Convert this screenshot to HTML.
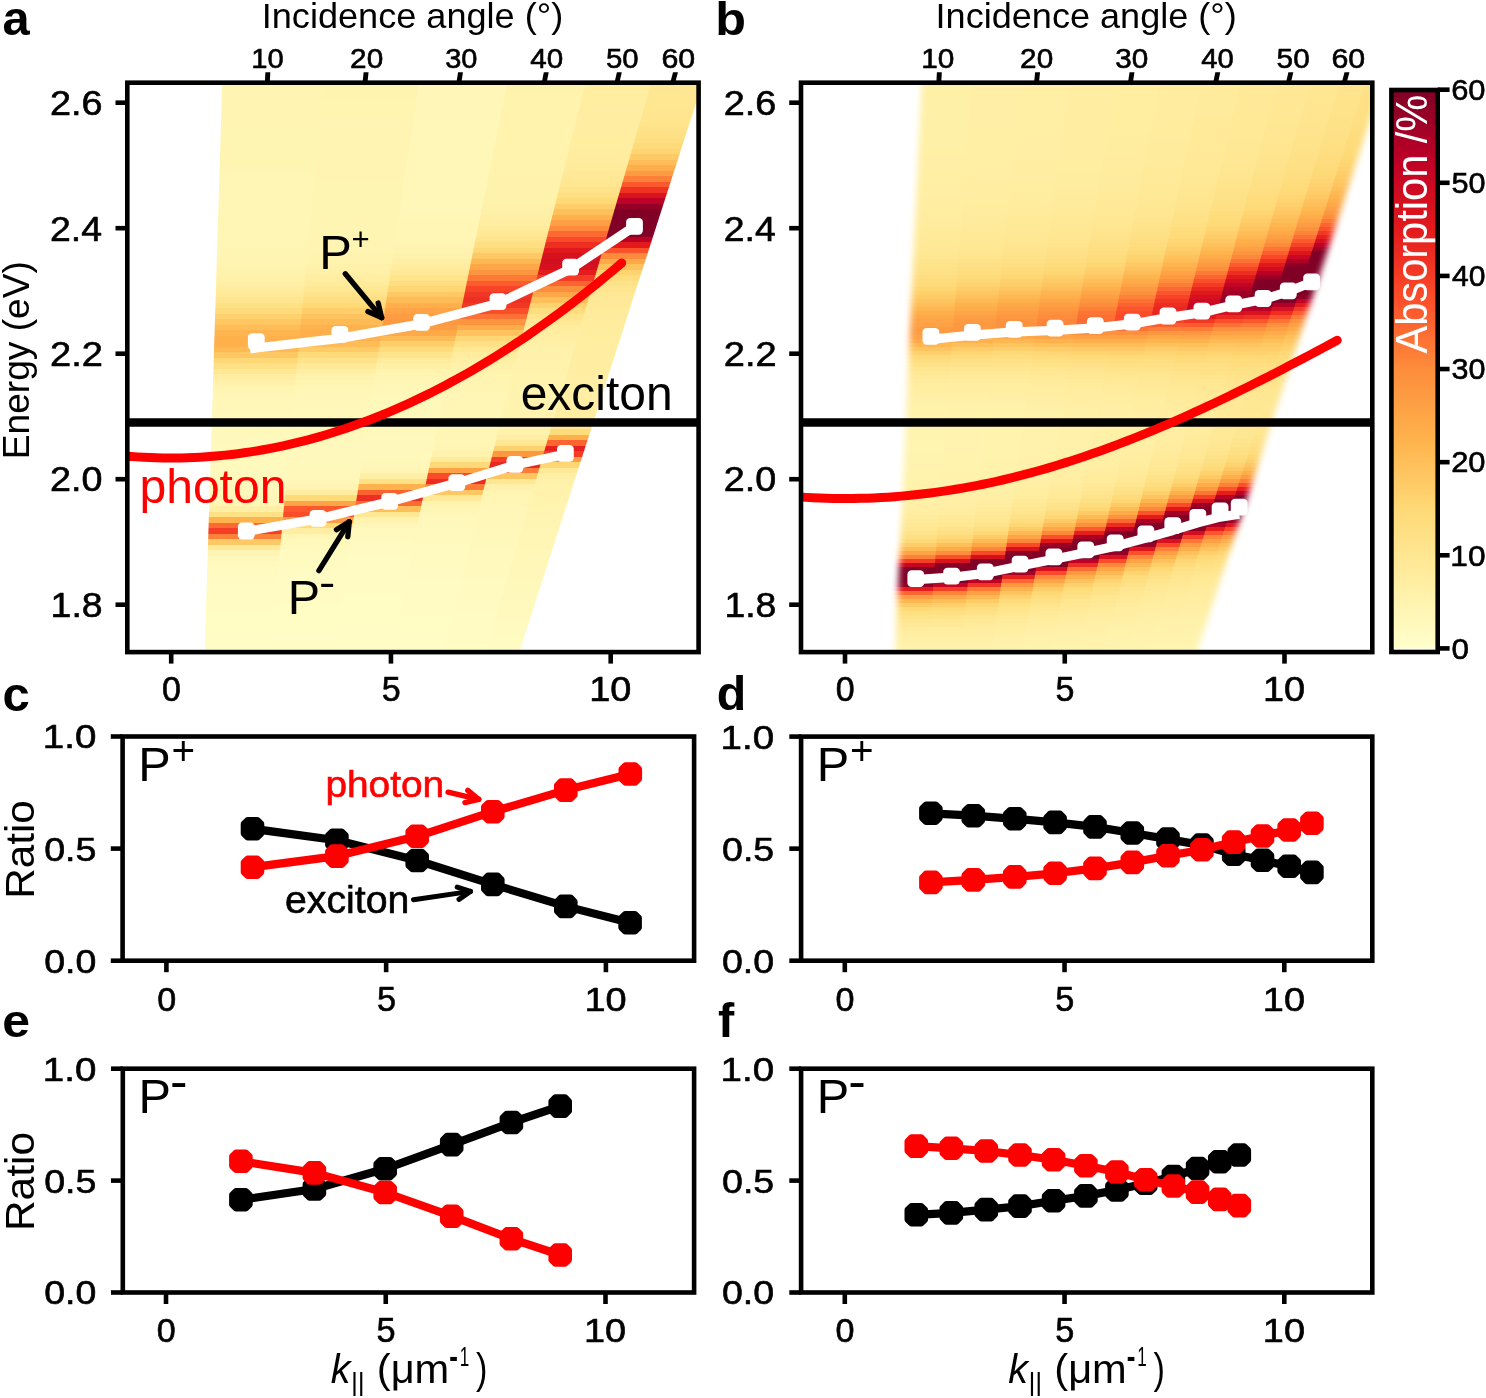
<!DOCTYPE html>
<html><head><meta charset="utf-8"><style>html,body{margin:0;padding:0;background:#fff;overflow:hidden}svg{display:block;will-change:transform}</style></head><body>
<svg width="1486" height="1398" viewBox="0 0 1486 1398" font-family="'Liberation Sans', sans-serif">
<rect width="1486" height="1398" fill="#fff"/>
<defs><clipPath id="cpa"><rect x="127.30" y="82.70" width="571.30" height="569.40"/></clipPath>
<clipPath id="cpb"><rect x="801.00" y="82.70" width="571.30" height="569.40"/></clipPath></defs>
<g clip-path="url(#cpa)">
<linearGradient id="g1" gradientUnits="userSpaceOnUse" x1="0" y1="82.70" x2="0" y2="652.10"><stop offset="0.0000" stop-color="#fff4b1"/><stop offset="0.0097" stop-color="#fff4b1"/><stop offset="0.0097" stop-color="#fff4b1"/><stop offset="0.0193" stop-color="#fff4b1"/><stop offset="0.0193" stop-color="#fff4b1"/><stop offset="0.0290" stop-color="#fff4b1"/><stop offset="0.0290" stop-color="#fff4b2"/><stop offset="0.0386" stop-color="#fff4b2"/><stop offset="0.0386" stop-color="#fff4b2"/><stop offset="0.0483" stop-color="#fff4b2"/><stop offset="0.0483" stop-color="#fff4b2"/><stop offset="0.0580" stop-color="#fff4b2"/><stop offset="0.0580" stop-color="#fff4b2"/><stop offset="0.0676" stop-color="#fff4b2"/><stop offset="0.0676" stop-color="#fff4b2"/><stop offset="0.0773" stop-color="#fff4b2"/><stop offset="0.0773" stop-color="#fff5b2"/><stop offset="0.0869" stop-color="#fff5b2"/><stop offset="0.0869" stop-color="#fff5b3"/><stop offset="0.0966" stop-color="#fff5b3"/><stop offset="0.0966" stop-color="#fff5b3"/><stop offset="0.1063" stop-color="#fff5b3"/><stop offset="0.1063" stop-color="#fff5b3"/><stop offset="0.1159" stop-color="#fff5b3"/><stop offset="0.1159" stop-color="#fff5b3"/><stop offset="0.1256" stop-color="#fff5b3"/><stop offset="0.1256" stop-color="#fff5b3"/><stop offset="0.1352" stop-color="#fff5b3"/><stop offset="0.1352" stop-color="#fff5b3"/><stop offset="0.1449" stop-color="#fff5b3"/><stop offset="0.1449" stop-color="#fff5b3"/><stop offset="0.1545" stop-color="#fff5b3"/><stop offset="0.1545" stop-color="#fff5b4"/><stop offset="0.1642" stop-color="#fff5b4"/><stop offset="0.1642" stop-color="#fff5b4"/><stop offset="0.1739" stop-color="#fff5b4"/><stop offset="0.1739" stop-color="#fff5b4"/><stop offset="0.1835" stop-color="#fff5b4"/><stop offset="0.1835" stop-color="#fff5b4"/><stop offset="0.1932" stop-color="#fff5b4"/><stop offset="0.1932" stop-color="#fff5b4"/><stop offset="0.2028" stop-color="#fff5b4"/><stop offset="0.2028" stop-color="#fff5b4"/><stop offset="0.2125" stop-color="#fff5b4"/><stop offset="0.2125" stop-color="#fff5b4"/><stop offset="0.2222" stop-color="#fff5b4"/><stop offset="0.2222" stop-color="#fff5b4"/><stop offset="0.2318" stop-color="#fff5b4"/><stop offset="0.2318" stop-color="#fff5b4"/><stop offset="0.2415" stop-color="#fff5b4"/><stop offset="0.2415" stop-color="#fff5b4"/><stop offset="0.2511" stop-color="#fff5b4"/><stop offset="0.2511" stop-color="#fff5b4"/><stop offset="0.2608" stop-color="#fff5b4"/><stop offset="0.2608" stop-color="#fff5b4"/><stop offset="0.2705" stop-color="#fff5b4"/><stop offset="0.2705" stop-color="#fff5b4"/><stop offset="0.2801" stop-color="#fff5b4"/><stop offset="0.2801" stop-color="#fff5b4"/><stop offset="0.2898" stop-color="#fff5b4"/><stop offset="0.2898" stop-color="#fff5b3"/><stop offset="0.2994" stop-color="#fff5b3"/><stop offset="0.2994" stop-color="#fff4b2"/><stop offset="0.3091" stop-color="#fff4b2"/><stop offset="0.3091" stop-color="#fff4b1"/><stop offset="0.3188" stop-color="#fff4b1"/><stop offset="0.3188" stop-color="#fff3af"/><stop offset="0.3284" stop-color="#fff3af"/><stop offset="0.3284" stop-color="#fff2ad"/><stop offset="0.3381" stop-color="#fff2ad"/><stop offset="0.3381" stop-color="#fff1a9"/><stop offset="0.3477" stop-color="#fff1a9"/><stop offset="0.3477" stop-color="#ffefa5"/><stop offset="0.3574" stop-color="#ffefa5"/><stop offset="0.3574" stop-color="#ffec9f"/><stop offset="0.3671" stop-color="#ffec9f"/><stop offset="0.3671" stop-color="#ffe997"/><stop offset="0.3767" stop-color="#ffe997"/><stop offset="0.3767" stop-color="#ffe58f"/><stop offset="0.3864" stop-color="#ffe58f"/><stop offset="0.3864" stop-color="#fee085"/><stop offset="0.3960" stop-color="#fee085"/><stop offset="0.3960" stop-color="#fedb7a"/><stop offset="0.4057" stop-color="#fedb7a"/><stop offset="0.4057" stop-color="#fed16e"/><stop offset="0.4153" stop-color="#fed16e"/><stop offset="0.4153" stop-color="#fec762"/><stop offset="0.4250" stop-color="#fec762"/><stop offset="0.4250" stop-color="#febd57"/><stop offset="0.4347" stop-color="#febd57"/><stop offset="0.4347" stop-color="#feb54f"/><stop offset="0.4443" stop-color="#feb54f"/><stop offset="0.4443" stop-color="#feb04b"/><stop offset="0.4540" stop-color="#feb04b"/><stop offset="0.4540" stop-color="#feb04b"/><stop offset="0.4636" stop-color="#feb04b"/><stop offset="0.4636" stop-color="#feb953"/><stop offset="0.4733" stop-color="#feb953"/><stop offset="0.4733" stop-color="#fec763"/><stop offset="0.4830" stop-color="#fec763"/><stop offset="0.4830" stop-color="#fed875"/><stop offset="0.4926" stop-color="#fed875"/><stop offset="0.4926" stop-color="#fee186"/><stop offset="0.5023" stop-color="#fee186"/><stop offset="0.5023" stop-color="#ffe895"/><stop offset="0.5119" stop-color="#ffe895"/><stop offset="0.5119" stop-color="#ffeea1"/><stop offset="0.5216" stop-color="#ffeea1"/><stop offset="0.5216" stop-color="#fff1aa"/><stop offset="0.5313" stop-color="#fff1aa"/><stop offset="0.5313" stop-color="#fff4b1"/><stop offset="0.5409" stop-color="#fff4b1"/><stop offset="0.5409" stop-color="#fff5b4"/><stop offset="0.5506" stop-color="#fff5b4"/><stop offset="0.5506" stop-color="#fff6b7"/><stop offset="0.5602" stop-color="#fff6b7"/><stop offset="0.5602" stop-color="#fff7b8"/><stop offset="0.5699" stop-color="#fff7b8"/><stop offset="0.5699" stop-color="#fff7b9"/><stop offset="0.5796" stop-color="#fff7b9"/><stop offset="0.5796" stop-color="#fff8ba"/><stop offset="0.5892" stop-color="#fff8ba"/><stop offset="0.5892" stop-color="#fff8bb"/><stop offset="0.5989" stop-color="#fff8bb"/><stop offset="0.5989" stop-color="#fff8bb"/><stop offset="0.6085" stop-color="#fff8bb"/><stop offset="0.6085" stop-color="#fff8bb"/><stop offset="0.6182" stop-color="#fff8bb"/><stop offset="0.6182" stop-color="#fff8bc"/><stop offset="0.6279" stop-color="#fff8bc"/><stop offset="0.6279" stop-color="#fff8bc"/><stop offset="0.6375" stop-color="#fff8bc"/><stop offset="0.6375" stop-color="#fff9bc"/><stop offset="0.6472" stop-color="#fff9bc"/><stop offset="0.6472" stop-color="#fff9bc"/><stop offset="0.6568" stop-color="#fff9bc"/><stop offset="0.6568" stop-color="#fff9bc"/><stop offset="0.6665" stop-color="#fff9bc"/><stop offset="0.6665" stop-color="#fff9bd"/><stop offset="0.6762" stop-color="#fff9bd"/><stop offset="0.6762" stop-color="#fff9bd"/><stop offset="0.6858" stop-color="#fff9bd"/><stop offset="0.6858" stop-color="#fff9bc"/><stop offset="0.6955" stop-color="#fff9bc"/><stop offset="0.6955" stop-color="#fff9bc"/><stop offset="0.7051" stop-color="#fff9bc"/><stop offset="0.7051" stop-color="#fff8bc"/><stop offset="0.7148" stop-color="#fff8bc"/><stop offset="0.7148" stop-color="#fff8bb"/><stop offset="0.7244" stop-color="#fff8bb"/><stop offset="0.7244" stop-color="#fff7b9"/><stop offset="0.7341" stop-color="#fff7b9"/><stop offset="0.7341" stop-color="#fff5b4"/><stop offset="0.7438" stop-color="#fff5b4"/><stop offset="0.7438" stop-color="#ffefa5"/><stop offset="0.7534" stop-color="#ffefa5"/><stop offset="0.7534" stop-color="#fee085"/><stop offset="0.7631" stop-color="#fee085"/><stop offset="0.7631" stop-color="#feb34d"/><stop offset="0.7727" stop-color="#feb34d"/><stop offset="0.7727" stop-color="#fc6932"/><stop offset="0.7824" stop-color="#fc6932"/><stop offset="0.7824" stop-color="#f43e26"/><stop offset="0.7921" stop-color="#f43e26"/><stop offset="0.7921" stop-color="#fd8239"/><stop offset="0.8017" stop-color="#fd8239"/><stop offset="0.8017" stop-color="#fec864"/><stop offset="0.8114" stop-color="#fec864"/><stop offset="0.8114" stop-color="#ffe998"/><stop offset="0.8210" stop-color="#ffe998"/><stop offset="0.8210" stop-color="#fff4b1"/><stop offset="0.8307" stop-color="#fff4b1"/><stop offset="0.8307" stop-color="#fff8bb"/><stop offset="0.8404" stop-color="#fff8bb"/><stop offset="0.8404" stop-color="#fff9be"/><stop offset="0.8500" stop-color="#fff9be"/><stop offset="0.8500" stop-color="#fffabf"/><stop offset="0.8597" stop-color="#fffabf"/><stop offset="0.8597" stop-color="#fffac0"/><stop offset="0.8693" stop-color="#fffac0"/><stop offset="0.8693" stop-color="#fffac1"/><stop offset="0.8790" stop-color="#fffac1"/><stop offset="0.8790" stop-color="#fffbc2"/><stop offset="0.8887" stop-color="#fffbc2"/><stop offset="0.8887" stop-color="#fffbc2"/><stop offset="0.8983" stop-color="#fffbc2"/><stop offset="0.8983" stop-color="#fffbc3"/><stop offset="0.9080" stop-color="#fffbc3"/><stop offset="0.9080" stop-color="#fffbc3"/><stop offset="0.9176" stop-color="#fffbc3"/><stop offset="0.9176" stop-color="#fffbc3"/><stop offset="0.9273" stop-color="#fffbc3"/><stop offset="0.9273" stop-color="#fffcc4"/><stop offset="0.9370" stop-color="#fffcc4"/><stop offset="0.9370" stop-color="#fffcc4"/><stop offset="0.9466" stop-color="#fffcc4"/><stop offset="0.9466" stop-color="#fffcc4"/><stop offset="0.9563" stop-color="#fffcc4"/><stop offset="0.9563" stop-color="#fffcc4"/><stop offset="0.9659" stop-color="#fffcc4"/><stop offset="0.9659" stop-color="#fffcc5"/><stop offset="0.9756" stop-color="#fffcc5"/><stop offset="0.9756" stop-color="#fffcc5"/><stop offset="0.9852" stop-color="#fffcc5"/><stop offset="0.9852" stop-color="#fffcc5"/><stop offset="0.9949" stop-color="#fffcc5"/><stop offset="0.9949" stop-color="#fffcc5"/><stop offset="1.0000" stop-color="#fffcc5"/></linearGradient>
<polygon points="222.30,82.70 323.74,82.70 271.42,652.10 204.68,652.10" fill="url(#g1)"/>
<linearGradient id="g2" gradientUnits="userSpaceOnUse" x1="0" y1="82.70" x2="0" y2="652.10"><stop offset="0.0000" stop-color="#fff3af"/><stop offset="0.0097" stop-color="#fff3af"/><stop offset="0.0097" stop-color="#fff3b0"/><stop offset="0.0193" stop-color="#fff3b0"/><stop offset="0.0193" stop-color="#fff3b0"/><stop offset="0.0290" stop-color="#fff3b0"/><stop offset="0.0290" stop-color="#fff4b0"/><stop offset="0.0386" stop-color="#fff4b0"/><stop offset="0.0386" stop-color="#fff4b0"/><stop offset="0.0483" stop-color="#fff4b0"/><stop offset="0.0483" stop-color="#fff4b0"/><stop offset="0.0580" stop-color="#fff4b0"/><stop offset="0.0580" stop-color="#fff4b1"/><stop offset="0.0676" stop-color="#fff4b1"/><stop offset="0.0676" stop-color="#fff4b1"/><stop offset="0.0773" stop-color="#fff4b1"/><stop offset="0.0773" stop-color="#fff4b1"/><stop offset="0.0869" stop-color="#fff4b1"/><stop offset="0.0869" stop-color="#fff4b1"/><stop offset="0.0966" stop-color="#fff4b1"/><stop offset="0.0966" stop-color="#fff4b1"/><stop offset="0.1063" stop-color="#fff4b1"/><stop offset="0.1063" stop-color="#fff4b1"/><stop offset="0.1159" stop-color="#fff4b1"/><stop offset="0.1159" stop-color="#fff4b2"/><stop offset="0.1256" stop-color="#fff4b2"/><stop offset="0.1256" stop-color="#fff4b2"/><stop offset="0.1352" stop-color="#fff4b2"/><stop offset="0.1352" stop-color="#fff4b2"/><stop offset="0.1449" stop-color="#fff4b2"/><stop offset="0.1449" stop-color="#fff4b2"/><stop offset="0.1545" stop-color="#fff4b2"/><stop offset="0.1545" stop-color="#fff4b2"/><stop offset="0.1642" stop-color="#fff4b2"/><stop offset="0.1642" stop-color="#fff4b2"/><stop offset="0.1739" stop-color="#fff4b2"/><stop offset="0.1739" stop-color="#fff5b2"/><stop offset="0.1835" stop-color="#fff5b2"/><stop offset="0.1835" stop-color="#fff5b3"/><stop offset="0.1932" stop-color="#fff5b3"/><stop offset="0.1932" stop-color="#fff5b3"/><stop offset="0.2028" stop-color="#fff5b3"/><stop offset="0.2028" stop-color="#fff5b3"/><stop offset="0.2125" stop-color="#fff5b3"/><stop offset="0.2125" stop-color="#fff5b3"/><stop offset="0.2222" stop-color="#fff5b3"/><stop offset="0.2222" stop-color="#fff5b3"/><stop offset="0.2318" stop-color="#fff5b3"/><stop offset="0.2318" stop-color="#fff5b3"/><stop offset="0.2415" stop-color="#fff5b3"/><stop offset="0.2415" stop-color="#fff5b3"/><stop offset="0.2511" stop-color="#fff5b3"/><stop offset="0.2511" stop-color="#fff5b3"/><stop offset="0.2608" stop-color="#fff5b3"/><stop offset="0.2608" stop-color="#fff5b3"/><stop offset="0.2705" stop-color="#fff5b3"/><stop offset="0.2705" stop-color="#fff4b2"/><stop offset="0.2801" stop-color="#fff4b2"/><stop offset="0.2801" stop-color="#fff4b2"/><stop offset="0.2898" stop-color="#fff4b2"/><stop offset="0.2898" stop-color="#fff4b1"/><stop offset="0.2994" stop-color="#fff4b1"/><stop offset="0.2994" stop-color="#fff3b0"/><stop offset="0.3091" stop-color="#fff3b0"/><stop offset="0.3091" stop-color="#fff3ae"/><stop offset="0.3188" stop-color="#fff3ae"/><stop offset="0.3188" stop-color="#fff1ab"/><stop offset="0.3284" stop-color="#fff1ab"/><stop offset="0.3284" stop-color="#fff0a7"/><stop offset="0.3381" stop-color="#fff0a7"/><stop offset="0.3381" stop-color="#ffeea2"/><stop offset="0.3477" stop-color="#ffeea2"/><stop offset="0.3477" stop-color="#ffeb9c"/><stop offset="0.3574" stop-color="#ffeb9c"/><stop offset="0.3574" stop-color="#ffe894"/><stop offset="0.3671" stop-color="#ffe894"/><stop offset="0.3671" stop-color="#ffe38b"/><stop offset="0.3767" stop-color="#ffe38b"/><stop offset="0.3767" stop-color="#fede81"/><stop offset="0.3864" stop-color="#fede81"/><stop offset="0.3864" stop-color="#fed976"/><stop offset="0.3960" stop-color="#fed976"/><stop offset="0.3960" stop-color="#fece6a"/><stop offset="0.4057" stop-color="#fece6a"/><stop offset="0.4057" stop-color="#fec35e"/><stop offset="0.4153" stop-color="#fec35e"/><stop offset="0.4153" stop-color="#feba54"/><stop offset="0.4250" stop-color="#feba54"/><stop offset="0.4250" stop-color="#feb24d"/><stop offset="0.4347" stop-color="#feb24d"/><stop offset="0.4347" stop-color="#feaf4b"/><stop offset="0.4443" stop-color="#feaf4b"/><stop offset="0.4443" stop-color="#feb14c"/><stop offset="0.4540" stop-color="#feb14c"/><stop offset="0.4540" stop-color="#febb56"/><stop offset="0.4636" stop-color="#febb56"/><stop offset="0.4636" stop-color="#fecb67"/><stop offset="0.4733" stop-color="#fecb67"/><stop offset="0.4733" stop-color="#feda79"/><stop offset="0.4830" stop-color="#feda79"/><stop offset="0.4830" stop-color="#fee38a"/><stop offset="0.4926" stop-color="#fee38a"/><stop offset="0.4926" stop-color="#ffe998"/><stop offset="0.5023" stop-color="#ffe998"/><stop offset="0.5023" stop-color="#ffeea3"/><stop offset="0.5119" stop-color="#ffeea3"/><stop offset="0.5119" stop-color="#fff2ac"/><stop offset="0.5216" stop-color="#fff2ac"/><stop offset="0.5216" stop-color="#fff4b1"/><stop offset="0.5313" stop-color="#fff4b1"/><stop offset="0.5313" stop-color="#fff5b5"/><stop offset="0.5409" stop-color="#fff5b5"/><stop offset="0.5409" stop-color="#fff6b7"/><stop offset="0.5506" stop-color="#fff6b7"/><stop offset="0.5506" stop-color="#fff7b8"/><stop offset="0.5602" stop-color="#fff7b8"/><stop offset="0.5602" stop-color="#fff7b9"/><stop offset="0.5699" stop-color="#fff7b9"/><stop offset="0.5699" stop-color="#fff8ba"/><stop offset="0.5796" stop-color="#fff8ba"/><stop offset="0.5796" stop-color="#fff8ba"/><stop offset="0.5892" stop-color="#fff8ba"/><stop offset="0.5892" stop-color="#fff8bb"/><stop offset="0.5989" stop-color="#fff8bb"/><stop offset="0.5989" stop-color="#fff8bb"/><stop offset="0.6085" stop-color="#fff8bb"/><stop offset="0.6085" stop-color="#fff8bb"/><stop offset="0.6182" stop-color="#fff8bb"/><stop offset="0.6182" stop-color="#fff8bb"/><stop offset="0.6279" stop-color="#fff8bb"/><stop offset="0.6279" stop-color="#fff8bc"/><stop offset="0.6375" stop-color="#fff8bc"/><stop offset="0.6375" stop-color="#fff8bc"/><stop offset="0.6472" stop-color="#fff8bc"/><stop offset="0.6472" stop-color="#fff8bc"/><stop offset="0.6568" stop-color="#fff8bc"/><stop offset="0.6568" stop-color="#fff8bc"/><stop offset="0.6665" stop-color="#fff8bc"/><stop offset="0.6665" stop-color="#fff8bb"/><stop offset="0.6762" stop-color="#fff8bb"/><stop offset="0.6762" stop-color="#fff8bb"/><stop offset="0.6858" stop-color="#fff8bb"/><stop offset="0.6858" stop-color="#fff8ba"/><stop offset="0.6955" stop-color="#fff8ba"/><stop offset="0.6955" stop-color="#fff7b8"/><stop offset="0.7051" stop-color="#fff7b8"/><stop offset="0.7051" stop-color="#fff4b1"/><stop offset="0.7148" stop-color="#fff4b1"/><stop offset="0.7148" stop-color="#ffec9e"/><stop offset="0.7244" stop-color="#ffec9e"/><stop offset="0.7244" stop-color="#feda78"/><stop offset="0.7341" stop-color="#feda78"/><stop offset="0.7341" stop-color="#fea346"/><stop offset="0.7438" stop-color="#fea346"/><stop offset="0.7438" stop-color="#fc582d"/><stop offset="0.7534" stop-color="#fc582d"/><stop offset="0.7534" stop-color="#fb4c29"/><stop offset="0.7631" stop-color="#fb4c29"/><stop offset="0.7631" stop-color="#fd9d43"/><stop offset="0.7727" stop-color="#fd9d43"/><stop offset="0.7727" stop-color="#feda78"/><stop offset="0.7824" stop-color="#feda78"/><stop offset="0.7824" stop-color="#ffeea2"/><stop offset="0.7921" stop-color="#ffeea2"/><stop offset="0.7921" stop-color="#fff6b5"/><stop offset="0.8017" stop-color="#fff6b5"/><stop offset="0.8017" stop-color="#fff8bb"/><stop offset="0.8114" stop-color="#fff8bb"/><stop offset="0.8114" stop-color="#fff9be"/><stop offset="0.8210" stop-color="#fff9be"/><stop offset="0.8210" stop-color="#fffabf"/><stop offset="0.8307" stop-color="#fffabf"/><stop offset="0.8307" stop-color="#fffac0"/><stop offset="0.8404" stop-color="#fffac0"/><stop offset="0.8404" stop-color="#fffac0"/><stop offset="0.8500" stop-color="#fffac0"/><stop offset="0.8500" stop-color="#fffbc1"/><stop offset="0.8597" stop-color="#fffbc1"/><stop offset="0.8597" stop-color="#fffbc2"/><stop offset="0.8693" stop-color="#fffbc2"/><stop offset="0.8693" stop-color="#fffbc2"/><stop offset="0.8790" stop-color="#fffbc2"/><stop offset="0.8790" stop-color="#fffbc2"/><stop offset="0.8887" stop-color="#fffbc2"/><stop offset="0.8887" stop-color="#fffbc3"/><stop offset="0.8983" stop-color="#fffbc3"/><stop offset="0.8983" stop-color="#fffbc3"/><stop offset="0.9080" stop-color="#fffbc3"/><stop offset="0.9080" stop-color="#fffbc3"/><stop offset="0.9176" stop-color="#fffbc3"/><stop offset="0.9176" stop-color="#fffcc4"/><stop offset="0.9273" stop-color="#fffcc4"/><stop offset="0.9273" stop-color="#fffcc4"/><stop offset="0.9370" stop-color="#fffcc4"/><stop offset="0.9370" stop-color="#fffcc4"/><stop offset="0.9466" stop-color="#fffcc4"/><stop offset="0.9466" stop-color="#fffcc4"/><stop offset="0.9563" stop-color="#fffcc4"/><stop offset="0.9563" stop-color="#fffcc5"/><stop offset="0.9659" stop-color="#fffcc5"/><stop offset="0.9659" stop-color="#fffcc5"/><stop offset="0.9756" stop-color="#fffcc5"/><stop offset="0.9756" stop-color="#fffcc5"/><stop offset="0.9852" stop-color="#fffcc5"/><stop offset="0.9852" stop-color="#fffcc5"/><stop offset="0.9949" stop-color="#fffcc5"/><stop offset="0.9949" stop-color="#fffcc6"/><stop offset="1.0000" stop-color="#fffcc6"/></linearGradient>
<polygon points="322.94,82.70 419.77,82.70 334.34,652.10 270.62,652.10" fill="url(#g2)"/>
<linearGradient id="g3" gradientUnits="userSpaceOnUse" x1="0" y1="82.70" x2="0" y2="652.10"><stop offset="0.0000" stop-color="#fff6b7"/><stop offset="0.0097" stop-color="#fff6b7"/><stop offset="0.0097" stop-color="#fff6b7"/><stop offset="0.0193" stop-color="#fff6b7"/><stop offset="0.0193" stop-color="#fff6b7"/><stop offset="0.0290" stop-color="#fff6b7"/><stop offset="0.0290" stop-color="#fff6b7"/><stop offset="0.0386" stop-color="#fff6b7"/><stop offset="0.0386" stop-color="#fff6b7"/><stop offset="0.0483" stop-color="#fff6b7"/><stop offset="0.0483" stop-color="#fff6b7"/><stop offset="0.0580" stop-color="#fff6b7"/><stop offset="0.0580" stop-color="#fff7b7"/><stop offset="0.0676" stop-color="#fff7b7"/><stop offset="0.0676" stop-color="#fff7b7"/><stop offset="0.0773" stop-color="#fff7b7"/><stop offset="0.0773" stop-color="#fff7b7"/><stop offset="0.0869" stop-color="#fff7b7"/><stop offset="0.0869" stop-color="#fff7b7"/><stop offset="0.0966" stop-color="#fff7b7"/><stop offset="0.0966" stop-color="#fff7b8"/><stop offset="0.1063" stop-color="#fff7b8"/><stop offset="0.1063" stop-color="#fff7b8"/><stop offset="0.1159" stop-color="#fff7b8"/><stop offset="0.1159" stop-color="#fff7b8"/><stop offset="0.1256" stop-color="#fff7b8"/><stop offset="0.1256" stop-color="#fff7b8"/><stop offset="0.1352" stop-color="#fff7b8"/><stop offset="0.1352" stop-color="#fff7b8"/><stop offset="0.1449" stop-color="#fff7b8"/><stop offset="0.1449" stop-color="#fff7b8"/><stop offset="0.1545" stop-color="#fff7b8"/><stop offset="0.1545" stop-color="#fff7b8"/><stop offset="0.1642" stop-color="#fff7b8"/><stop offset="0.1642" stop-color="#fff7b8"/><stop offset="0.1739" stop-color="#fff7b8"/><stop offset="0.1739" stop-color="#fff7b8"/><stop offset="0.1835" stop-color="#fff7b8"/><stop offset="0.1835" stop-color="#fff7b8"/><stop offset="0.1932" stop-color="#fff7b8"/><stop offset="0.1932" stop-color="#fff7b8"/><stop offset="0.2028" stop-color="#fff7b8"/><stop offset="0.2028" stop-color="#fff7b7"/><stop offset="0.2125" stop-color="#fff7b7"/><stop offset="0.2125" stop-color="#fff7b7"/><stop offset="0.2222" stop-color="#fff7b7"/><stop offset="0.2222" stop-color="#fff6b7"/><stop offset="0.2318" stop-color="#fff6b7"/><stop offset="0.2318" stop-color="#fff6b7"/><stop offset="0.2415" stop-color="#fff6b7"/><stop offset="0.2415" stop-color="#fff6b6"/><stop offset="0.2511" stop-color="#fff6b6"/><stop offset="0.2511" stop-color="#fff6b6"/><stop offset="0.2608" stop-color="#fff6b6"/><stop offset="0.2608" stop-color="#fff6b5"/><stop offset="0.2705" stop-color="#fff6b5"/><stop offset="0.2705" stop-color="#fff5b4"/><stop offset="0.2801" stop-color="#fff5b4"/><stop offset="0.2801" stop-color="#fff4b2"/><stop offset="0.2898" stop-color="#fff4b2"/><stop offset="0.2898" stop-color="#fff3af"/><stop offset="0.2994" stop-color="#fff3af"/><stop offset="0.2994" stop-color="#fff1ab"/><stop offset="0.3091" stop-color="#fff1ab"/><stop offset="0.3091" stop-color="#ffefa6"/><stop offset="0.3188" stop-color="#ffefa6"/><stop offset="0.3188" stop-color="#ffec9f"/><stop offset="0.3284" stop-color="#ffec9f"/><stop offset="0.3284" stop-color="#ffe997"/><stop offset="0.3381" stop-color="#ffe997"/><stop offset="0.3381" stop-color="#ffe48c"/><stop offset="0.3477" stop-color="#ffe48c"/><stop offset="0.3477" stop-color="#fede81"/><stop offset="0.3574" stop-color="#fede81"/><stop offset="0.3574" stop-color="#fed673"/><stop offset="0.3671" stop-color="#fed673"/><stop offset="0.3671" stop-color="#fec965"/><stop offset="0.3767" stop-color="#fec965"/><stop offset="0.3767" stop-color="#febb56"/><stop offset="0.3864" stop-color="#febb56"/><stop offset="0.3864" stop-color="#feae4a"/><stop offset="0.3960" stop-color="#feae4a"/><stop offset="0.3960" stop-color="#fea346"/><stop offset="0.4057" stop-color="#fea346"/><stop offset="0.4057" stop-color="#fd9c42"/><stop offset="0.4153" stop-color="#fd9c42"/><stop offset="0.4153" stop-color="#fd9941"/><stop offset="0.4250" stop-color="#fd9941"/><stop offset="0.4250" stop-color="#fd9d43"/><stop offset="0.4347" stop-color="#fd9d43"/><stop offset="0.4347" stop-color="#fea948"/><stop offset="0.4443" stop-color="#fea948"/><stop offset="0.4443" stop-color="#febb55"/><stop offset="0.4540" stop-color="#febb55"/><stop offset="0.4540" stop-color="#fece6a"/><stop offset="0.4636" stop-color="#fece6a"/><stop offset="0.4636" stop-color="#fedc7d"/><stop offset="0.4733" stop-color="#fedc7d"/><stop offset="0.4733" stop-color="#ffe48e"/><stop offset="0.4830" stop-color="#ffe48e"/><stop offset="0.4830" stop-color="#ffeb9c"/><stop offset="0.4926" stop-color="#ffeb9c"/><stop offset="0.4926" stop-color="#fff0a6"/><stop offset="0.5023" stop-color="#fff0a6"/><stop offset="0.5023" stop-color="#fff3ae"/><stop offset="0.5119" stop-color="#fff3ae"/><stop offset="0.5119" stop-color="#fff5b3"/><stop offset="0.5216" stop-color="#fff5b3"/><stop offset="0.5216" stop-color="#fff6b6"/><stop offset="0.5313" stop-color="#fff6b6"/><stop offset="0.5313" stop-color="#fff7b8"/><stop offset="0.5409" stop-color="#fff7b8"/><stop offset="0.5409" stop-color="#fff7b9"/><stop offset="0.5506" stop-color="#fff7b9"/><stop offset="0.5506" stop-color="#fff8ba"/><stop offset="0.5602" stop-color="#fff8ba"/><stop offset="0.5602" stop-color="#fff8bb"/><stop offset="0.5699" stop-color="#fff8bb"/><stop offset="0.5699" stop-color="#fff8bb"/><stop offset="0.5796" stop-color="#fff8bb"/><stop offset="0.5796" stop-color="#fff8bc"/><stop offset="0.5892" stop-color="#fff8bc"/><stop offset="0.5892" stop-color="#fff8bc"/><stop offset="0.5989" stop-color="#fff8bc"/><stop offset="0.5989" stop-color="#fff8bc"/><stop offset="0.6085" stop-color="#fff8bc"/><stop offset="0.6085" stop-color="#fff8bc"/><stop offset="0.6182" stop-color="#fff8bc"/><stop offset="0.6182" stop-color="#fff9bc"/><stop offset="0.6279" stop-color="#fff9bc"/><stop offset="0.6279" stop-color="#fff8bc"/><stop offset="0.6375" stop-color="#fff8bc"/><stop offset="0.6375" stop-color="#fff8bc"/><stop offset="0.6472" stop-color="#fff8bc"/><stop offset="0.6472" stop-color="#fff8bb"/><stop offset="0.6568" stop-color="#fff8bb"/><stop offset="0.6568" stop-color="#fff8bb"/><stop offset="0.6665" stop-color="#fff8bb"/><stop offset="0.6665" stop-color="#fff7b9"/><stop offset="0.6762" stop-color="#fff7b9"/><stop offset="0.6762" stop-color="#fff5b4"/><stop offset="0.6858" stop-color="#fff5b4"/><stop offset="0.6858" stop-color="#ffefa5"/><stop offset="0.6955" stop-color="#ffefa5"/><stop offset="0.6955" stop-color="#fee085"/><stop offset="0.7051" stop-color="#fee085"/><stop offset="0.7051" stop-color="#feb24c"/><stop offset="0.7148" stop-color="#feb24c"/><stop offset="0.7148" stop-color="#fc6230"/><stop offset="0.7244" stop-color="#fc6230"/><stop offset="0.7244" stop-color="#ed2f22"/><stop offset="0.7341" stop-color="#ed2f22"/><stop offset="0.7341" stop-color="#fc6b32"/><stop offset="0.7438" stop-color="#fc6b32"/><stop offset="0.7438" stop-color="#febe59"/><stop offset="0.7534" stop-color="#febe59"/><stop offset="0.7534" stop-color="#ffe793"/><stop offset="0.7631" stop-color="#ffe793"/><stop offset="0.7631" stop-color="#fff3af"/><stop offset="0.7727" stop-color="#fff3af"/><stop offset="0.7727" stop-color="#fff7b9"/><stop offset="0.7824" stop-color="#fff7b9"/><stop offset="0.7824" stop-color="#fff9bd"/><stop offset="0.7921" stop-color="#fff9bd"/><stop offset="0.7921" stop-color="#fff9be"/><stop offset="0.8017" stop-color="#fff9be"/><stop offset="0.8017" stop-color="#fffabf"/><stop offset="0.8114" stop-color="#fffabf"/><stop offset="0.8114" stop-color="#fffac0"/><stop offset="0.8210" stop-color="#fffac0"/><stop offset="0.8210" stop-color="#fffac1"/><stop offset="0.8307" stop-color="#fffac1"/><stop offset="0.8307" stop-color="#fffbc1"/><stop offset="0.8404" stop-color="#fffbc1"/><stop offset="0.8404" stop-color="#fffbc2"/><stop offset="0.8500" stop-color="#fffbc2"/><stop offset="0.8500" stop-color="#fffbc2"/><stop offset="0.8597" stop-color="#fffbc2"/><stop offset="0.8597" stop-color="#fffbc2"/><stop offset="0.8693" stop-color="#fffbc2"/><stop offset="0.8693" stop-color="#fffbc3"/><stop offset="0.8790" stop-color="#fffbc3"/><stop offset="0.8790" stop-color="#fffbc3"/><stop offset="0.8887" stop-color="#fffbc3"/><stop offset="0.8887" stop-color="#fffbc3"/><stop offset="0.8983" stop-color="#fffbc3"/><stop offset="0.8983" stop-color="#fffcc4"/><stop offset="0.9080" stop-color="#fffcc4"/><stop offset="0.9080" stop-color="#fffcc4"/><stop offset="0.9176" stop-color="#fffcc4"/><stop offset="0.9176" stop-color="#fffcc4"/><stop offset="0.9273" stop-color="#fffcc4"/><stop offset="0.9273" stop-color="#fffcc4"/><stop offset="0.9370" stop-color="#fffcc4"/><stop offset="0.9370" stop-color="#fffcc4"/><stop offset="0.9466" stop-color="#fffcc4"/><stop offset="0.9466" stop-color="#fffcc5"/><stop offset="0.9563" stop-color="#fffcc5"/><stop offset="0.9563" stop-color="#fffcc5"/><stop offset="0.9659" stop-color="#fffcc5"/><stop offset="0.9659" stop-color="#fffcc5"/><stop offset="0.9756" stop-color="#fffcc5"/><stop offset="0.9756" stop-color="#fffcc5"/><stop offset="0.9852" stop-color="#fffcc5"/><stop offset="0.9852" stop-color="#fffcc5"/><stop offset="0.9949" stop-color="#fffcc5"/><stop offset="0.9949" stop-color="#fffcc6"/><stop offset="1.0000" stop-color="#fffcc6"/></linearGradient>
<polygon points="418.97,82.70 508.27,82.70 392.33,652.10 333.54,652.10" fill="url(#g3)"/>
<linearGradient id="g4" gradientUnits="userSpaceOnUse" x1="0" y1="82.70" x2="0" y2="652.10"><stop offset="0.0000" stop-color="#fff2ad"/><stop offset="0.0097" stop-color="#fff2ad"/><stop offset="0.0097" stop-color="#fff2ad"/><stop offset="0.0193" stop-color="#fff2ad"/><stop offset="0.0193" stop-color="#fff3ad"/><stop offset="0.0290" stop-color="#fff3ad"/><stop offset="0.0290" stop-color="#fff3ae"/><stop offset="0.0386" stop-color="#fff3ae"/><stop offset="0.0386" stop-color="#fff3ae"/><stop offset="0.0483" stop-color="#fff3ae"/><stop offset="0.0483" stop-color="#fff3ae"/><stop offset="0.0580" stop-color="#fff3ae"/><stop offset="0.0580" stop-color="#fff3ae"/><stop offset="0.0676" stop-color="#fff3ae"/><stop offset="0.0676" stop-color="#fff3ae"/><stop offset="0.0773" stop-color="#fff3ae"/><stop offset="0.0773" stop-color="#fff3ae"/><stop offset="0.0869" stop-color="#fff3ae"/><stop offset="0.0869" stop-color="#fff3ae"/><stop offset="0.0966" stop-color="#fff3ae"/><stop offset="0.0966" stop-color="#fff3ae"/><stop offset="0.1063" stop-color="#fff3ae"/><stop offset="0.1063" stop-color="#fff3ae"/><stop offset="0.1159" stop-color="#fff3ae"/><stop offset="0.1159" stop-color="#fff3ae"/><stop offset="0.1256" stop-color="#fff3ae"/><stop offset="0.1256" stop-color="#fff3ae"/><stop offset="0.1352" stop-color="#fff3ae"/><stop offset="0.1352" stop-color="#fff3ae"/><stop offset="0.1449" stop-color="#fff3ae"/><stop offset="0.1449" stop-color="#fff3ae"/><stop offset="0.1545" stop-color="#fff3ae"/><stop offset="0.1545" stop-color="#fff3ae"/><stop offset="0.1642" stop-color="#fff3ae"/><stop offset="0.1642" stop-color="#fff2ad"/><stop offset="0.1739" stop-color="#fff2ad"/><stop offset="0.1739" stop-color="#fff2ad"/><stop offset="0.1835" stop-color="#fff2ad"/><stop offset="0.1835" stop-color="#fff2ad"/><stop offset="0.1932" stop-color="#fff2ad"/><stop offset="0.1932" stop-color="#fff2ac"/><stop offset="0.2028" stop-color="#fff2ac"/><stop offset="0.2028" stop-color="#fff2ab"/><stop offset="0.2125" stop-color="#fff2ab"/><stop offset="0.2125" stop-color="#fff1aa"/><stop offset="0.2222" stop-color="#fff1aa"/><stop offset="0.2222" stop-color="#fff0a8"/><stop offset="0.2318" stop-color="#fff0a8"/><stop offset="0.2318" stop-color="#ffefa5"/><stop offset="0.2415" stop-color="#ffefa5"/><stop offset="0.2415" stop-color="#ffeea1"/><stop offset="0.2511" stop-color="#ffeea1"/><stop offset="0.2511" stop-color="#ffeb9c"/><stop offset="0.2608" stop-color="#ffeb9c"/><stop offset="0.2608" stop-color="#ffe896"/><stop offset="0.2705" stop-color="#ffe896"/><stop offset="0.2705" stop-color="#ffe48d"/><stop offset="0.2801" stop-color="#ffe48d"/><stop offset="0.2801" stop-color="#fedf82"/><stop offset="0.2898" stop-color="#fedf82"/><stop offset="0.2898" stop-color="#fed875"/><stop offset="0.2994" stop-color="#fed875"/><stop offset="0.2994" stop-color="#fec965"/><stop offset="0.3091" stop-color="#fec965"/><stop offset="0.3091" stop-color="#feb853"/><stop offset="0.3188" stop-color="#feb853"/><stop offset="0.3188" stop-color="#fea747"/><stop offset="0.3284" stop-color="#fea747"/><stop offset="0.3284" stop-color="#fd943f"/><stop offset="0.3381" stop-color="#fd943f"/><stop offset="0.3381" stop-color="#fd7936"/><stop offset="0.3477" stop-color="#fd7936"/><stop offset="0.3477" stop-color="#fc5b2e"/><stop offset="0.3574" stop-color="#fc5b2e"/><stop offset="0.3574" stop-color="#f74427"/><stop offset="0.3671" stop-color="#f74427"/><stop offset="0.3671" stop-color="#f03624"/><stop offset="0.3767" stop-color="#f03624"/><stop offset="0.3767" stop-color="#ee3022"/><stop offset="0.3864" stop-color="#ee3022"/><stop offset="0.3864" stop-color="#f13824"/><stop offset="0.3960" stop-color="#f13824"/><stop offset="0.3960" stop-color="#fb4d2a"/><stop offset="0.4057" stop-color="#fb4d2a"/><stop offset="0.4057" stop-color="#fd7134"/><stop offset="0.4153" stop-color="#fd7134"/><stop offset="0.4153" stop-color="#fd943f"/><stop offset="0.4250" stop-color="#fd943f"/><stop offset="0.4250" stop-color="#feac4a"/><stop offset="0.4347" stop-color="#feac4a"/><stop offset="0.4347" stop-color="#fec35f"/><stop offset="0.4443" stop-color="#fec35f"/><stop offset="0.4443" stop-color="#fed774"/><stop offset="0.4540" stop-color="#fed774"/><stop offset="0.4540" stop-color="#fee186"/><stop offset="0.4636" stop-color="#fee186"/><stop offset="0.4636" stop-color="#ffe794"/><stop offset="0.4733" stop-color="#ffe794"/><stop offset="0.4733" stop-color="#ffec9e"/><stop offset="0.4830" stop-color="#ffec9e"/><stop offset="0.4830" stop-color="#ffefa5"/><stop offset="0.4926" stop-color="#ffefa5"/><stop offset="0.4926" stop-color="#fff1aa"/><stop offset="0.5023" stop-color="#fff1aa"/><stop offset="0.5023" stop-color="#fff3ae"/><stop offset="0.5119" stop-color="#fff3ae"/><stop offset="0.5119" stop-color="#fff4b0"/><stop offset="0.5216" stop-color="#fff4b0"/><stop offset="0.5216" stop-color="#fff4b2"/><stop offset="0.5313" stop-color="#fff4b2"/><stop offset="0.5313" stop-color="#fff5b3"/><stop offset="0.5409" stop-color="#fff5b3"/><stop offset="0.5409" stop-color="#fff5b4"/><stop offset="0.5506" stop-color="#fff5b4"/><stop offset="0.5506" stop-color="#fff5b4"/><stop offset="0.5602" stop-color="#fff5b4"/><stop offset="0.5602" stop-color="#fff6b5"/><stop offset="0.5699" stop-color="#fff6b5"/><stop offset="0.5699" stop-color="#fff6b5"/><stop offset="0.5796" stop-color="#fff6b5"/><stop offset="0.5796" stop-color="#fff6b6"/><stop offset="0.5892" stop-color="#fff6b6"/><stop offset="0.5892" stop-color="#fff6b6"/><stop offset="0.5989" stop-color="#fff6b6"/><stop offset="0.5989" stop-color="#fff6b6"/><stop offset="0.6085" stop-color="#fff6b6"/><stop offset="0.6085" stop-color="#fff6b6"/><stop offset="0.6182" stop-color="#fff6b6"/><stop offset="0.6182" stop-color="#fff6b5"/><stop offset="0.6279" stop-color="#fff6b5"/><stop offset="0.6279" stop-color="#fff5b5"/><stop offset="0.6375" stop-color="#fff5b5"/><stop offset="0.6375" stop-color="#fff5b3"/><stop offset="0.6472" stop-color="#fff5b3"/><stop offset="0.6472" stop-color="#fff2ad"/><stop offset="0.6568" stop-color="#fff2ad"/><stop offset="0.6568" stop-color="#ffeb9c"/><stop offset="0.6665" stop-color="#ffeb9c"/><stop offset="0.6665" stop-color="#fed977"/><stop offset="0.6762" stop-color="#fed977"/><stop offset="0.6762" stop-color="#fea245"/><stop offset="0.6858" stop-color="#fea245"/><stop offset="0.6858" stop-color="#fa4a29"/><stop offset="0.6955" stop-color="#fa4a29"/><stop offset="0.6955" stop-color="#ec2c21"/><stop offset="0.7051" stop-color="#ec2c21"/><stop offset="0.7051" stop-color="#fd7b37"/><stop offset="0.7148" stop-color="#fd7b37"/><stop offset="0.7148" stop-color="#fec763"/><stop offset="0.7244" stop-color="#fec763"/><stop offset="0.7244" stop-color="#ffe896"/><stop offset="0.7341" stop-color="#ffe896"/><stop offset="0.7341" stop-color="#fff3ae"/><stop offset="0.7438" stop-color="#fff3ae"/><stop offset="0.7438" stop-color="#fff6b6"/><stop offset="0.7534" stop-color="#fff6b6"/><stop offset="0.7534" stop-color="#fff7b9"/><stop offset="0.7631" stop-color="#fff7b9"/><stop offset="0.7631" stop-color="#fff8bb"/><stop offset="0.7727" stop-color="#fff8bb"/><stop offset="0.7727" stop-color="#fff8bc"/><stop offset="0.7824" stop-color="#fff8bc"/><stop offset="0.7824" stop-color="#fff9bd"/><stop offset="0.7921" stop-color="#fff9bd"/><stop offset="0.7921" stop-color="#fff9be"/><stop offset="0.8017" stop-color="#fff9be"/><stop offset="0.8017" stop-color="#fff9be"/><stop offset="0.8114" stop-color="#fff9be"/><stop offset="0.8114" stop-color="#fffabf"/><stop offset="0.8210" stop-color="#fffabf"/><stop offset="0.8210" stop-color="#fffabf"/><stop offset="0.8307" stop-color="#fffabf"/><stop offset="0.8307" stop-color="#fffac0"/><stop offset="0.8404" stop-color="#fffac0"/><stop offset="0.8404" stop-color="#fffac0"/><stop offset="0.8500" stop-color="#fffac0"/><stop offset="0.8500" stop-color="#fffac1"/><stop offset="0.8597" stop-color="#fffac1"/><stop offset="0.8597" stop-color="#fffac1"/><stop offset="0.8693" stop-color="#fffac1"/><stop offset="0.8693" stop-color="#fffbc1"/><stop offset="0.8790" stop-color="#fffbc1"/><stop offset="0.8790" stop-color="#fffbc2"/><stop offset="0.8887" stop-color="#fffbc2"/><stop offset="0.8887" stop-color="#fffbc2"/><stop offset="0.8983" stop-color="#fffbc2"/><stop offset="0.8983" stop-color="#fffbc2"/><stop offset="0.9080" stop-color="#fffbc2"/><stop offset="0.9080" stop-color="#fffbc3"/><stop offset="0.9176" stop-color="#fffbc3"/><stop offset="0.9176" stop-color="#fffbc3"/><stop offset="0.9273" stop-color="#fffbc3"/><stop offset="0.9273" stop-color="#fffbc3"/><stop offset="0.9370" stop-color="#fffbc3"/><stop offset="0.9370" stop-color="#fffcc4"/><stop offset="0.9466" stop-color="#fffcc4"/><stop offset="0.9466" stop-color="#fffcc4"/><stop offset="0.9563" stop-color="#fffcc4"/><stop offset="0.9563" stop-color="#fffcc4"/><stop offset="0.9659" stop-color="#fffcc4"/><stop offset="0.9659" stop-color="#fffcc5"/><stop offset="0.9756" stop-color="#fffcc5"/><stop offset="0.9756" stop-color="#fffcc5"/><stop offset="0.9852" stop-color="#fffcc5"/><stop offset="0.9852" stop-color="#fffcc5"/><stop offset="0.9949" stop-color="#fffcc5"/><stop offset="0.9949" stop-color="#fffcc5"/><stop offset="1.0000" stop-color="#fffcc5"/></linearGradient>
<polygon points="507.47,82.70 586.55,82.70 443.63,652.10 391.53,652.10" fill="url(#g4)"/>
<linearGradient id="g5" gradientUnits="userSpaceOnUse" x1="0" y1="82.70" x2="0" y2="652.10"><stop offset="0.0000" stop-color="#ffeda0"/><stop offset="0.0097" stop-color="#ffeda0"/><stop offset="0.0097" stop-color="#ffeda0"/><stop offset="0.0193" stop-color="#ffeda0"/><stop offset="0.0193" stop-color="#ffeda0"/><stop offset="0.0290" stop-color="#ffeda0"/><stop offset="0.0290" stop-color="#ffeda1"/><stop offset="0.0386" stop-color="#ffeda1"/><stop offset="0.0386" stop-color="#ffeda1"/><stop offset="0.0483" stop-color="#ffeda1"/><stop offset="0.0483" stop-color="#ffeda1"/><stop offset="0.0580" stop-color="#ffeda1"/><stop offset="0.0580" stop-color="#ffeda1"/><stop offset="0.0676" stop-color="#ffeda1"/><stop offset="0.0676" stop-color="#ffeda1"/><stop offset="0.0773" stop-color="#ffeda1"/><stop offset="0.0773" stop-color="#ffeda1"/><stop offset="0.0869" stop-color="#ffeda1"/><stop offset="0.0869" stop-color="#ffeda0"/><stop offset="0.0966" stop-color="#ffeda0"/><stop offset="0.0966" stop-color="#ffeda0"/><stop offset="0.1063" stop-color="#ffeda0"/><stop offset="0.1063" stop-color="#ffeda0"/><stop offset="0.1159" stop-color="#ffeda0"/><stop offset="0.1159" stop-color="#ffed9f"/><stop offset="0.1256" stop-color="#ffed9f"/><stop offset="0.1256" stop-color="#ffec9e"/><stop offset="0.1352" stop-color="#ffec9e"/><stop offset="0.1352" stop-color="#ffec9d"/><stop offset="0.1449" stop-color="#ffec9d"/><stop offset="0.1449" stop-color="#ffeb9b"/><stop offset="0.1545" stop-color="#ffeb9b"/><stop offset="0.1545" stop-color="#ffe999"/><stop offset="0.1642" stop-color="#ffe999"/><stop offset="0.1642" stop-color="#ffe895"/><stop offset="0.1739" stop-color="#ffe895"/><stop offset="0.1739" stop-color="#ffe690"/><stop offset="0.1835" stop-color="#ffe690"/><stop offset="0.1835" stop-color="#fee38a"/><stop offset="0.1932" stop-color="#fee38a"/><stop offset="0.1932" stop-color="#fedf82"/><stop offset="0.2028" stop-color="#fedf82"/><stop offset="0.2028" stop-color="#feda77"/><stop offset="0.2125" stop-color="#feda77"/><stop offset="0.2125" stop-color="#fece6b"/><stop offset="0.2222" stop-color="#fece6b"/><stop offset="0.2222" stop-color="#fec05b"/><stop offset="0.2318" stop-color="#fec05b"/><stop offset="0.2318" stop-color="#feb04b"/><stop offset="0.2415" stop-color="#feb04b"/><stop offset="0.2415" stop-color="#fd9f44"/><stop offset="0.2511" stop-color="#fd9f44"/><stop offset="0.2511" stop-color="#fd8b3b"/><stop offset="0.2608" stop-color="#fd8b3b"/><stop offset="0.2608" stop-color="#fc6932"/><stop offset="0.2705" stop-color="#fc6932"/><stop offset="0.2705" stop-color="#f94929"/><stop offset="0.2801" stop-color="#f94929"/><stop offset="0.2801" stop-color="#ed2f22"/><stop offset="0.2898" stop-color="#ed2f22"/><stop offset="0.2898" stop-color="#e2191c"/><stop offset="0.2994" stop-color="#e2191c"/><stop offset="0.2994" stop-color="#d7121f"/><stop offset="0.3091" stop-color="#d7121f"/><stop offset="0.3091" stop-color="#d20e21"/><stop offset="0.3188" stop-color="#d20e21"/><stop offset="0.3188" stop-color="#d51120"/><stop offset="0.3284" stop-color="#d51120"/><stop offset="0.3284" stop-color="#e41c1c"/><stop offset="0.3381" stop-color="#e41c1c"/><stop offset="0.3381" stop-color="#f33b25"/><stop offset="0.3477" stop-color="#f33b25"/><stop offset="0.3477" stop-color="#fc6330"/><stop offset="0.3574" stop-color="#fc6330"/><stop offset="0.3574" stop-color="#fd8e3d"/><stop offset="0.3671" stop-color="#fd8e3d"/><stop offset="0.3671" stop-color="#fea747"/><stop offset="0.3767" stop-color="#fea747"/><stop offset="0.3767" stop-color="#febe59"/><stop offset="0.3864" stop-color="#febe59"/><stop offset="0.3864" stop-color="#fed26e"/><stop offset="0.3960" stop-color="#fed26e"/><stop offset="0.3960" stop-color="#fedd7f"/><stop offset="0.4057" stop-color="#fedd7f"/><stop offset="0.4057" stop-color="#ffe48c"/><stop offset="0.4153" stop-color="#ffe48c"/><stop offset="0.4153" stop-color="#ffe896"/><stop offset="0.4250" stop-color="#ffe896"/><stop offset="0.4250" stop-color="#ffec9d"/><stop offset="0.4347" stop-color="#ffec9d"/><stop offset="0.4347" stop-color="#ffeea2"/><stop offset="0.4443" stop-color="#ffeea2"/><stop offset="0.4443" stop-color="#ffefa5"/><stop offset="0.4540" stop-color="#ffefa5"/><stop offset="0.4540" stop-color="#fff0a8"/><stop offset="0.4636" stop-color="#fff0a8"/><stop offset="0.4636" stop-color="#fff1a9"/><stop offset="0.4733" stop-color="#fff1a9"/><stop offset="0.4733" stop-color="#fff1ab"/><stop offset="0.4830" stop-color="#fff1ab"/><stop offset="0.4830" stop-color="#fff2ab"/><stop offset="0.4926" stop-color="#fff2ab"/><stop offset="0.4926" stop-color="#fff2ac"/><stop offset="0.5023" stop-color="#fff2ac"/><stop offset="0.5023" stop-color="#fff2ad"/><stop offset="0.5119" stop-color="#fff2ad"/><stop offset="0.5119" stop-color="#fff3ad"/><stop offset="0.5216" stop-color="#fff3ad"/><stop offset="0.5216" stop-color="#fff3ae"/><stop offset="0.5313" stop-color="#fff3ae"/><stop offset="0.5313" stop-color="#fff3ae"/><stop offset="0.5409" stop-color="#fff3ae"/><stop offset="0.5409" stop-color="#fff3af"/><stop offset="0.5506" stop-color="#fff3af"/><stop offset="0.5506" stop-color="#fff3af"/><stop offset="0.5602" stop-color="#fff3af"/><stop offset="0.5602" stop-color="#fff3af"/><stop offset="0.5699" stop-color="#fff3af"/><stop offset="0.5699" stop-color="#fff3af"/><stop offset="0.5796" stop-color="#fff3af"/><stop offset="0.5796" stop-color="#fff3af"/><stop offset="0.5892" stop-color="#fff3af"/><stop offset="0.5892" stop-color="#fff3af"/><stop offset="0.5989" stop-color="#fff3af"/><stop offset="0.5989" stop-color="#fff3ae"/><stop offset="0.6085" stop-color="#fff3ae"/><stop offset="0.6085" stop-color="#fff2ac"/><stop offset="0.6182" stop-color="#fff2ac"/><stop offset="0.6182" stop-color="#ffefa6"/><stop offset="0.6279" stop-color="#ffefa6"/><stop offset="0.6279" stop-color="#ffe794"/><stop offset="0.6375" stop-color="#ffe794"/><stop offset="0.6375" stop-color="#fed16e"/><stop offset="0.6472" stop-color="#fed16e"/><stop offset="0.6472" stop-color="#fd9841"/><stop offset="0.6568" stop-color="#fd9841"/><stop offset="0.6568" stop-color="#f53e26"/><stop offset="0.6665" stop-color="#f53e26"/><stop offset="0.6665" stop-color="#e92720"/><stop offset="0.6762" stop-color="#e92720"/><stop offset="0.6762" stop-color="#fd7b37"/><stop offset="0.6858" stop-color="#fd7b37"/><stop offset="0.6858" stop-color="#fec662"/><stop offset="0.6955" stop-color="#fec662"/><stop offset="0.6955" stop-color="#ffe793"/><stop offset="0.7051" stop-color="#ffe793"/><stop offset="0.7051" stop-color="#fff1a9"/><stop offset="0.7148" stop-color="#fff1a9"/><stop offset="0.7148" stop-color="#fff4b1"/><stop offset="0.7244" stop-color="#fff4b1"/><stop offset="0.7244" stop-color="#fff5b4"/><stop offset="0.7341" stop-color="#fff5b4"/><stop offset="0.7341" stop-color="#fff6b6"/><stop offset="0.7438" stop-color="#fff6b6"/><stop offset="0.7438" stop-color="#fff6b7"/><stop offset="0.7534" stop-color="#fff6b7"/><stop offset="0.7534" stop-color="#fff7b8"/><stop offset="0.7631" stop-color="#fff7b8"/><stop offset="0.7631" stop-color="#fff7b9"/><stop offset="0.7727" stop-color="#fff7b9"/><stop offset="0.7727" stop-color="#fff7ba"/><stop offset="0.7824" stop-color="#fff7ba"/><stop offset="0.7824" stop-color="#fff8ba"/><stop offset="0.7921" stop-color="#fff8ba"/><stop offset="0.7921" stop-color="#fff8bb"/><stop offset="0.8017" stop-color="#fff8bb"/><stop offset="0.8017" stop-color="#fff8bb"/><stop offset="0.8114" stop-color="#fff8bb"/><stop offset="0.8114" stop-color="#fff8bc"/><stop offset="0.8210" stop-color="#fff8bc"/><stop offset="0.8210" stop-color="#fff9bc"/><stop offset="0.8307" stop-color="#fff9bc"/><stop offset="0.8307" stop-color="#fff9bd"/><stop offset="0.8404" stop-color="#fff9bd"/><stop offset="0.8404" stop-color="#fff9bd"/><stop offset="0.8500" stop-color="#fff9bd"/><stop offset="0.8500" stop-color="#fff9be"/><stop offset="0.8597" stop-color="#fff9be"/><stop offset="0.8597" stop-color="#fff9be"/><stop offset="0.8693" stop-color="#fff9be"/><stop offset="0.8693" stop-color="#fffabf"/><stop offset="0.8790" stop-color="#fffabf"/><stop offset="0.8790" stop-color="#fffabf"/><stop offset="0.8887" stop-color="#fffabf"/><stop offset="0.8887" stop-color="#fffac0"/><stop offset="0.8983" stop-color="#fffac0"/><stop offset="0.8983" stop-color="#fffac0"/><stop offset="0.9080" stop-color="#fffac0"/><stop offset="0.9080" stop-color="#fffac1"/><stop offset="0.9176" stop-color="#fffac1"/><stop offset="0.9176" stop-color="#fffac1"/><stop offset="0.9273" stop-color="#fffac1"/><stop offset="0.9273" stop-color="#fffbc1"/><stop offset="0.9370" stop-color="#fffbc1"/><stop offset="0.9370" stop-color="#fffbc2"/><stop offset="0.9466" stop-color="#fffbc2"/><stop offset="0.9466" stop-color="#fffbc2"/><stop offset="0.9563" stop-color="#fffbc2"/><stop offset="0.9563" stop-color="#fffbc3"/><stop offset="0.9659" stop-color="#fffbc3"/><stop offset="0.9659" stop-color="#fffbc3"/><stop offset="0.9756" stop-color="#fffbc3"/><stop offset="0.9756" stop-color="#fffbc3"/><stop offset="0.9852" stop-color="#fffbc3"/><stop offset="0.9852" stop-color="#fffcc4"/><stop offset="0.9949" stop-color="#fffcc4"/><stop offset="0.9949" stop-color="#fffcc4"/><stop offset="1.0000" stop-color="#fffcc4"/></linearGradient>
<polygon points="585.75,82.70 652.24,82.70 486.67,652.10 442.83,652.10" fill="url(#g5)"/>
<linearGradient id="g6" gradientUnits="userSpaceOnUse" x1="0" y1="82.70" x2="0" y2="652.10"><stop offset="0.0000" stop-color="#ffe692"/><stop offset="0.0097" stop-color="#ffe692"/><stop offset="0.0097" stop-color="#ffe692"/><stop offset="0.0193" stop-color="#ffe692"/><stop offset="0.0193" stop-color="#ffe691"/><stop offset="0.0290" stop-color="#ffe691"/><stop offset="0.0290" stop-color="#ffe691"/><stop offset="0.0386" stop-color="#ffe691"/><stop offset="0.0386" stop-color="#ffe690"/><stop offset="0.0483" stop-color="#ffe690"/><stop offset="0.0483" stop-color="#ffe58f"/><stop offset="0.0580" stop-color="#ffe58f"/><stop offset="0.0580" stop-color="#ffe58e"/><stop offset="0.0676" stop-color="#ffe58e"/><stop offset="0.0676" stop-color="#ffe48c"/><stop offset="0.0773" stop-color="#ffe48c"/><stop offset="0.0773" stop-color="#fee28a"/><stop offset="0.0869" stop-color="#fee28a"/><stop offset="0.0869" stop-color="#fee186"/><stop offset="0.0966" stop-color="#fee186"/><stop offset="0.0966" stop-color="#fede81"/><stop offset="0.1063" stop-color="#fede81"/><stop offset="0.1063" stop-color="#fedb7a"/><stop offset="0.1159" stop-color="#fedb7a"/><stop offset="0.1159" stop-color="#fed572"/><stop offset="0.1256" stop-color="#fed572"/><stop offset="0.1256" stop-color="#feca66"/><stop offset="0.1352" stop-color="#feca66"/><stop offset="0.1352" stop-color="#febd58"/><stop offset="0.1449" stop-color="#febd58"/><stop offset="0.1449" stop-color="#fead4a"/><stop offset="0.1545" stop-color="#fead4a"/><stop offset="0.1545" stop-color="#fd9b42"/><stop offset="0.1642" stop-color="#fd9b42"/><stop offset="0.1642" stop-color="#fd8038"/><stop offset="0.1739" stop-color="#fd8038"/><stop offset="0.1739" stop-color="#fc582d"/><stop offset="0.1835" stop-color="#fc582d"/><stop offset="0.1835" stop-color="#ef3222"/><stop offset="0.1932" stop-color="#ef3222"/><stop offset="0.1932" stop-color="#d9131f"/><stop offset="0.2028" stop-color="#d9131f"/><stop offset="0.2028" stop-color="#be0126"/><stop offset="0.2125" stop-color="#be0126"/><stop offset="0.2125" stop-color="#950026"/><stop offset="0.2222" stop-color="#950026"/><stop offset="0.2222" stop-color="#800026"/><stop offset="0.2318" stop-color="#800026"/><stop offset="0.2318" stop-color="#800026"/><stop offset="0.2415" stop-color="#800026"/><stop offset="0.2415" stop-color="#800026"/><stop offset="0.2511" stop-color="#800026"/><stop offset="0.2511" stop-color="#800026"/><stop offset="0.2608" stop-color="#800026"/><stop offset="0.2608" stop-color="#830026"/><stop offset="0.2705" stop-color="#830026"/><stop offset="0.2705" stop-color="#bb0026"/><stop offset="0.2801" stop-color="#bb0026"/><stop offset="0.2801" stop-color="#e31a1c"/><stop offset="0.2898" stop-color="#e31a1c"/><stop offset="0.2898" stop-color="#fc502b"/><stop offset="0.2994" stop-color="#fc502b"/><stop offset="0.2994" stop-color="#fd8b3b"/><stop offset="0.3091" stop-color="#fd8b3b"/><stop offset="0.3091" stop-color="#fea948"/><stop offset="0.3188" stop-color="#fea948"/><stop offset="0.3188" stop-color="#fec15c"/><stop offset="0.3284" stop-color="#fec15c"/><stop offset="0.3284" stop-color="#fed471"/><stop offset="0.3381" stop-color="#fed471"/><stop offset="0.3381" stop-color="#fedd7f"/><stop offset="0.3477" stop-color="#fedd7f"/><stop offset="0.3477" stop-color="#fee289"/><stop offset="0.3574" stop-color="#fee289"/><stop offset="0.3574" stop-color="#ffe590"/><stop offset="0.3671" stop-color="#ffe590"/><stop offset="0.3671" stop-color="#ffe895"/><stop offset="0.3767" stop-color="#ffe895"/><stop offset="0.3767" stop-color="#ffe998"/><stop offset="0.3864" stop-color="#ffe998"/><stop offset="0.3864" stop-color="#ffea9a"/><stop offset="0.3960" stop-color="#ffea9a"/><stop offset="0.3960" stop-color="#ffeb9b"/><stop offset="0.4057" stop-color="#ffeb9b"/><stop offset="0.4057" stop-color="#ffeb9d"/><stop offset="0.4153" stop-color="#ffeb9d"/><stop offset="0.4153" stop-color="#ffec9d"/><stop offset="0.4250" stop-color="#ffec9d"/><stop offset="0.4250" stop-color="#ffec9e"/><stop offset="0.4347" stop-color="#ffec9e"/><stop offset="0.4347" stop-color="#ffed9f"/><stop offset="0.4443" stop-color="#ffed9f"/><stop offset="0.4443" stop-color="#ffeda0"/><stop offset="0.4540" stop-color="#ffeda0"/><stop offset="0.4540" stop-color="#ffeda0"/><stop offset="0.4636" stop-color="#ffeda0"/><stop offset="0.4636" stop-color="#ffeda1"/><stop offset="0.4733" stop-color="#ffeda1"/><stop offset="0.4733" stop-color="#ffeda1"/><stop offset="0.4830" stop-color="#ffeda1"/><stop offset="0.4830" stop-color="#ffeea2"/><stop offset="0.4926" stop-color="#ffeea2"/><stop offset="0.4926" stop-color="#ffeea2"/><stop offset="0.5023" stop-color="#ffeea2"/><stop offset="0.5023" stop-color="#ffeea2"/><stop offset="0.5119" stop-color="#ffeea2"/><stop offset="0.5119" stop-color="#ffeea3"/><stop offset="0.5216" stop-color="#ffeea3"/><stop offset="0.5216" stop-color="#ffeea3"/><stop offset="0.5313" stop-color="#ffeea3"/><stop offset="0.5313" stop-color="#ffeea3"/><stop offset="0.5409" stop-color="#ffeea3"/><stop offset="0.5409" stop-color="#ffeea3"/><stop offset="0.5506" stop-color="#ffeea3"/><stop offset="0.5506" stop-color="#ffeea3"/><stop offset="0.5602" stop-color="#ffeea3"/><stop offset="0.5602" stop-color="#ffeea3"/><stop offset="0.5699" stop-color="#ffeea3"/><stop offset="0.5699" stop-color="#ffeea2"/><stop offset="0.5796" stop-color="#ffeea2"/><stop offset="0.5796" stop-color="#ffeda1"/><stop offset="0.5892" stop-color="#ffeda1"/><stop offset="0.5892" stop-color="#ffec9e"/><stop offset="0.5989" stop-color="#ffec9e"/><stop offset="0.5989" stop-color="#ffe794"/><stop offset="0.6085" stop-color="#ffe794"/><stop offset="0.6085" stop-color="#fedb7b"/><stop offset="0.6182" stop-color="#fedb7b"/><stop offset="0.6182" stop-color="#feb04b"/><stop offset="0.6279" stop-color="#feb04b"/><stop offset="0.6279" stop-color="#fc6430"/><stop offset="0.6375" stop-color="#fc6430"/><stop offset="0.6375" stop-color="#e6201e"/><stop offset="0.6472" stop-color="#e6201e"/><stop offset="0.6472" stop-color="#f33b25"/><stop offset="0.6568" stop-color="#f33b25"/><stop offset="0.6568" stop-color="#fd9d43"/><stop offset="0.6665" stop-color="#fd9d43"/><stop offset="0.6665" stop-color="#fed774"/><stop offset="0.6762" stop-color="#fed774"/><stop offset="0.6762" stop-color="#ffe896"/><stop offset="0.6858" stop-color="#ffe896"/><stop offset="0.6858" stop-color="#ffefa4"/><stop offset="0.6955" stop-color="#ffefa4"/><stop offset="0.6955" stop-color="#fff1a9"/><stop offset="0.7051" stop-color="#fff1a9"/><stop offset="0.7051" stop-color="#fff2ab"/><stop offset="0.7148" stop-color="#fff2ab"/><stop offset="0.7148" stop-color="#fff2ad"/><stop offset="0.7244" stop-color="#fff2ad"/><stop offset="0.7244" stop-color="#fff3ae"/><stop offset="0.7341" stop-color="#fff3ae"/><stop offset="0.7341" stop-color="#fff3af"/><stop offset="0.7438" stop-color="#fff3af"/><stop offset="0.7438" stop-color="#fff4b0"/><stop offset="0.7534" stop-color="#fff4b0"/><stop offset="0.7534" stop-color="#fff4b1"/><stop offset="0.7631" stop-color="#fff4b1"/><stop offset="0.7631" stop-color="#fff4b2"/><stop offset="0.7727" stop-color="#fff4b2"/><stop offset="0.7727" stop-color="#fff5b3"/><stop offset="0.7824" stop-color="#fff5b3"/><stop offset="0.7824" stop-color="#fff5b4"/><stop offset="0.7921" stop-color="#fff5b4"/><stop offset="0.7921" stop-color="#fff5b4"/><stop offset="0.8017" stop-color="#fff5b4"/><stop offset="0.8017" stop-color="#fff6b5"/><stop offset="0.8114" stop-color="#fff6b5"/><stop offset="0.8114" stop-color="#fff6b6"/><stop offset="0.8210" stop-color="#fff6b6"/><stop offset="0.8210" stop-color="#fff6b7"/><stop offset="0.8307" stop-color="#fff6b7"/><stop offset="0.8307" stop-color="#fff7b7"/><stop offset="0.8404" stop-color="#fff7b7"/><stop offset="0.8404" stop-color="#fff7b8"/><stop offset="0.8500" stop-color="#fff7b8"/><stop offset="0.8500" stop-color="#fff7b9"/><stop offset="0.8597" stop-color="#fff7b9"/><stop offset="0.8597" stop-color="#fff7b9"/><stop offset="0.8693" stop-color="#fff7b9"/><stop offset="0.8693" stop-color="#fff8ba"/><stop offset="0.8790" stop-color="#fff8ba"/><stop offset="0.8790" stop-color="#fff8bb"/><stop offset="0.8887" stop-color="#fff8bb"/><stop offset="0.8887" stop-color="#fff8bb"/><stop offset="0.8983" stop-color="#fff8bb"/><stop offset="0.8983" stop-color="#fff8bc"/><stop offset="0.9080" stop-color="#fff8bc"/><stop offset="0.9080" stop-color="#fff9bd"/><stop offset="0.9176" stop-color="#fff9bd"/><stop offset="0.9176" stop-color="#fff9bd"/><stop offset="0.9273" stop-color="#fff9bd"/><stop offset="0.9273" stop-color="#fff9be"/><stop offset="0.9370" stop-color="#fff9be"/><stop offset="0.9370" stop-color="#fff9bf"/><stop offset="0.9466" stop-color="#fff9bf"/><stop offset="0.9466" stop-color="#fffabf"/><stop offset="0.9563" stop-color="#fffabf"/><stop offset="0.9563" stop-color="#fffac0"/><stop offset="0.9659" stop-color="#fffac0"/><stop offset="0.9659" stop-color="#fffac0"/><stop offset="0.9756" stop-color="#fffac0"/><stop offset="0.9756" stop-color="#fffbc1"/><stop offset="0.9852" stop-color="#fffbc1"/><stop offset="0.9852" stop-color="#fffbc2"/><stop offset="0.9949" stop-color="#fffbc2"/><stop offset="0.9949" stop-color="#fffbc2"/><stop offset="1.0000" stop-color="#fffbc2"/></linearGradient>
<polygon points="651.44,82.70 702.54,82.70 519.35,652.10 485.87,652.10" fill="url(#g6)"/>
</g>
<filter id="hb" x="-5%" y="-5%" width="110%" height="110%"><feGaussianBlur stdDeviation="3.0"/></filter>
<mask id="mb" maskUnits="userSpaceOnUse" x="780" y="60" width="620" height="620"><polygon points="922.45,62.70 1388.80,62.70 1190.54,672.10 894.21,672.10" fill="#fff" filter="url(#hb)"/></mask>
<g clip-path="url(#cpb)"><g mask="url(#mb)">
<linearGradient id="g7" gradientUnits="userSpaceOnUse" x1="0" y1="82.70" x2="0" y2="652.10"><stop offset="0.0000" stop-color="#fff0a8"/><stop offset="0.0070" stop-color="#fff0a8"/><stop offset="0.0070" stop-color="#fff0a8"/><stop offset="0.0140" stop-color="#fff0a8"/><stop offset="0.0140" stop-color="#fff0a8"/><stop offset="0.0211" stop-color="#fff0a8"/><stop offset="0.0211" stop-color="#fff0a8"/><stop offset="0.0281" stop-color="#fff0a8"/><stop offset="0.0281" stop-color="#fff0a8"/><stop offset="0.0351" stop-color="#fff0a8"/><stop offset="0.0351" stop-color="#fff0a8"/><stop offset="0.0421" stop-color="#fff0a8"/><stop offset="0.0421" stop-color="#fff0a8"/><stop offset="0.0492" stop-color="#fff0a8"/><stop offset="0.0492" stop-color="#fff0a8"/><stop offset="0.0562" stop-color="#fff0a8"/><stop offset="0.0562" stop-color="#fff0a7"/><stop offset="0.0632" stop-color="#fff0a7"/><stop offset="0.0632" stop-color="#fff0a7"/><stop offset="0.0702" stop-color="#fff0a7"/><stop offset="0.0702" stop-color="#fff0a7"/><stop offset="0.0773" stop-color="#fff0a7"/><stop offset="0.0773" stop-color="#fff0a7"/><stop offset="0.0843" stop-color="#fff0a7"/><stop offset="0.0843" stop-color="#fff0a7"/><stop offset="0.0913" stop-color="#fff0a7"/><stop offset="0.0913" stop-color="#fff0a7"/><stop offset="0.0983" stop-color="#fff0a7"/><stop offset="0.0983" stop-color="#fff0a7"/><stop offset="0.1054" stop-color="#fff0a7"/><stop offset="0.1054" stop-color="#fff0a7"/><stop offset="0.1124" stop-color="#fff0a7"/><stop offset="0.1124" stop-color="#fff0a6"/><stop offset="0.1194" stop-color="#fff0a6"/><stop offset="0.1194" stop-color="#fff0a6"/><stop offset="0.1264" stop-color="#fff0a6"/><stop offset="0.1264" stop-color="#ffefa6"/><stop offset="0.1335" stop-color="#ffefa6"/><stop offset="0.1335" stop-color="#ffefa6"/><stop offset="0.1405" stop-color="#ffefa6"/><stop offset="0.1405" stop-color="#ffefa5"/><stop offset="0.1475" stop-color="#ffefa5"/><stop offset="0.1475" stop-color="#ffefa5"/><stop offset="0.1545" stop-color="#ffefa5"/><stop offset="0.1545" stop-color="#ffefa5"/><stop offset="0.1616" stop-color="#ffefa5"/><stop offset="0.1616" stop-color="#ffefa5"/><stop offset="0.1686" stop-color="#ffefa5"/><stop offset="0.1686" stop-color="#ffefa4"/><stop offset="0.1756" stop-color="#ffefa4"/><stop offset="0.1756" stop-color="#ffefa4"/><stop offset="0.1826" stop-color="#ffefa4"/><stop offset="0.1826" stop-color="#ffeea3"/><stop offset="0.1897" stop-color="#ffeea3"/><stop offset="0.1897" stop-color="#ffeea3"/><stop offset="0.1967" stop-color="#ffeea3"/><stop offset="0.1967" stop-color="#ffeea2"/><stop offset="0.2037" stop-color="#ffeea2"/><stop offset="0.2037" stop-color="#ffeea2"/><stop offset="0.2107" stop-color="#ffeea2"/><stop offset="0.2107" stop-color="#ffeda1"/><stop offset="0.2178" stop-color="#ffeda1"/><stop offset="0.2178" stop-color="#ffeda0"/><stop offset="0.2248" stop-color="#ffeda0"/><stop offset="0.2248" stop-color="#ffeda0"/><stop offset="0.2318" stop-color="#ffeda0"/><stop offset="0.2318" stop-color="#ffec9f"/><stop offset="0.2388" stop-color="#ffec9f"/><stop offset="0.2388" stop-color="#ffec9e"/><stop offset="0.2459" stop-color="#ffec9e"/><stop offset="0.2459" stop-color="#ffec9d"/><stop offset="0.2529" stop-color="#ffec9d"/><stop offset="0.2529" stop-color="#ffeb9c"/><stop offset="0.2599" stop-color="#ffeb9c"/><stop offset="0.2599" stop-color="#ffea9b"/><stop offset="0.2669" stop-color="#ffea9b"/><stop offset="0.2669" stop-color="#ffea99"/><stop offset="0.2740" stop-color="#ffea99"/><stop offset="0.2740" stop-color="#ffe998"/><stop offset="0.2810" stop-color="#ffe998"/><stop offset="0.2810" stop-color="#ffe896"/><stop offset="0.2880" stop-color="#ffe896"/><stop offset="0.2880" stop-color="#ffe895"/><stop offset="0.2950" stop-color="#ffe895"/><stop offset="0.2950" stop-color="#ffe793"/><stop offset="0.3021" stop-color="#ffe793"/><stop offset="0.3021" stop-color="#ffe690"/><stop offset="0.3091" stop-color="#ffe690"/><stop offset="0.3091" stop-color="#ffe48e"/><stop offset="0.3161" stop-color="#ffe48e"/><stop offset="0.3161" stop-color="#ffe38b"/><stop offset="0.3231" stop-color="#ffe38b"/><stop offset="0.3231" stop-color="#fee288"/><stop offset="0.3302" stop-color="#fee288"/><stop offset="0.3302" stop-color="#fee085"/><stop offset="0.3372" stop-color="#fee085"/><stop offset="0.3372" stop-color="#fede81"/><stop offset="0.3442" stop-color="#fede81"/><stop offset="0.3442" stop-color="#fedc7c"/><stop offset="0.3512" stop-color="#fedc7c"/><stop offset="0.3512" stop-color="#feda78"/><stop offset="0.3583" stop-color="#feda78"/><stop offset="0.3583" stop-color="#fed672"/><stop offset="0.3653" stop-color="#fed672"/><stop offset="0.3653" stop-color="#fed06c"/><stop offset="0.3723" stop-color="#fed06c"/><stop offset="0.3723" stop-color="#feca66"/><stop offset="0.3793" stop-color="#feca66"/><stop offset="0.3793" stop-color="#fec45f"/><stop offset="0.3864" stop-color="#fec45f"/><stop offset="0.3864" stop-color="#febd58"/><stop offset="0.3934" stop-color="#febd58"/><stop offset="0.3934" stop-color="#feb650"/><stop offset="0.4004" stop-color="#feb650"/><stop offset="0.4004" stop-color="#feaf4b"/><stop offset="0.4074" stop-color="#feaf4b"/><stop offset="0.4074" stop-color="#fea948"/><stop offset="0.4145" stop-color="#fea948"/><stop offset="0.4145" stop-color="#fea446"/><stop offset="0.4215" stop-color="#fea446"/><stop offset="0.4215" stop-color="#fea044"/><stop offset="0.4285" stop-color="#fea044"/><stop offset="0.4285" stop-color="#fd9d43"/><stop offset="0.4355" stop-color="#fd9d43"/><stop offset="0.4355" stop-color="#fd9d43"/><stop offset="0.4426" stop-color="#fd9d43"/><stop offset="0.4426" stop-color="#fea145"/><stop offset="0.4496" stop-color="#fea145"/><stop offset="0.4496" stop-color="#feaa49"/><stop offset="0.4566" stop-color="#feaa49"/><stop offset="0.4566" stop-color="#feb751"/><stop offset="0.4636" stop-color="#feb751"/><stop offset="0.4636" stop-color="#fec460"/><stop offset="0.4707" stop-color="#fec460"/><stop offset="0.4707" stop-color="#fed06d"/><stop offset="0.4777" stop-color="#fed06d"/><stop offset="0.4777" stop-color="#feda78"/><stop offset="0.4847" stop-color="#feda78"/><stop offset="0.4847" stop-color="#fede81"/><stop offset="0.4917" stop-color="#fede81"/><stop offset="0.4917" stop-color="#fee289"/><stop offset="0.4988" stop-color="#fee289"/><stop offset="0.4988" stop-color="#ffe590"/><stop offset="0.5058" stop-color="#ffe590"/><stop offset="0.5058" stop-color="#ffe895"/><stop offset="0.5128" stop-color="#ffe895"/><stop offset="0.5128" stop-color="#ffea99"/><stop offset="0.5198" stop-color="#ffea99"/><stop offset="0.5198" stop-color="#ffeb9d"/><stop offset="0.5269" stop-color="#ffeb9d"/><stop offset="0.5269" stop-color="#ffeda0"/><stop offset="0.5339" stop-color="#ffeda0"/><stop offset="0.5339" stop-color="#ffeea2"/><stop offset="0.5409" stop-color="#ffeea2"/><stop offset="0.5409" stop-color="#ffefa5"/><stop offset="0.5479" stop-color="#ffefa5"/><stop offset="0.5479" stop-color="#fff0a7"/><stop offset="0.5550" stop-color="#fff0a7"/><stop offset="0.5550" stop-color="#fff0a8"/><stop offset="0.5620" stop-color="#fff0a8"/><stop offset="0.5620" stop-color="#fff1aa"/><stop offset="0.5690" stop-color="#fff1aa"/><stop offset="0.5690" stop-color="#fff2ab"/><stop offset="0.5760" stop-color="#fff2ab"/><stop offset="0.5760" stop-color="#fff2ac"/><stop offset="0.5831" stop-color="#fff2ac"/><stop offset="0.5831" stop-color="#fff3ae"/><stop offset="0.5901" stop-color="#fff3ae"/><stop offset="0.5901" stop-color="#fff3af"/><stop offset="0.5971" stop-color="#fff3af"/><stop offset="0.5971" stop-color="#fff3af"/><stop offset="0.6041" stop-color="#fff3af"/><stop offset="0.6041" stop-color="#fff3af"/><stop offset="0.6112" stop-color="#fff3af"/><stop offset="0.6112" stop-color="#fff3b0"/><stop offset="0.6182" stop-color="#fff3b0"/><stop offset="0.6182" stop-color="#fff3b0"/><stop offset="0.6252" stop-color="#fff3b0"/><stop offset="0.6252" stop-color="#fff4b0"/><stop offset="0.6322" stop-color="#fff4b0"/><stop offset="0.6322" stop-color="#fff4b0"/><stop offset="0.6393" stop-color="#fff4b0"/><stop offset="0.6393" stop-color="#fff4b0"/><stop offset="0.6463" stop-color="#fff4b0"/><stop offset="0.6463" stop-color="#fff3b0"/><stop offset="0.6533" stop-color="#fff3b0"/><stop offset="0.6533" stop-color="#fff3b0"/><stop offset="0.6603" stop-color="#fff3b0"/><stop offset="0.6603" stop-color="#fff3af"/><stop offset="0.6674" stop-color="#fff3af"/><stop offset="0.6674" stop-color="#fff3af"/><stop offset="0.6744" stop-color="#fff3af"/><stop offset="0.6744" stop-color="#fff3af"/><stop offset="0.6814" stop-color="#fff3af"/><stop offset="0.6814" stop-color="#fff3ae"/><stop offset="0.6884" stop-color="#fff3ae"/><stop offset="0.6884" stop-color="#fff3ae"/><stop offset="0.6955" stop-color="#fff3ae"/><stop offset="0.6955" stop-color="#fff2ad"/><stop offset="0.7025" stop-color="#fff2ad"/><stop offset="0.7025" stop-color="#fff2ac"/><stop offset="0.7095" stop-color="#fff2ac"/><stop offset="0.7095" stop-color="#fff2ab"/><stop offset="0.7165" stop-color="#fff2ab"/><stop offset="0.7165" stop-color="#fff1aa"/><stop offset="0.7236" stop-color="#fff1aa"/><stop offset="0.7236" stop-color="#fff1a9"/><stop offset="0.7306" stop-color="#fff1a9"/><stop offset="0.7306" stop-color="#fff0a7"/><stop offset="0.7376" stop-color="#fff0a7"/><stop offset="0.7376" stop-color="#ffefa6"/><stop offset="0.7446" stop-color="#ffefa6"/><stop offset="0.7446" stop-color="#ffeea4"/><stop offset="0.7517" stop-color="#ffeea4"/><stop offset="0.7517" stop-color="#ffeda1"/><stop offset="0.7587" stop-color="#ffeda1"/><stop offset="0.7587" stop-color="#ffec9e"/><stop offset="0.7657" stop-color="#ffec9e"/><stop offset="0.7657" stop-color="#ffea9a"/><stop offset="0.7727" stop-color="#ffea9a"/><stop offset="0.7727" stop-color="#ffe896"/><stop offset="0.7798" stop-color="#ffe896"/><stop offset="0.7798" stop-color="#ffe691"/><stop offset="0.7868" stop-color="#ffe691"/><stop offset="0.7868" stop-color="#fee38a"/><stop offset="0.7938" stop-color="#fee38a"/><stop offset="0.7938" stop-color="#fedf82"/><stop offset="0.8008" stop-color="#fedf82"/><stop offset="0.8008" stop-color="#fed977"/><stop offset="0.8079" stop-color="#fed977"/><stop offset="0.8079" stop-color="#fecd69"/><stop offset="0.8149" stop-color="#fecd69"/><stop offset="0.8149" stop-color="#febb56"/><stop offset="0.8219" stop-color="#febb56"/><stop offset="0.8219" stop-color="#fea446"/><stop offset="0.8289" stop-color="#fea446"/><stop offset="0.8289" stop-color="#fd8139"/><stop offset="0.8360" stop-color="#fd8139"/><stop offset="0.8360" stop-color="#f43e26"/><stop offset="0.8430" stop-color="#f43e26"/><stop offset="0.8430" stop-color="#c60624"/><stop offset="0.8500" stop-color="#c60624"/><stop offset="0.8500" stop-color="#800026"/><stop offset="0.8570" stop-color="#800026"/><stop offset="0.8570" stop-color="#800026"/><stop offset="0.8641" stop-color="#800026"/><stop offset="0.8641" stop-color="#800026"/><stop offset="0.8711" stop-color="#800026"/><stop offset="0.8711" stop-color="#800026"/><stop offset="0.8781" stop-color="#800026"/><stop offset="0.8781" stop-color="#900026"/><stop offset="0.8851" stop-color="#900026"/><stop offset="0.8851" stop-color="#e31b1c"/><stop offset="0.8922" stop-color="#e31b1c"/><stop offset="0.8922" stop-color="#fc6731"/><stop offset="0.8992" stop-color="#fc6731"/><stop offset="0.8992" stop-color="#fd9c42"/><stop offset="0.9062" stop-color="#fd9c42"/><stop offset="0.9062" stop-color="#feb650"/><stop offset="0.9132" stop-color="#feb650"/><stop offset="0.9132" stop-color="#feca66"/><stop offset="0.9203" stop-color="#feca66"/><stop offset="0.9203" stop-color="#fed976"/><stop offset="0.9273" stop-color="#fed976"/><stop offset="0.9273" stop-color="#fedf82"/><stop offset="0.9343" stop-color="#fedf82"/><stop offset="0.9343" stop-color="#fee38b"/><stop offset="0.9413" stop-color="#fee38b"/><stop offset="0.9413" stop-color="#ffe692"/><stop offset="0.9484" stop-color="#ffe692"/><stop offset="0.9484" stop-color="#ffe998"/><stop offset="0.9554" stop-color="#ffe998"/><stop offset="0.9554" stop-color="#ffeb9d"/><stop offset="0.9624" stop-color="#ffeb9d"/><stop offset="0.9624" stop-color="#ffeda1"/><stop offset="0.9694" stop-color="#ffeda1"/><stop offset="0.9694" stop-color="#ffefa4"/><stop offset="0.9765" stop-color="#ffefa4"/><stop offset="0.9765" stop-color="#fff0a7"/><stop offset="0.9835" stop-color="#fff0a7"/><stop offset="0.9835" stop-color="#fff1a9"/><stop offset="0.9905" stop-color="#fff1a9"/><stop offset="0.9905" stop-color="#fff2ac"/><stop offset="0.9975" stop-color="#fff2ac"/><stop offset="0.9975" stop-color="#fff2ad"/><stop offset="1.0000" stop-color="#fff2ad"/></linearGradient>
<polygon points="892.61,82.70 972.69,82.70 928.94,652.10 876.19,652.10" fill="url(#g7)"/>
<linearGradient id="g8" gradientUnits="userSpaceOnUse" x1="0" y1="82.70" x2="0" y2="652.10"><stop offset="0.0000" stop-color="#ffefa6"/><stop offset="0.0070" stop-color="#ffefa6"/><stop offset="0.0070" stop-color="#ffefa6"/><stop offset="0.0140" stop-color="#ffefa6"/><stop offset="0.0140" stop-color="#ffefa6"/><stop offset="0.0211" stop-color="#ffefa6"/><stop offset="0.0211" stop-color="#ffefa6"/><stop offset="0.0281" stop-color="#ffefa6"/><stop offset="0.0281" stop-color="#ffefa6"/><stop offset="0.0351" stop-color="#ffefa6"/><stop offset="0.0351" stop-color="#ffefa6"/><stop offset="0.0421" stop-color="#ffefa6"/><stop offset="0.0421" stop-color="#ffefa6"/><stop offset="0.0492" stop-color="#ffefa6"/><stop offset="0.0492" stop-color="#ffefa6"/><stop offset="0.0562" stop-color="#ffefa6"/><stop offset="0.0562" stop-color="#ffefa6"/><stop offset="0.0632" stop-color="#ffefa6"/><stop offset="0.0632" stop-color="#ffefa6"/><stop offset="0.0702" stop-color="#ffefa6"/><stop offset="0.0702" stop-color="#ffefa6"/><stop offset="0.0773" stop-color="#ffefa6"/><stop offset="0.0773" stop-color="#ffefa5"/><stop offset="0.0843" stop-color="#ffefa5"/><stop offset="0.0843" stop-color="#ffefa5"/><stop offset="0.0913" stop-color="#ffefa5"/><stop offset="0.0913" stop-color="#ffefa5"/><stop offset="0.0983" stop-color="#ffefa5"/><stop offset="0.0983" stop-color="#ffefa5"/><stop offset="0.1054" stop-color="#ffefa5"/><stop offset="0.1054" stop-color="#ffefa5"/><stop offset="0.1124" stop-color="#ffefa5"/><stop offset="0.1124" stop-color="#ffefa5"/><stop offset="0.1194" stop-color="#ffefa5"/><stop offset="0.1194" stop-color="#ffefa4"/><stop offset="0.1264" stop-color="#ffefa4"/><stop offset="0.1264" stop-color="#ffefa4"/><stop offset="0.1335" stop-color="#ffefa4"/><stop offset="0.1335" stop-color="#ffefa4"/><stop offset="0.1405" stop-color="#ffefa4"/><stop offset="0.1405" stop-color="#ffefa4"/><stop offset="0.1475" stop-color="#ffefa4"/><stop offset="0.1475" stop-color="#ffeea3"/><stop offset="0.1545" stop-color="#ffeea3"/><stop offset="0.1545" stop-color="#ffeea3"/><stop offset="0.1616" stop-color="#ffeea3"/><stop offset="0.1616" stop-color="#ffeea3"/><stop offset="0.1686" stop-color="#ffeea3"/><stop offset="0.1686" stop-color="#ffeea2"/><stop offset="0.1756" stop-color="#ffeea2"/><stop offset="0.1756" stop-color="#ffeea2"/><stop offset="0.1826" stop-color="#ffeea2"/><stop offset="0.1826" stop-color="#ffeea1"/><stop offset="0.1897" stop-color="#ffeea1"/><stop offset="0.1897" stop-color="#ffeda1"/><stop offset="0.1967" stop-color="#ffeda1"/><stop offset="0.1967" stop-color="#ffeda0"/><stop offset="0.2037" stop-color="#ffeda0"/><stop offset="0.2037" stop-color="#ffeda0"/><stop offset="0.2107" stop-color="#ffeda0"/><stop offset="0.2107" stop-color="#ffed9f"/><stop offset="0.2178" stop-color="#ffed9f"/><stop offset="0.2178" stop-color="#ffec9e"/><stop offset="0.2248" stop-color="#ffec9e"/><stop offset="0.2248" stop-color="#ffec9e"/><stop offset="0.2318" stop-color="#ffec9e"/><stop offset="0.2318" stop-color="#ffeb9d"/><stop offset="0.2388" stop-color="#ffeb9d"/><stop offset="0.2388" stop-color="#ffeb9c"/><stop offset="0.2459" stop-color="#ffeb9c"/><stop offset="0.2459" stop-color="#ffea9b"/><stop offset="0.2529" stop-color="#ffea9b"/><stop offset="0.2529" stop-color="#ffea99"/><stop offset="0.2599" stop-color="#ffea99"/><stop offset="0.2599" stop-color="#ffe998"/><stop offset="0.2669" stop-color="#ffe998"/><stop offset="0.2669" stop-color="#ffe896"/><stop offset="0.2740" stop-color="#ffe896"/><stop offset="0.2740" stop-color="#ffe895"/><stop offset="0.2810" stop-color="#ffe895"/><stop offset="0.2810" stop-color="#ffe793"/><stop offset="0.2880" stop-color="#ffe793"/><stop offset="0.2880" stop-color="#ffe691"/><stop offset="0.2950" stop-color="#ffe691"/><stop offset="0.2950" stop-color="#ffe58f"/><stop offset="0.3021" stop-color="#ffe58f"/><stop offset="0.3021" stop-color="#ffe48c"/><stop offset="0.3091" stop-color="#ffe48c"/><stop offset="0.3091" stop-color="#fee289"/><stop offset="0.3161" stop-color="#fee289"/><stop offset="0.3161" stop-color="#fee186"/><stop offset="0.3231" stop-color="#fee186"/><stop offset="0.3231" stop-color="#fedf82"/><stop offset="0.3302" stop-color="#fedf82"/><stop offset="0.3302" stop-color="#fedd7e"/><stop offset="0.3372" stop-color="#fedd7e"/><stop offset="0.3372" stop-color="#fedb7a"/><stop offset="0.3442" stop-color="#fedb7a"/><stop offset="0.3442" stop-color="#fed875"/><stop offset="0.3512" stop-color="#fed875"/><stop offset="0.3512" stop-color="#fed36f"/><stop offset="0.3583" stop-color="#fed36f"/><stop offset="0.3583" stop-color="#fecd69"/><stop offset="0.3653" stop-color="#fecd69"/><stop offset="0.3653" stop-color="#fec763"/><stop offset="0.3723" stop-color="#fec763"/><stop offset="0.3723" stop-color="#fec05b"/><stop offset="0.3793" stop-color="#fec05b"/><stop offset="0.3793" stop-color="#feb954"/><stop offset="0.3864" stop-color="#feb954"/><stop offset="0.3864" stop-color="#feb24c"/><stop offset="0.3934" stop-color="#feb24c"/><stop offset="0.3934" stop-color="#feab49"/><stop offset="0.4004" stop-color="#feab49"/><stop offset="0.4004" stop-color="#fea546"/><stop offset="0.4074" stop-color="#fea546"/><stop offset="0.4074" stop-color="#fd9f44"/><stop offset="0.4145" stop-color="#fd9f44"/><stop offset="0.4145" stop-color="#fd9b42"/><stop offset="0.4215" stop-color="#fd9b42"/><stop offset="0.4215" stop-color="#fd9841"/><stop offset="0.4285" stop-color="#fd9841"/><stop offset="0.4285" stop-color="#fd9740"/><stop offset="0.4355" stop-color="#fd9740"/><stop offset="0.4355" stop-color="#fd9b42"/><stop offset="0.4426" stop-color="#fd9b42"/><stop offset="0.4426" stop-color="#fea546"/><stop offset="0.4496" stop-color="#fea546"/><stop offset="0.4496" stop-color="#feb14c"/><stop offset="0.4566" stop-color="#feb14c"/><stop offset="0.4566" stop-color="#febf5a"/><stop offset="0.4636" stop-color="#febf5a"/><stop offset="0.4636" stop-color="#fecc68"/><stop offset="0.4707" stop-color="#fecc68"/><stop offset="0.4707" stop-color="#fed673"/><stop offset="0.4777" stop-color="#fed673"/><stop offset="0.4777" stop-color="#fedc7d"/><stop offset="0.4847" stop-color="#fedc7d"/><stop offset="0.4847" stop-color="#fee085"/><stop offset="0.4917" stop-color="#fee085"/><stop offset="0.4917" stop-color="#ffe38c"/><stop offset="0.4988" stop-color="#ffe38c"/><stop offset="0.4988" stop-color="#ffe692"/><stop offset="0.5058" stop-color="#ffe692"/><stop offset="0.5058" stop-color="#ffe896"/><stop offset="0.5128" stop-color="#ffe896"/><stop offset="0.5128" stop-color="#ffea9a"/><stop offset="0.5198" stop-color="#ffea9a"/><stop offset="0.5198" stop-color="#ffec9d"/><stop offset="0.5269" stop-color="#ffec9d"/><stop offset="0.5269" stop-color="#ffeda0"/><stop offset="0.5339" stop-color="#ffeda0"/><stop offset="0.5339" stop-color="#ffeea2"/><stop offset="0.5409" stop-color="#ffeea2"/><stop offset="0.5409" stop-color="#ffefa5"/><stop offset="0.5479" stop-color="#ffefa5"/><stop offset="0.5479" stop-color="#fff0a6"/><stop offset="0.5550" stop-color="#fff0a6"/><stop offset="0.5550" stop-color="#fff0a8"/><stop offset="0.5620" stop-color="#fff0a8"/><stop offset="0.5620" stop-color="#fff1aa"/><stop offset="0.5690" stop-color="#fff1aa"/><stop offset="0.5690" stop-color="#fff1ab"/><stop offset="0.5760" stop-color="#fff1ab"/><stop offset="0.5760" stop-color="#fff2ac"/><stop offset="0.5831" stop-color="#fff2ac"/><stop offset="0.5831" stop-color="#fff2ad"/><stop offset="0.5901" stop-color="#fff2ad"/><stop offset="0.5901" stop-color="#fff3ae"/><stop offset="0.5971" stop-color="#fff3ae"/><stop offset="0.5971" stop-color="#fff3af"/><stop offset="0.6041" stop-color="#fff3af"/><stop offset="0.6041" stop-color="#fff3af"/><stop offset="0.6112" stop-color="#fff3af"/><stop offset="0.6112" stop-color="#fff3af"/><stop offset="0.6182" stop-color="#fff3af"/><stop offset="0.6182" stop-color="#fff3af"/><stop offset="0.6252" stop-color="#fff3af"/><stop offset="0.6252" stop-color="#fff3af"/><stop offset="0.6322" stop-color="#fff3af"/><stop offset="0.6322" stop-color="#fff3af"/><stop offset="0.6393" stop-color="#fff3af"/><stop offset="0.6393" stop-color="#fff3af"/><stop offset="0.6463" stop-color="#fff3af"/><stop offset="0.6463" stop-color="#fff3af"/><stop offset="0.6533" stop-color="#fff3af"/><stop offset="0.6533" stop-color="#fff3af"/><stop offset="0.6603" stop-color="#fff3af"/><stop offset="0.6603" stop-color="#fff3ae"/><stop offset="0.6674" stop-color="#fff3ae"/><stop offset="0.6674" stop-color="#fff3ae"/><stop offset="0.6744" stop-color="#fff3ae"/><stop offset="0.6744" stop-color="#fff3ae"/><stop offset="0.6814" stop-color="#fff3ae"/><stop offset="0.6814" stop-color="#fff2ad"/><stop offset="0.6884" stop-color="#fff2ad"/><stop offset="0.6884" stop-color="#fff2ac"/><stop offset="0.6955" stop-color="#fff2ac"/><stop offset="0.6955" stop-color="#fff2ac"/><stop offset="0.7025" stop-color="#fff2ac"/><stop offset="0.7025" stop-color="#fff1ab"/><stop offset="0.7095" stop-color="#fff1ab"/><stop offset="0.7095" stop-color="#fff1aa"/><stop offset="0.7165" stop-color="#fff1aa"/><stop offset="0.7165" stop-color="#fff0a8"/><stop offset="0.7236" stop-color="#fff0a8"/><stop offset="0.7236" stop-color="#fff0a7"/><stop offset="0.7306" stop-color="#fff0a7"/><stop offset="0.7306" stop-color="#ffefa5"/><stop offset="0.7376" stop-color="#ffefa5"/><stop offset="0.7376" stop-color="#ffeea3"/><stop offset="0.7446" stop-color="#ffeea3"/><stop offset="0.7446" stop-color="#ffeda1"/><stop offset="0.7517" stop-color="#ffeda1"/><stop offset="0.7517" stop-color="#ffec9e"/><stop offset="0.7587" stop-color="#ffec9e"/><stop offset="0.7587" stop-color="#ffea9a"/><stop offset="0.7657" stop-color="#ffea9a"/><stop offset="0.7657" stop-color="#ffe896"/><stop offset="0.7727" stop-color="#ffe896"/><stop offset="0.7727" stop-color="#ffe691"/><stop offset="0.7798" stop-color="#ffe691"/><stop offset="0.7798" stop-color="#fee38b"/><stop offset="0.7868" stop-color="#fee38b"/><stop offset="0.7868" stop-color="#fedf83"/><stop offset="0.7938" stop-color="#fedf83"/><stop offset="0.7938" stop-color="#feda78"/><stop offset="0.8008" stop-color="#feda78"/><stop offset="0.8008" stop-color="#fecf6b"/><stop offset="0.8079" stop-color="#fecf6b"/><stop offset="0.8079" stop-color="#febf5a"/><stop offset="0.8149" stop-color="#febf5a"/><stop offset="0.8149" stop-color="#feaa48"/><stop offset="0.8219" stop-color="#feaa48"/><stop offset="0.8219" stop-color="#fd8e3d"/><stop offset="0.8289" stop-color="#fd8e3d"/><stop offset="0.8289" stop-color="#fc502b"/><stop offset="0.8360" stop-color="#fc502b"/><stop offset="0.8360" stop-color="#d8131f"/><stop offset="0.8430" stop-color="#d8131f"/><stop offset="0.8430" stop-color="#870026"/><stop offset="0.8500" stop-color="#870026"/><stop offset="0.8500" stop-color="#800026"/><stop offset="0.8570" stop-color="#800026"/><stop offset="0.8570" stop-color="#800026"/><stop offset="0.8641" stop-color="#800026"/><stop offset="0.8641" stop-color="#800026"/><stop offset="0.8711" stop-color="#800026"/><stop offset="0.8711" stop-color="#800026"/><stop offset="0.8781" stop-color="#800026"/><stop offset="0.8781" stop-color="#c30424"/><stop offset="0.8851" stop-color="#c30424"/><stop offset="0.8851" stop-color="#f43e26"/><stop offset="0.8922" stop-color="#f43e26"/><stop offset="0.8922" stop-color="#fd8439"/><stop offset="0.8992" stop-color="#fd8439"/><stop offset="0.8992" stop-color="#fea747"/><stop offset="0.9062" stop-color="#fea747"/><stop offset="0.9062" stop-color="#febe59"/><stop offset="0.9132" stop-color="#febe59"/><stop offset="0.9132" stop-color="#fecf6b"/><stop offset="0.9203" stop-color="#fecf6b"/><stop offset="0.9203" stop-color="#fedb79"/><stop offset="0.9273" stop-color="#fedb79"/><stop offset="0.9273" stop-color="#fee084"/><stop offset="0.9343" stop-color="#fee084"/><stop offset="0.9343" stop-color="#ffe48c"/><stop offset="0.9413" stop-color="#ffe48c"/><stop offset="0.9413" stop-color="#ffe793"/><stop offset="0.9484" stop-color="#ffe793"/><stop offset="0.9484" stop-color="#ffe999"/><stop offset="0.9554" stop-color="#ffe999"/><stop offset="0.9554" stop-color="#ffec9d"/><stop offset="0.9624" stop-color="#ffec9d"/><stop offset="0.9624" stop-color="#ffeda1"/><stop offset="0.9694" stop-color="#ffeda1"/><stop offset="0.9694" stop-color="#ffefa4"/><stop offset="0.9765" stop-color="#ffefa4"/><stop offset="0.9765" stop-color="#fff0a7"/><stop offset="0.9835" stop-color="#fff0a7"/><stop offset="0.9835" stop-color="#fff1a9"/><stop offset="0.9905" stop-color="#fff1a9"/><stop offset="0.9905" stop-color="#fff2ab"/><stop offset="0.9975" stop-color="#fff2ab"/><stop offset="0.9975" stop-color="#fff2ad"/><stop offset="1.0000" stop-color="#fff2ad"/></linearGradient>
<polygon points="971.89,82.70 1022.09,82.70 961.31,652.10 928.14,652.10" fill="url(#g8)"/>
<linearGradient id="g9" gradientUnits="userSpaceOnUse" x1="0" y1="82.70" x2="0" y2="652.10"><stop offset="0.0000" stop-color="#ffefa4"/><stop offset="0.0070" stop-color="#ffefa4"/><stop offset="0.0070" stop-color="#ffefa4"/><stop offset="0.0140" stop-color="#ffefa4"/><stop offset="0.0140" stop-color="#ffefa4"/><stop offset="0.0211" stop-color="#ffefa4"/><stop offset="0.0211" stop-color="#ffefa4"/><stop offset="0.0281" stop-color="#ffefa4"/><stop offset="0.0281" stop-color="#ffefa4"/><stop offset="0.0351" stop-color="#ffefa4"/><stop offset="0.0351" stop-color="#ffefa4"/><stop offset="0.0421" stop-color="#ffefa4"/><stop offset="0.0421" stop-color="#ffefa4"/><stop offset="0.0492" stop-color="#ffefa4"/><stop offset="0.0492" stop-color="#ffefa4"/><stop offset="0.0562" stop-color="#ffefa4"/><stop offset="0.0562" stop-color="#ffefa4"/><stop offset="0.0632" stop-color="#ffefa4"/><stop offset="0.0632" stop-color="#ffefa4"/><stop offset="0.0702" stop-color="#ffefa4"/><stop offset="0.0702" stop-color="#ffefa4"/><stop offset="0.0773" stop-color="#ffefa4"/><stop offset="0.0773" stop-color="#ffefa4"/><stop offset="0.0843" stop-color="#ffefa4"/><stop offset="0.0843" stop-color="#ffefa4"/><stop offset="0.0913" stop-color="#ffefa4"/><stop offset="0.0913" stop-color="#ffeea4"/><stop offset="0.0983" stop-color="#ffeea4"/><stop offset="0.0983" stop-color="#ffeea3"/><stop offset="0.1054" stop-color="#ffeea3"/><stop offset="0.1054" stop-color="#ffeea3"/><stop offset="0.1124" stop-color="#ffeea3"/><stop offset="0.1124" stop-color="#ffeea3"/><stop offset="0.1194" stop-color="#ffeea3"/><stop offset="0.1194" stop-color="#ffeea3"/><stop offset="0.1264" stop-color="#ffeea3"/><stop offset="0.1264" stop-color="#ffeea3"/><stop offset="0.1335" stop-color="#ffeea3"/><stop offset="0.1335" stop-color="#ffeea2"/><stop offset="0.1405" stop-color="#ffeea2"/><stop offset="0.1405" stop-color="#ffeea2"/><stop offset="0.1475" stop-color="#ffeea2"/><stop offset="0.1475" stop-color="#ffeea2"/><stop offset="0.1545" stop-color="#ffeea2"/><stop offset="0.1545" stop-color="#ffeea1"/><stop offset="0.1616" stop-color="#ffeea1"/><stop offset="0.1616" stop-color="#ffeda1"/><stop offset="0.1686" stop-color="#ffeda1"/><stop offset="0.1686" stop-color="#ffeda1"/><stop offset="0.1756" stop-color="#ffeda1"/><stop offset="0.1756" stop-color="#ffeda0"/><stop offset="0.1826" stop-color="#ffeda0"/><stop offset="0.1826" stop-color="#ffeda0"/><stop offset="0.1897" stop-color="#ffeda0"/><stop offset="0.1897" stop-color="#ffed9f"/><stop offset="0.1967" stop-color="#ffed9f"/><stop offset="0.1967" stop-color="#ffec9f"/><stop offset="0.2037" stop-color="#ffec9f"/><stop offset="0.2037" stop-color="#ffec9e"/><stop offset="0.2107" stop-color="#ffec9e"/><stop offset="0.2107" stop-color="#ffec9d"/><stop offset="0.2178" stop-color="#ffec9d"/><stop offset="0.2178" stop-color="#ffeb9c"/><stop offset="0.2248" stop-color="#ffeb9c"/><stop offset="0.2248" stop-color="#ffeb9b"/><stop offset="0.2318" stop-color="#ffeb9b"/><stop offset="0.2318" stop-color="#ffea9a"/><stop offset="0.2388" stop-color="#ffea9a"/><stop offset="0.2388" stop-color="#ffea99"/><stop offset="0.2459" stop-color="#ffea99"/><stop offset="0.2459" stop-color="#ffe998"/><stop offset="0.2529" stop-color="#ffe998"/><stop offset="0.2529" stop-color="#ffe997"/><stop offset="0.2599" stop-color="#ffe997"/><stop offset="0.2599" stop-color="#ffe895"/><stop offset="0.2669" stop-color="#ffe895"/><stop offset="0.2669" stop-color="#ffe794"/><stop offset="0.2740" stop-color="#ffe794"/><stop offset="0.2740" stop-color="#ffe692"/><stop offset="0.2810" stop-color="#ffe692"/><stop offset="0.2810" stop-color="#ffe590"/><stop offset="0.2880" stop-color="#ffe590"/><stop offset="0.2880" stop-color="#ffe48d"/><stop offset="0.2950" stop-color="#ffe48d"/><stop offset="0.2950" stop-color="#fee38b"/><stop offset="0.3021" stop-color="#fee38b"/><stop offset="0.3021" stop-color="#fee288"/><stop offset="0.3091" stop-color="#fee288"/><stop offset="0.3091" stop-color="#fee085"/><stop offset="0.3161" stop-color="#fee085"/><stop offset="0.3161" stop-color="#fede81"/><stop offset="0.3231" stop-color="#fede81"/><stop offset="0.3231" stop-color="#fedc7d"/><stop offset="0.3302" stop-color="#fedc7d"/><stop offset="0.3302" stop-color="#feda79"/><stop offset="0.3372" stop-color="#feda79"/><stop offset="0.3372" stop-color="#fed773"/><stop offset="0.3442" stop-color="#fed773"/><stop offset="0.3442" stop-color="#fed16e"/><stop offset="0.3512" stop-color="#fed16e"/><stop offset="0.3512" stop-color="#fecc68"/><stop offset="0.3583" stop-color="#fecc68"/><stop offset="0.3583" stop-color="#fec561"/><stop offset="0.3653" stop-color="#fec561"/><stop offset="0.3653" stop-color="#febe59"/><stop offset="0.3723" stop-color="#febe59"/><stop offset="0.3723" stop-color="#feb751"/><stop offset="0.3793" stop-color="#feb751"/><stop offset="0.3793" stop-color="#feb04b"/><stop offset="0.3864" stop-color="#feb04b"/><stop offset="0.3864" stop-color="#fea948"/><stop offset="0.3934" stop-color="#fea948"/><stop offset="0.3934" stop-color="#fea245"/><stop offset="0.4004" stop-color="#fea245"/><stop offset="0.4004" stop-color="#fd9c42"/><stop offset="0.4074" stop-color="#fd9c42"/><stop offset="0.4074" stop-color="#fd9740"/><stop offset="0.4145" stop-color="#fd9740"/><stop offset="0.4145" stop-color="#fd933f"/><stop offset="0.4215" stop-color="#fd933f"/><stop offset="0.4215" stop-color="#fd923e"/><stop offset="0.4285" stop-color="#fd923e"/><stop offset="0.4285" stop-color="#fd953f"/><stop offset="0.4355" stop-color="#fd953f"/><stop offset="0.4355" stop-color="#fd9d43"/><stop offset="0.4426" stop-color="#fd9d43"/><stop offset="0.4426" stop-color="#fea948"/><stop offset="0.4496" stop-color="#fea948"/><stop offset="0.4496" stop-color="#feb751"/><stop offset="0.4566" stop-color="#feb751"/><stop offset="0.4566" stop-color="#fec460"/><stop offset="0.4636" stop-color="#fec460"/><stop offset="0.4636" stop-color="#fed06c"/><stop offset="0.4707" stop-color="#fed06c"/><stop offset="0.4707" stop-color="#fed977"/><stop offset="0.4777" stop-color="#fed977"/><stop offset="0.4777" stop-color="#fede80"/><stop offset="0.4847" stop-color="#fede80"/><stop offset="0.4847" stop-color="#fee187"/><stop offset="0.4917" stop-color="#fee187"/><stop offset="0.4917" stop-color="#ffe48d"/><stop offset="0.4988" stop-color="#ffe48d"/><stop offset="0.4988" stop-color="#ffe692"/><stop offset="0.5058" stop-color="#ffe692"/><stop offset="0.5058" stop-color="#ffe997"/><stop offset="0.5128" stop-color="#ffe997"/><stop offset="0.5128" stop-color="#ffea9a"/><stop offset="0.5198" stop-color="#ffea9a"/><stop offset="0.5198" stop-color="#ffec9d"/><stop offset="0.5269" stop-color="#ffec9d"/><stop offset="0.5269" stop-color="#ffeda0"/><stop offset="0.5339" stop-color="#ffeda0"/><stop offset="0.5339" stop-color="#ffeea2"/><stop offset="0.5409" stop-color="#ffeea2"/><stop offset="0.5409" stop-color="#ffefa4"/><stop offset="0.5479" stop-color="#ffefa4"/><stop offset="0.5479" stop-color="#ffefa6"/><stop offset="0.5550" stop-color="#ffefa6"/><stop offset="0.5550" stop-color="#fff0a8"/><stop offset="0.5620" stop-color="#fff0a8"/><stop offset="0.5620" stop-color="#fff1a9"/><stop offset="0.5690" stop-color="#fff1a9"/><stop offset="0.5690" stop-color="#fff1aa"/><stop offset="0.5760" stop-color="#fff1aa"/><stop offset="0.5760" stop-color="#fff2ab"/><stop offset="0.5831" stop-color="#fff2ab"/><stop offset="0.5831" stop-color="#fff2ac"/><stop offset="0.5901" stop-color="#fff2ac"/><stop offset="0.5901" stop-color="#fff2ad"/><stop offset="0.5971" stop-color="#fff2ad"/><stop offset="0.5971" stop-color="#fff3ae"/><stop offset="0.6041" stop-color="#fff3ae"/><stop offset="0.6041" stop-color="#fff3ae"/><stop offset="0.6112" stop-color="#fff3ae"/><stop offset="0.6112" stop-color="#fff3ae"/><stop offset="0.6182" stop-color="#fff3ae"/><stop offset="0.6182" stop-color="#fff3ae"/><stop offset="0.6252" stop-color="#fff3ae"/><stop offset="0.6252" stop-color="#fff3ae"/><stop offset="0.6322" stop-color="#fff3ae"/><stop offset="0.6322" stop-color="#fff3ae"/><stop offset="0.6393" stop-color="#fff3ae"/><stop offset="0.6393" stop-color="#fff3ae"/><stop offset="0.6463" stop-color="#fff3ae"/><stop offset="0.6463" stop-color="#fff3ae"/><stop offset="0.6533" stop-color="#fff3ae"/><stop offset="0.6533" stop-color="#fff3ad"/><stop offset="0.6603" stop-color="#fff3ad"/><stop offset="0.6603" stop-color="#fff2ad"/><stop offset="0.6674" stop-color="#fff2ad"/><stop offset="0.6674" stop-color="#fff2ad"/><stop offset="0.6744" stop-color="#fff2ad"/><stop offset="0.6744" stop-color="#fff2ac"/><stop offset="0.6814" stop-color="#fff2ac"/><stop offset="0.6814" stop-color="#fff2ab"/><stop offset="0.6884" stop-color="#fff2ab"/><stop offset="0.6884" stop-color="#fff1ab"/><stop offset="0.6955" stop-color="#fff1ab"/><stop offset="0.6955" stop-color="#fff1aa"/><stop offset="0.7025" stop-color="#fff1aa"/><stop offset="0.7025" stop-color="#fff0a8"/><stop offset="0.7095" stop-color="#fff0a8"/><stop offset="0.7095" stop-color="#fff0a7"/><stop offset="0.7165" stop-color="#fff0a7"/><stop offset="0.7165" stop-color="#ffefa6"/><stop offset="0.7236" stop-color="#ffefa6"/><stop offset="0.7236" stop-color="#ffefa4"/><stop offset="0.7306" stop-color="#ffefa4"/><stop offset="0.7306" stop-color="#ffeea2"/><stop offset="0.7376" stop-color="#ffeea2"/><stop offset="0.7376" stop-color="#ffed9f"/><stop offset="0.7446" stop-color="#ffed9f"/><stop offset="0.7446" stop-color="#ffeb9c"/><stop offset="0.7517" stop-color="#ffeb9c"/><stop offset="0.7517" stop-color="#ffe998"/><stop offset="0.7587" stop-color="#ffe998"/><stop offset="0.7587" stop-color="#ffe794"/><stop offset="0.7657" stop-color="#ffe794"/><stop offset="0.7657" stop-color="#ffe58f"/><stop offset="0.7727" stop-color="#ffe58f"/><stop offset="0.7727" stop-color="#fee288"/><stop offset="0.7798" stop-color="#fee288"/><stop offset="0.7798" stop-color="#fede80"/><stop offset="0.7868" stop-color="#fede80"/><stop offset="0.7868" stop-color="#fed875"/><stop offset="0.7938" stop-color="#fed875"/><stop offset="0.7938" stop-color="#fecb67"/><stop offset="0.8008" stop-color="#fecb67"/><stop offset="0.8008" stop-color="#febb55"/><stop offset="0.8079" stop-color="#febb55"/><stop offset="0.8079" stop-color="#fea546"/><stop offset="0.8149" stop-color="#fea546"/><stop offset="0.8149" stop-color="#fd863a"/><stop offset="0.8219" stop-color="#fd863a"/><stop offset="0.8219" stop-color="#f94828"/><stop offset="0.8289" stop-color="#f94828"/><stop offset="0.8289" stop-color="#d30f20"/><stop offset="0.8360" stop-color="#d30f20"/><stop offset="0.8360" stop-color="#810026"/><stop offset="0.8430" stop-color="#810026"/><stop offset="0.8430" stop-color="#800026"/><stop offset="0.8500" stop-color="#800026"/><stop offset="0.8500" stop-color="#800026"/><stop offset="0.8570" stop-color="#800026"/><stop offset="0.8570" stop-color="#800026"/><stop offset="0.8641" stop-color="#800026"/><stop offset="0.8641" stop-color="#800026"/><stop offset="0.8711" stop-color="#800026"/><stop offset="0.8711" stop-color="#bc0026"/><stop offset="0.8781" stop-color="#bc0026"/><stop offset="0.8781" stop-color="#f03523"/><stop offset="0.8851" stop-color="#f03523"/><stop offset="0.8851" stop-color="#fd7936"/><stop offset="0.8922" stop-color="#fd7936"/><stop offset="0.8922" stop-color="#fea145"/><stop offset="0.8992" stop-color="#fea145"/><stop offset="0.8992" stop-color="#feb953"/><stop offset="0.9062" stop-color="#feb953"/><stop offset="0.9062" stop-color="#fecb67"/><stop offset="0.9132" stop-color="#fecb67"/><stop offset="0.9132" stop-color="#fed875"/><stop offset="0.9203" stop-color="#fed875"/><stop offset="0.9203" stop-color="#fede80"/><stop offset="0.9273" stop-color="#fede80"/><stop offset="0.9273" stop-color="#fee289"/><stop offset="0.9343" stop-color="#fee289"/><stop offset="0.9343" stop-color="#ffe690"/><stop offset="0.9413" stop-color="#ffe690"/><stop offset="0.9413" stop-color="#ffe896"/><stop offset="0.9484" stop-color="#ffe896"/><stop offset="0.9484" stop-color="#ffeb9b"/><stop offset="0.9554" stop-color="#ffeb9b"/><stop offset="0.9554" stop-color="#ffec9f"/><stop offset="0.9624" stop-color="#ffec9f"/><stop offset="0.9624" stop-color="#ffeea2"/><stop offset="0.9694" stop-color="#ffeea2"/><stop offset="0.9694" stop-color="#ffefa5"/><stop offset="0.9765" stop-color="#ffefa5"/><stop offset="0.9765" stop-color="#fff0a8"/><stop offset="0.9835" stop-color="#fff0a8"/><stop offset="0.9835" stop-color="#fff1aa"/><stop offset="0.9905" stop-color="#fff1aa"/><stop offset="0.9905" stop-color="#fff2ac"/><stop offset="0.9975" stop-color="#fff2ac"/><stop offset="0.9975" stop-color="#fff2ad"/><stop offset="1.0000" stop-color="#fff2ad"/></linearGradient>
<polygon points="1021.29,82.70 1070.16,82.70 992.80,652.10 960.51,652.10" fill="url(#g9)"/>
<linearGradient id="g10" gradientUnits="userSpaceOnUse" x1="0" y1="82.70" x2="0" y2="652.10"><stop offset="0.0000" stop-color="#ffeea2"/><stop offset="0.0070" stop-color="#ffeea2"/><stop offset="0.0070" stop-color="#ffeea2"/><stop offset="0.0140" stop-color="#ffeea2"/><stop offset="0.0140" stop-color="#ffeea2"/><stop offset="0.0211" stop-color="#ffeea2"/><stop offset="0.0211" stop-color="#ffeea2"/><stop offset="0.0281" stop-color="#ffeea2"/><stop offset="0.0281" stop-color="#ffeea2"/><stop offset="0.0351" stop-color="#ffeea2"/><stop offset="0.0351" stop-color="#ffeea2"/><stop offset="0.0421" stop-color="#ffeea2"/><stop offset="0.0421" stop-color="#ffeea2"/><stop offset="0.0492" stop-color="#ffeea2"/><stop offset="0.0492" stop-color="#ffeea2"/><stop offset="0.0562" stop-color="#ffeea2"/><stop offset="0.0562" stop-color="#ffeea2"/><stop offset="0.0632" stop-color="#ffeea2"/><stop offset="0.0632" stop-color="#ffeea2"/><stop offset="0.0702" stop-color="#ffeea2"/><stop offset="0.0702" stop-color="#ffeea2"/><stop offset="0.0773" stop-color="#ffeea2"/><stop offset="0.0773" stop-color="#ffeea2"/><stop offset="0.0843" stop-color="#ffeea2"/><stop offset="0.0843" stop-color="#ffeea2"/><stop offset="0.0913" stop-color="#ffeea2"/><stop offset="0.0913" stop-color="#ffeea2"/><stop offset="0.0983" stop-color="#ffeea2"/><stop offset="0.0983" stop-color="#ffeea2"/><stop offset="0.1054" stop-color="#ffeea2"/><stop offset="0.1054" stop-color="#ffeea1"/><stop offset="0.1124" stop-color="#ffeea1"/><stop offset="0.1124" stop-color="#ffeda1"/><stop offset="0.1194" stop-color="#ffeda1"/><stop offset="0.1194" stop-color="#ffeda1"/><stop offset="0.1264" stop-color="#ffeda1"/><stop offset="0.1264" stop-color="#ffeda1"/><stop offset="0.1335" stop-color="#ffeda1"/><stop offset="0.1335" stop-color="#ffeda0"/><stop offset="0.1405" stop-color="#ffeda0"/><stop offset="0.1405" stop-color="#ffeda0"/><stop offset="0.1475" stop-color="#ffeda0"/><stop offset="0.1475" stop-color="#ffeda0"/><stop offset="0.1545" stop-color="#ffeda0"/><stop offset="0.1545" stop-color="#ffed9f"/><stop offset="0.1616" stop-color="#ffed9f"/><stop offset="0.1616" stop-color="#ffed9f"/><stop offset="0.1686" stop-color="#ffed9f"/><stop offset="0.1686" stop-color="#ffec9f"/><stop offset="0.1756" stop-color="#ffec9f"/><stop offset="0.1756" stop-color="#ffec9e"/><stop offset="0.1826" stop-color="#ffec9e"/><stop offset="0.1826" stop-color="#ffec9e"/><stop offset="0.1897" stop-color="#ffec9e"/><stop offset="0.1897" stop-color="#ffec9d"/><stop offset="0.1967" stop-color="#ffec9d"/><stop offset="0.1967" stop-color="#ffeb9c"/><stop offset="0.2037" stop-color="#ffeb9c"/><stop offset="0.2037" stop-color="#ffeb9c"/><stop offset="0.2107" stop-color="#ffeb9c"/><stop offset="0.2107" stop-color="#ffeb9b"/><stop offset="0.2178" stop-color="#ffeb9b"/><stop offset="0.2178" stop-color="#ffea9a"/><stop offset="0.2248" stop-color="#ffea9a"/><stop offset="0.2248" stop-color="#ffea99"/><stop offset="0.2318" stop-color="#ffea99"/><stop offset="0.2318" stop-color="#ffe998"/><stop offset="0.2388" stop-color="#ffe998"/><stop offset="0.2388" stop-color="#ffe997"/><stop offset="0.2459" stop-color="#ffe997"/><stop offset="0.2459" stop-color="#ffe895"/><stop offset="0.2529" stop-color="#ffe895"/><stop offset="0.2529" stop-color="#ffe794"/><stop offset="0.2599" stop-color="#ffe794"/><stop offset="0.2599" stop-color="#ffe692"/><stop offset="0.2669" stop-color="#ffe692"/><stop offset="0.2669" stop-color="#ffe690"/><stop offset="0.2740" stop-color="#ffe690"/><stop offset="0.2740" stop-color="#ffe58e"/><stop offset="0.2810" stop-color="#ffe58e"/><stop offset="0.2810" stop-color="#ffe48c"/><stop offset="0.2880" stop-color="#ffe48c"/><stop offset="0.2880" stop-color="#fee28a"/><stop offset="0.2950" stop-color="#fee28a"/><stop offset="0.2950" stop-color="#fee187"/><stop offset="0.3021" stop-color="#fee187"/><stop offset="0.3021" stop-color="#fedf83"/><stop offset="0.3091" stop-color="#fedf83"/><stop offset="0.3091" stop-color="#fede80"/><stop offset="0.3161" stop-color="#fede80"/><stop offset="0.3161" stop-color="#fedc7c"/><stop offset="0.3231" stop-color="#fedc7c"/><stop offset="0.3231" stop-color="#feda77"/><stop offset="0.3302" stop-color="#feda77"/><stop offset="0.3302" stop-color="#fed672"/><stop offset="0.3372" stop-color="#fed672"/><stop offset="0.3372" stop-color="#fed06d"/><stop offset="0.3442" stop-color="#fed06d"/><stop offset="0.3442" stop-color="#feca66"/><stop offset="0.3512" stop-color="#feca66"/><stop offset="0.3512" stop-color="#fec45f"/><stop offset="0.3583" stop-color="#fec45f"/><stop offset="0.3583" stop-color="#febd58"/><stop offset="0.3653" stop-color="#febd58"/><stop offset="0.3653" stop-color="#feb550"/><stop offset="0.3723" stop-color="#feb550"/><stop offset="0.3723" stop-color="#feae4a"/><stop offset="0.3793" stop-color="#feae4a"/><stop offset="0.3793" stop-color="#fea647"/><stop offset="0.3864" stop-color="#fea647"/><stop offset="0.3864" stop-color="#fd9e43"/><stop offset="0.3934" stop-color="#fd9e43"/><stop offset="0.3934" stop-color="#fd9740"/><stop offset="0.4004" stop-color="#fd9740"/><stop offset="0.4004" stop-color="#fd903e"/><stop offset="0.4074" stop-color="#fd903e"/><stop offset="0.4074" stop-color="#fd8b3b"/><stop offset="0.4145" stop-color="#fd8b3b"/><stop offset="0.4145" stop-color="#fd863a"/><stop offset="0.4215" stop-color="#fd863a"/><stop offset="0.4215" stop-color="#fd843a"/><stop offset="0.4285" stop-color="#fd843a"/><stop offset="0.4285" stop-color="#fd8c3c"/><stop offset="0.4355" stop-color="#fd8c3c"/><stop offset="0.4355" stop-color="#fd9740"/><stop offset="0.4426" stop-color="#fd9740"/><stop offset="0.4426" stop-color="#fea446"/><stop offset="0.4496" stop-color="#fea446"/><stop offset="0.4496" stop-color="#feb24c"/><stop offset="0.4566" stop-color="#feb24c"/><stop offset="0.4566" stop-color="#fec05b"/><stop offset="0.4636" stop-color="#fec05b"/><stop offset="0.4636" stop-color="#fecc68"/><stop offset="0.4707" stop-color="#fecc68"/><stop offset="0.4707" stop-color="#fed673"/><stop offset="0.4777" stop-color="#fed673"/><stop offset="0.4777" stop-color="#fedc7c"/><stop offset="0.4847" stop-color="#fedc7c"/><stop offset="0.4847" stop-color="#fee084"/><stop offset="0.4917" stop-color="#fee084"/><stop offset="0.4917" stop-color="#fee38a"/><stop offset="0.4988" stop-color="#fee38a"/><stop offset="0.4988" stop-color="#ffe590"/><stop offset="0.5058" stop-color="#ffe590"/><stop offset="0.5058" stop-color="#ffe794"/><stop offset="0.5128" stop-color="#ffe794"/><stop offset="0.5128" stop-color="#ffe998"/><stop offset="0.5198" stop-color="#ffe998"/><stop offset="0.5198" stop-color="#ffeb9b"/><stop offset="0.5269" stop-color="#ffeb9b"/><stop offset="0.5269" stop-color="#ffec9e"/><stop offset="0.5339" stop-color="#ffec9e"/><stop offset="0.5339" stop-color="#ffeda0"/><stop offset="0.5409" stop-color="#ffeda0"/><stop offset="0.5409" stop-color="#ffeea2"/><stop offset="0.5479" stop-color="#ffeea2"/><stop offset="0.5479" stop-color="#ffefa4"/><stop offset="0.5550" stop-color="#ffefa4"/><stop offset="0.5550" stop-color="#ffefa6"/><stop offset="0.5620" stop-color="#ffefa6"/><stop offset="0.5620" stop-color="#fff0a7"/><stop offset="0.5690" stop-color="#fff0a7"/><stop offset="0.5690" stop-color="#fff0a8"/><stop offset="0.5760" stop-color="#fff0a8"/><stop offset="0.5760" stop-color="#fff1aa"/><stop offset="0.5831" stop-color="#fff1aa"/><stop offset="0.5831" stop-color="#fff1ab"/><stop offset="0.5901" stop-color="#fff1ab"/><stop offset="0.5901" stop-color="#fff2ac"/><stop offset="0.5971" stop-color="#fff2ac"/><stop offset="0.5971" stop-color="#fff2ac"/><stop offset="0.6041" stop-color="#fff2ac"/><stop offset="0.6041" stop-color="#fff2ac"/><stop offset="0.6112" stop-color="#fff2ac"/><stop offset="0.6112" stop-color="#fff2ac"/><stop offset="0.6182" stop-color="#fff2ac"/><stop offset="0.6182" stop-color="#fff2ac"/><stop offset="0.6252" stop-color="#fff2ac"/><stop offset="0.6252" stop-color="#fff2ac"/><stop offset="0.6322" stop-color="#fff2ac"/><stop offset="0.6322" stop-color="#fff2ac"/><stop offset="0.6393" stop-color="#fff2ac"/><stop offset="0.6393" stop-color="#fff2ac"/><stop offset="0.6463" stop-color="#fff2ac"/><stop offset="0.6463" stop-color="#fff2ac"/><stop offset="0.6533" stop-color="#fff2ac"/><stop offset="0.6533" stop-color="#fff2ab"/><stop offset="0.6603" stop-color="#fff2ab"/><stop offset="0.6603" stop-color="#fff1ab"/><stop offset="0.6674" stop-color="#fff1ab"/><stop offset="0.6674" stop-color="#fff1aa"/><stop offset="0.6744" stop-color="#fff1aa"/><stop offset="0.6744" stop-color="#fff1a9"/><stop offset="0.6814" stop-color="#fff1a9"/><stop offset="0.6814" stop-color="#fff0a8"/><stop offset="0.6884" stop-color="#fff0a8"/><stop offset="0.6884" stop-color="#fff0a7"/><stop offset="0.6955" stop-color="#fff0a7"/><stop offset="0.6955" stop-color="#ffefa6"/><stop offset="0.7025" stop-color="#ffefa6"/><stop offset="0.7025" stop-color="#ffefa4"/><stop offset="0.7095" stop-color="#ffefa4"/><stop offset="0.7095" stop-color="#ffeea2"/><stop offset="0.7165" stop-color="#ffeea2"/><stop offset="0.7165" stop-color="#ffeda0"/><stop offset="0.7236" stop-color="#ffeda0"/><stop offset="0.7236" stop-color="#ffec9d"/><stop offset="0.7306" stop-color="#ffec9d"/><stop offset="0.7306" stop-color="#ffea9a"/><stop offset="0.7376" stop-color="#ffea9a"/><stop offset="0.7376" stop-color="#ffe997"/><stop offset="0.7446" stop-color="#ffe997"/><stop offset="0.7446" stop-color="#ffe792"/><stop offset="0.7517" stop-color="#ffe792"/><stop offset="0.7517" stop-color="#ffe48d"/><stop offset="0.7587" stop-color="#ffe48d"/><stop offset="0.7587" stop-color="#fee186"/><stop offset="0.7657" stop-color="#fee186"/><stop offset="0.7657" stop-color="#fedd7e"/><stop offset="0.7727" stop-color="#fedd7e"/><stop offset="0.7727" stop-color="#fed673"/><stop offset="0.7798" stop-color="#fed673"/><stop offset="0.7798" stop-color="#feca65"/><stop offset="0.7868" stop-color="#feca65"/><stop offset="0.7868" stop-color="#feb954"/><stop offset="0.7938" stop-color="#feb954"/><stop offset="0.7938" stop-color="#fea446"/><stop offset="0.8008" stop-color="#fea446"/><stop offset="0.8008" stop-color="#fd853a"/><stop offset="0.8079" stop-color="#fd853a"/><stop offset="0.8079" stop-color="#f94929"/><stop offset="0.8149" stop-color="#f94929"/><stop offset="0.8149" stop-color="#d51020"/><stop offset="0.8219" stop-color="#d51020"/><stop offset="0.8219" stop-color="#880026"/><stop offset="0.8289" stop-color="#880026"/><stop offset="0.8289" stop-color="#800026"/><stop offset="0.8360" stop-color="#800026"/><stop offset="0.8360" stop-color="#800026"/><stop offset="0.8430" stop-color="#800026"/><stop offset="0.8430" stop-color="#800026"/><stop offset="0.8500" stop-color="#800026"/><stop offset="0.8500" stop-color="#800026"/><stop offset="0.8570" stop-color="#800026"/><stop offset="0.8570" stop-color="#a50026"/><stop offset="0.8641" stop-color="#a50026"/><stop offset="0.8641" stop-color="#e7221e"/><stop offset="0.8711" stop-color="#e7221e"/><stop offset="0.8711" stop-color="#fc6631"/><stop offset="0.8781" stop-color="#fc6631"/><stop offset="0.8781" stop-color="#fd9841"/><stop offset="0.8851" stop-color="#fd9841"/><stop offset="0.8851" stop-color="#feb14c"/><stop offset="0.8922" stop-color="#feb14c"/><stop offset="0.8922" stop-color="#fec460"/><stop offset="0.8992" stop-color="#fec460"/><stop offset="0.8992" stop-color="#fed36f"/><stop offset="0.9062" stop-color="#fed36f"/><stop offset="0.9062" stop-color="#fedc7b"/><stop offset="0.9132" stop-color="#fedc7b"/><stop offset="0.9132" stop-color="#fee085"/><stop offset="0.9203" stop-color="#fee085"/><stop offset="0.9203" stop-color="#ffe48c"/><stop offset="0.9273" stop-color="#ffe48c"/><stop offset="0.9273" stop-color="#ffe792"/><stop offset="0.9343" stop-color="#ffe792"/><stop offset="0.9343" stop-color="#ffe997"/><stop offset="0.9413" stop-color="#ffe997"/><stop offset="0.9413" stop-color="#ffeb9c"/><stop offset="0.9484" stop-color="#ffeb9c"/><stop offset="0.9484" stop-color="#ffed9f"/><stop offset="0.9554" stop-color="#ffed9f"/><stop offset="0.9554" stop-color="#ffeea2"/><stop offset="0.9624" stop-color="#ffeea2"/><stop offset="0.9624" stop-color="#ffefa5"/><stop offset="0.9694" stop-color="#ffefa5"/><stop offset="0.9694" stop-color="#fff0a8"/><stop offset="0.9765" stop-color="#fff0a8"/><stop offset="0.9765" stop-color="#fff1aa"/><stop offset="0.9835" stop-color="#fff1aa"/><stop offset="0.9835" stop-color="#fff2ac"/><stop offset="0.9905" stop-color="#fff2ac"/><stop offset="0.9905" stop-color="#fff2ad"/><stop offset="0.9975" stop-color="#fff2ad"/><stop offset="0.9975" stop-color="#fff3ae"/><stop offset="1.0000" stop-color="#fff3ae"/></linearGradient>
<polygon points="1069.36,82.70 1116.51,82.70 1023.17,652.10 992.00,652.10" fill="url(#g10)"/>
<linearGradient id="g11" gradientUnits="userSpaceOnUse" x1="0" y1="82.70" x2="0" y2="652.10"><stop offset="0.0000" stop-color="#ffeda0"/><stop offset="0.0070" stop-color="#ffeda0"/><stop offset="0.0070" stop-color="#ffeda0"/><stop offset="0.0140" stop-color="#ffeda0"/><stop offset="0.0140" stop-color="#ffeda0"/><stop offset="0.0211" stop-color="#ffeda0"/><stop offset="0.0211" stop-color="#ffeda0"/><stop offset="0.0281" stop-color="#ffeda0"/><stop offset="0.0281" stop-color="#ffeda0"/><stop offset="0.0351" stop-color="#ffeda0"/><stop offset="0.0351" stop-color="#ffeda0"/><stop offset="0.0421" stop-color="#ffeda0"/><stop offset="0.0421" stop-color="#ffeda0"/><stop offset="0.0492" stop-color="#ffeda0"/><stop offset="0.0492" stop-color="#ffeda0"/><stop offset="0.0562" stop-color="#ffeda0"/><stop offset="0.0562" stop-color="#ffeda0"/><stop offset="0.0632" stop-color="#ffeda0"/><stop offset="0.0632" stop-color="#ffeda0"/><stop offset="0.0702" stop-color="#ffeda0"/><stop offset="0.0702" stop-color="#ffeda0"/><stop offset="0.0773" stop-color="#ffeda0"/><stop offset="0.0773" stop-color="#ffeda0"/><stop offset="0.0843" stop-color="#ffeda0"/><stop offset="0.0843" stop-color="#ffeda0"/><stop offset="0.0913" stop-color="#ffeda0"/><stop offset="0.0913" stop-color="#ffed9f"/><stop offset="0.0983" stop-color="#ffed9f"/><stop offset="0.0983" stop-color="#ffed9f"/><stop offset="0.1054" stop-color="#ffed9f"/><stop offset="0.1054" stop-color="#ffed9f"/><stop offset="0.1124" stop-color="#ffed9f"/><stop offset="0.1124" stop-color="#ffec9f"/><stop offset="0.1194" stop-color="#ffec9f"/><stop offset="0.1194" stop-color="#ffec9f"/><stop offset="0.1264" stop-color="#ffec9f"/><stop offset="0.1264" stop-color="#ffec9e"/><stop offset="0.1335" stop-color="#ffec9e"/><stop offset="0.1335" stop-color="#ffec9e"/><stop offset="0.1405" stop-color="#ffec9e"/><stop offset="0.1405" stop-color="#ffec9e"/><stop offset="0.1475" stop-color="#ffec9e"/><stop offset="0.1475" stop-color="#ffec9d"/><stop offset="0.1545" stop-color="#ffec9d"/><stop offset="0.1545" stop-color="#ffec9d"/><stop offset="0.1616" stop-color="#ffec9d"/><stop offset="0.1616" stop-color="#ffeb9d"/><stop offset="0.1686" stop-color="#ffeb9d"/><stop offset="0.1686" stop-color="#ffeb9c"/><stop offset="0.1756" stop-color="#ffeb9c"/><stop offset="0.1756" stop-color="#ffeb9c"/><stop offset="0.1826" stop-color="#ffeb9c"/><stop offset="0.1826" stop-color="#ffeb9b"/><stop offset="0.1897" stop-color="#ffeb9b"/><stop offset="0.1897" stop-color="#ffea9a"/><stop offset="0.1967" stop-color="#ffea9a"/><stop offset="0.1967" stop-color="#ffea9a"/><stop offset="0.2037" stop-color="#ffea9a"/><stop offset="0.2037" stop-color="#ffea99"/><stop offset="0.2107" stop-color="#ffea99"/><stop offset="0.2107" stop-color="#ffe998"/><stop offset="0.2178" stop-color="#ffe998"/><stop offset="0.2178" stop-color="#ffe997"/><stop offset="0.2248" stop-color="#ffe997"/><stop offset="0.2248" stop-color="#ffe896"/><stop offset="0.2318" stop-color="#ffe896"/><stop offset="0.2318" stop-color="#ffe794"/><stop offset="0.2388" stop-color="#ffe794"/><stop offset="0.2388" stop-color="#ffe793"/><stop offset="0.2459" stop-color="#ffe793"/><stop offset="0.2459" stop-color="#ffe691"/><stop offset="0.2529" stop-color="#ffe691"/><stop offset="0.2529" stop-color="#ffe590"/><stop offset="0.2599" stop-color="#ffe590"/><stop offset="0.2599" stop-color="#ffe48e"/><stop offset="0.2669" stop-color="#ffe48e"/><stop offset="0.2669" stop-color="#ffe38b"/><stop offset="0.2740" stop-color="#ffe38b"/><stop offset="0.2740" stop-color="#fee289"/><stop offset="0.2810" stop-color="#fee289"/><stop offset="0.2810" stop-color="#fee186"/><stop offset="0.2880" stop-color="#fee186"/><stop offset="0.2880" stop-color="#fedf83"/><stop offset="0.2950" stop-color="#fedf83"/><stop offset="0.2950" stop-color="#fede80"/><stop offset="0.3021" stop-color="#fede80"/><stop offset="0.3021" stop-color="#fedc7c"/><stop offset="0.3091" stop-color="#fedc7c"/><stop offset="0.3091" stop-color="#feda78"/><stop offset="0.3161" stop-color="#feda78"/><stop offset="0.3161" stop-color="#fed673"/><stop offset="0.3231" stop-color="#fed673"/><stop offset="0.3231" stop-color="#fed16e"/><stop offset="0.3302" stop-color="#fed16e"/><stop offset="0.3302" stop-color="#fecc68"/><stop offset="0.3372" stop-color="#fecc68"/><stop offset="0.3372" stop-color="#fec561"/><stop offset="0.3442" stop-color="#fec561"/><stop offset="0.3442" stop-color="#febe59"/><stop offset="0.3512" stop-color="#febe59"/><stop offset="0.3512" stop-color="#feb751"/><stop offset="0.3583" stop-color="#feb751"/><stop offset="0.3583" stop-color="#feaf4b"/><stop offset="0.3653" stop-color="#feaf4b"/><stop offset="0.3653" stop-color="#fea647"/><stop offset="0.3723" stop-color="#fea647"/><stop offset="0.3723" stop-color="#fd9e43"/><stop offset="0.3793" stop-color="#fd9e43"/><stop offset="0.3793" stop-color="#fd953f"/><stop offset="0.3864" stop-color="#fd953f"/><stop offset="0.3864" stop-color="#fd8c3c"/><stop offset="0.3934" stop-color="#fd8c3c"/><stop offset="0.3934" stop-color="#fd7f38"/><stop offset="0.4004" stop-color="#fd7f38"/><stop offset="0.4004" stop-color="#fd7535"/><stop offset="0.4074" stop-color="#fd7535"/><stop offset="0.4074" stop-color="#fd6e33"/><stop offset="0.4145" stop-color="#fd6e33"/><stop offset="0.4145" stop-color="#fc6b32"/><stop offset="0.4215" stop-color="#fc6b32"/><stop offset="0.4215" stop-color="#fd6e33"/><stop offset="0.4285" stop-color="#fd6e33"/><stop offset="0.4285" stop-color="#fd7d38"/><stop offset="0.4355" stop-color="#fd7d38"/><stop offset="0.4355" stop-color="#fd913e"/><stop offset="0.4426" stop-color="#fd913e"/><stop offset="0.4426" stop-color="#fea044"/><stop offset="0.4496" stop-color="#fea044"/><stop offset="0.4496" stop-color="#feaf4b"/><stop offset="0.4566" stop-color="#feaf4b"/><stop offset="0.4566" stop-color="#febd58"/><stop offset="0.4636" stop-color="#febd58"/><stop offset="0.4636" stop-color="#fec965"/><stop offset="0.4707" stop-color="#fec965"/><stop offset="0.4707" stop-color="#fed470"/><stop offset="0.4777" stop-color="#fed470"/><stop offset="0.4777" stop-color="#fedb79"/><stop offset="0.4847" stop-color="#fedb79"/><stop offset="0.4847" stop-color="#fede81"/><stop offset="0.4917" stop-color="#fede81"/><stop offset="0.4917" stop-color="#fee188"/><stop offset="0.4988" stop-color="#fee188"/><stop offset="0.4988" stop-color="#ffe48d"/><stop offset="0.5058" stop-color="#ffe48d"/><stop offset="0.5058" stop-color="#ffe692"/><stop offset="0.5128" stop-color="#ffe692"/><stop offset="0.5128" stop-color="#ffe895"/><stop offset="0.5198" stop-color="#ffe895"/><stop offset="0.5198" stop-color="#ffea99"/><stop offset="0.5269" stop-color="#ffea99"/><stop offset="0.5269" stop-color="#ffeb9b"/><stop offset="0.5339" stop-color="#ffeb9b"/><stop offset="0.5339" stop-color="#ffec9e"/><stop offset="0.5409" stop-color="#ffec9e"/><stop offset="0.5409" stop-color="#ffeda0"/><stop offset="0.5479" stop-color="#ffeda0"/><stop offset="0.5479" stop-color="#ffeea2"/><stop offset="0.5550" stop-color="#ffeea2"/><stop offset="0.5550" stop-color="#ffeea4"/><stop offset="0.5620" stop-color="#ffeea4"/><stop offset="0.5620" stop-color="#ffefa5"/><stop offset="0.5690" stop-color="#ffefa5"/><stop offset="0.5690" stop-color="#fff0a6"/><stop offset="0.5760" stop-color="#fff0a6"/><stop offset="0.5760" stop-color="#fff0a8"/><stop offset="0.5831" stop-color="#fff0a8"/><stop offset="0.5831" stop-color="#fff1a9"/><stop offset="0.5901" stop-color="#fff1a9"/><stop offset="0.5901" stop-color="#fff1aa"/><stop offset="0.5971" stop-color="#fff1aa"/><stop offset="0.5971" stop-color="#fff1aa"/><stop offset="0.6041" stop-color="#fff1aa"/><stop offset="0.6041" stop-color="#fff1aa"/><stop offset="0.6112" stop-color="#fff1aa"/><stop offset="0.6112" stop-color="#fff1aa"/><stop offset="0.6182" stop-color="#fff1aa"/><stop offset="0.6182" stop-color="#fff1aa"/><stop offset="0.6252" stop-color="#fff1aa"/><stop offset="0.6252" stop-color="#fff1aa"/><stop offset="0.6322" stop-color="#fff1aa"/><stop offset="0.6322" stop-color="#fff1aa"/><stop offset="0.6393" stop-color="#fff1aa"/><stop offset="0.6393" stop-color="#fff1a9"/><stop offset="0.6463" stop-color="#fff1a9"/><stop offset="0.6463" stop-color="#fff1a9"/><stop offset="0.6533" stop-color="#fff1a9"/><stop offset="0.6533" stop-color="#fff0a8"/><stop offset="0.6603" stop-color="#fff0a8"/><stop offset="0.6603" stop-color="#fff0a8"/><stop offset="0.6674" stop-color="#fff0a8"/><stop offset="0.6674" stop-color="#fff0a7"/><stop offset="0.6744" stop-color="#fff0a7"/><stop offset="0.6744" stop-color="#ffefa6"/><stop offset="0.6814" stop-color="#ffefa6"/><stop offset="0.6814" stop-color="#ffefa4"/><stop offset="0.6884" stop-color="#ffefa4"/><stop offset="0.6884" stop-color="#ffeea3"/><stop offset="0.6955" stop-color="#ffeea3"/><stop offset="0.6955" stop-color="#ffeda1"/><stop offset="0.7025" stop-color="#ffeda1"/><stop offset="0.7025" stop-color="#ffec9f"/><stop offset="0.7095" stop-color="#ffec9f"/><stop offset="0.7095" stop-color="#ffeb9c"/><stop offset="0.7165" stop-color="#ffeb9c"/><stop offset="0.7165" stop-color="#ffea99"/><stop offset="0.7236" stop-color="#ffea99"/><stop offset="0.7236" stop-color="#ffe896"/><stop offset="0.7306" stop-color="#ffe896"/><stop offset="0.7306" stop-color="#ffe691"/><stop offset="0.7376" stop-color="#ffe691"/><stop offset="0.7376" stop-color="#ffe38c"/><stop offset="0.7446" stop-color="#ffe38c"/><stop offset="0.7446" stop-color="#fee085"/><stop offset="0.7517" stop-color="#fee085"/><stop offset="0.7517" stop-color="#fedc7d"/><stop offset="0.7587" stop-color="#fedc7d"/><stop offset="0.7587" stop-color="#fed673"/><stop offset="0.7657" stop-color="#fed673"/><stop offset="0.7657" stop-color="#feca65"/><stop offset="0.7727" stop-color="#feca65"/><stop offset="0.7727" stop-color="#feba54"/><stop offset="0.7798" stop-color="#feba54"/><stop offset="0.7798" stop-color="#fea547"/><stop offset="0.7868" stop-color="#fea547"/><stop offset="0.7868" stop-color="#fd8a3b"/><stop offset="0.7938" stop-color="#fd8a3b"/><stop offset="0.7938" stop-color="#fc502b"/><stop offset="0.8008" stop-color="#fc502b"/><stop offset="0.8008" stop-color="#dd161d"/><stop offset="0.8079" stop-color="#dd161d"/><stop offset="0.8079" stop-color="#9a0026"/><stop offset="0.8149" stop-color="#9a0026"/><stop offset="0.8149" stop-color="#800026"/><stop offset="0.8219" stop-color="#800026"/><stop offset="0.8219" stop-color="#800026"/><stop offset="0.8289" stop-color="#800026"/><stop offset="0.8289" stop-color="#800026"/><stop offset="0.8360" stop-color="#800026"/><stop offset="0.8360" stop-color="#800026"/><stop offset="0.8430" stop-color="#800026"/><stop offset="0.8430" stop-color="#810026"/><stop offset="0.8500" stop-color="#810026"/><stop offset="0.8500" stop-color="#d41020"/><stop offset="0.8570" stop-color="#d41020"/><stop offset="0.8570" stop-color="#fa4a29"/><stop offset="0.8641" stop-color="#fa4a29"/><stop offset="0.8641" stop-color="#fd883b"/><stop offset="0.8711" stop-color="#fd883b"/><stop offset="0.8711" stop-color="#fea647"/><stop offset="0.8781" stop-color="#fea647"/><stop offset="0.8781" stop-color="#febb56"/><stop offset="0.8851" stop-color="#febb56"/><stop offset="0.8851" stop-color="#fecc68"/><stop offset="0.8922" stop-color="#fecc68"/><stop offset="0.8922" stop-color="#fed875"/><stop offset="0.8992" stop-color="#fed875"/><stop offset="0.8992" stop-color="#fedd7f"/><stop offset="0.9062" stop-color="#fedd7f"/><stop offset="0.9062" stop-color="#fee187"/><stop offset="0.9132" stop-color="#fee187"/><stop offset="0.9132" stop-color="#ffe48e"/><stop offset="0.9203" stop-color="#ffe48e"/><stop offset="0.9203" stop-color="#ffe793"/><stop offset="0.9273" stop-color="#ffe793"/><stop offset="0.9273" stop-color="#ffe998"/><stop offset="0.9343" stop-color="#ffe998"/><stop offset="0.9343" stop-color="#ffeb9c"/><stop offset="0.9413" stop-color="#ffeb9c"/><stop offset="0.9413" stop-color="#ffed9f"/><stop offset="0.9484" stop-color="#ffed9f"/><stop offset="0.9484" stop-color="#ffeea2"/><stop offset="0.9554" stop-color="#ffeea2"/><stop offset="0.9554" stop-color="#ffefa5"/><stop offset="0.9624" stop-color="#ffefa5"/><stop offset="0.9624" stop-color="#fff0a7"/><stop offset="0.9694" stop-color="#fff0a7"/><stop offset="0.9694" stop-color="#fff1a9"/><stop offset="0.9765" stop-color="#fff1a9"/><stop offset="0.9765" stop-color="#fff2ab"/><stop offset="0.9835" stop-color="#fff2ab"/><stop offset="0.9835" stop-color="#fff2ad"/><stop offset="0.9905" stop-color="#fff2ad"/><stop offset="0.9905" stop-color="#fff3ae"/><stop offset="0.9975" stop-color="#fff3ae"/><stop offset="0.9975" stop-color="#fff3af"/><stop offset="1.0000" stop-color="#fff3af"/></linearGradient>
<polygon points="1115.71,82.70 1160.80,82.70 1052.20,652.10 1022.37,652.10" fill="url(#g11)"/>
<linearGradient id="g12" gradientUnits="userSpaceOnUse" x1="0" y1="82.70" x2="0" y2="652.10"><stop offset="0.0000" stop-color="#ffec9e"/><stop offset="0.0070" stop-color="#ffec9e"/><stop offset="0.0070" stop-color="#ffec9e"/><stop offset="0.0140" stop-color="#ffec9e"/><stop offset="0.0140" stop-color="#ffec9e"/><stop offset="0.0211" stop-color="#ffec9e"/><stop offset="0.0211" stop-color="#ffec9e"/><stop offset="0.0281" stop-color="#ffec9e"/><stop offset="0.0281" stop-color="#ffec9e"/><stop offset="0.0351" stop-color="#ffec9e"/><stop offset="0.0351" stop-color="#ffec9e"/><stop offset="0.0421" stop-color="#ffec9e"/><stop offset="0.0421" stop-color="#ffec9e"/><stop offset="0.0492" stop-color="#ffec9e"/><stop offset="0.0492" stop-color="#ffec9e"/><stop offset="0.0562" stop-color="#ffec9e"/><stop offset="0.0562" stop-color="#ffec9e"/><stop offset="0.0632" stop-color="#ffec9e"/><stop offset="0.0632" stop-color="#ffec9e"/><stop offset="0.0702" stop-color="#ffec9e"/><stop offset="0.0702" stop-color="#ffec9d"/><stop offset="0.0773" stop-color="#ffec9d"/><stop offset="0.0773" stop-color="#ffec9d"/><stop offset="0.0843" stop-color="#ffec9d"/><stop offset="0.0843" stop-color="#ffec9d"/><stop offset="0.0913" stop-color="#ffec9d"/><stop offset="0.0913" stop-color="#ffec9d"/><stop offset="0.0983" stop-color="#ffec9d"/><stop offset="0.0983" stop-color="#ffeb9d"/><stop offset="0.1054" stop-color="#ffeb9d"/><stop offset="0.1054" stop-color="#ffeb9c"/><stop offset="0.1124" stop-color="#ffeb9c"/><stop offset="0.1124" stop-color="#ffeb9c"/><stop offset="0.1194" stop-color="#ffeb9c"/><stop offset="0.1194" stop-color="#ffeb9c"/><stop offset="0.1264" stop-color="#ffeb9c"/><stop offset="0.1264" stop-color="#ffeb9c"/><stop offset="0.1335" stop-color="#ffeb9c"/><stop offset="0.1335" stop-color="#ffeb9b"/><stop offset="0.1405" stop-color="#ffeb9b"/><stop offset="0.1405" stop-color="#ffeb9b"/><stop offset="0.1475" stop-color="#ffeb9b"/><stop offset="0.1475" stop-color="#ffea9a"/><stop offset="0.1545" stop-color="#ffea9a"/><stop offset="0.1545" stop-color="#ffea9a"/><stop offset="0.1616" stop-color="#ffea9a"/><stop offset="0.1616" stop-color="#ffea99"/><stop offset="0.1686" stop-color="#ffea99"/><stop offset="0.1686" stop-color="#ffea99"/><stop offset="0.1756" stop-color="#ffea99"/><stop offset="0.1756" stop-color="#ffe998"/><stop offset="0.1826" stop-color="#ffe998"/><stop offset="0.1826" stop-color="#ffe997"/><stop offset="0.1897" stop-color="#ffe997"/><stop offset="0.1897" stop-color="#ffe896"/><stop offset="0.1967" stop-color="#ffe896"/><stop offset="0.1967" stop-color="#ffe896"/><stop offset="0.2037" stop-color="#ffe896"/><stop offset="0.2037" stop-color="#ffe894"/><stop offset="0.2107" stop-color="#ffe894"/><stop offset="0.2107" stop-color="#ffe793"/><stop offset="0.2178" stop-color="#ffe793"/><stop offset="0.2178" stop-color="#ffe692"/><stop offset="0.2248" stop-color="#ffe692"/><stop offset="0.2248" stop-color="#ffe691"/><stop offset="0.2318" stop-color="#ffe691"/><stop offset="0.2318" stop-color="#ffe58f"/><stop offset="0.2388" stop-color="#ffe58f"/><stop offset="0.2388" stop-color="#ffe48d"/><stop offset="0.2459" stop-color="#ffe48d"/><stop offset="0.2459" stop-color="#ffe38b"/><stop offset="0.2529" stop-color="#ffe38b"/><stop offset="0.2529" stop-color="#fee289"/><stop offset="0.2599" stop-color="#fee289"/><stop offset="0.2599" stop-color="#fee187"/><stop offset="0.2669" stop-color="#fee187"/><stop offset="0.2669" stop-color="#fee084"/><stop offset="0.2740" stop-color="#fee084"/><stop offset="0.2740" stop-color="#fede81"/><stop offset="0.2810" stop-color="#fede81"/><stop offset="0.2810" stop-color="#fedd7e"/><stop offset="0.2880" stop-color="#fedd7e"/><stop offset="0.2880" stop-color="#fedb7a"/><stop offset="0.2950" stop-color="#fedb7a"/><stop offset="0.2950" stop-color="#fed875"/><stop offset="0.3021" stop-color="#fed875"/><stop offset="0.3021" stop-color="#fed471"/><stop offset="0.3091" stop-color="#fed471"/><stop offset="0.3091" stop-color="#fecf6b"/><stop offset="0.3161" stop-color="#fecf6b"/><stop offset="0.3161" stop-color="#fec965"/><stop offset="0.3231" stop-color="#fec965"/><stop offset="0.3231" stop-color="#fec35e"/><stop offset="0.3302" stop-color="#fec35e"/><stop offset="0.3302" stop-color="#febc57"/><stop offset="0.3372" stop-color="#febc57"/><stop offset="0.3372" stop-color="#feb44e"/><stop offset="0.3442" stop-color="#feb44e"/><stop offset="0.3442" stop-color="#feac49"/><stop offset="0.3512" stop-color="#feac49"/><stop offset="0.3512" stop-color="#fea346"/><stop offset="0.3583" stop-color="#fea346"/><stop offset="0.3583" stop-color="#fd9a41"/><stop offset="0.3653" stop-color="#fd9a41"/><stop offset="0.3653" stop-color="#fd903d"/><stop offset="0.3723" stop-color="#fd903d"/><stop offset="0.3723" stop-color="#fd8139"/><stop offset="0.3793" stop-color="#fd8139"/><stop offset="0.3793" stop-color="#fd7034"/><stop offset="0.3864" stop-color="#fd7034"/><stop offset="0.3864" stop-color="#fc6130"/><stop offset="0.3934" stop-color="#fc6130"/><stop offset="0.3934" stop-color="#fc552c"/><stop offset="0.4004" stop-color="#fc552c"/><stop offset="0.4004" stop-color="#fb4d2a"/><stop offset="0.4074" stop-color="#fb4d2a"/><stop offset="0.4074" stop-color="#fa4929"/><stop offset="0.4145" stop-color="#fa4929"/><stop offset="0.4145" stop-color="#fb4c29"/><stop offset="0.4215" stop-color="#fb4c29"/><stop offset="0.4215" stop-color="#fc5b2e"/><stop offset="0.4285" stop-color="#fc5b2e"/><stop offset="0.4285" stop-color="#fd7335"/><stop offset="0.4355" stop-color="#fd7335"/><stop offset="0.4355" stop-color="#fd8f3d"/><stop offset="0.4426" stop-color="#fd8f3d"/><stop offset="0.4426" stop-color="#fea044"/><stop offset="0.4496" stop-color="#fea044"/><stop offset="0.4496" stop-color="#feaf4b"/><stop offset="0.4566" stop-color="#feaf4b"/><stop offset="0.4566" stop-color="#febd57"/><stop offset="0.4636" stop-color="#febd57"/><stop offset="0.4636" stop-color="#fec864"/><stop offset="0.4707" stop-color="#fec864"/><stop offset="0.4707" stop-color="#fed26f"/><stop offset="0.4777" stop-color="#fed26f"/><stop offset="0.4777" stop-color="#feda78"/><stop offset="0.4847" stop-color="#feda78"/><stop offset="0.4847" stop-color="#fedd7f"/><stop offset="0.4917" stop-color="#fedd7f"/><stop offset="0.4917" stop-color="#fee086"/><stop offset="0.4988" stop-color="#fee086"/><stop offset="0.4988" stop-color="#fee38b"/><stop offset="0.5058" stop-color="#fee38b"/><stop offset="0.5058" stop-color="#ffe58f"/><stop offset="0.5128" stop-color="#ffe58f"/><stop offset="0.5128" stop-color="#ffe793"/><stop offset="0.5198" stop-color="#ffe793"/><stop offset="0.5198" stop-color="#ffe896"/><stop offset="0.5269" stop-color="#ffe896"/><stop offset="0.5269" stop-color="#ffea99"/><stop offset="0.5339" stop-color="#ffea99"/><stop offset="0.5339" stop-color="#ffeb9c"/><stop offset="0.5409" stop-color="#ffeb9c"/><stop offset="0.5409" stop-color="#ffec9e"/><stop offset="0.5479" stop-color="#ffec9e"/><stop offset="0.5479" stop-color="#ffeda0"/><stop offset="0.5550" stop-color="#ffeda0"/><stop offset="0.5550" stop-color="#ffeea1"/><stop offset="0.5620" stop-color="#ffeea1"/><stop offset="0.5620" stop-color="#ffeea3"/><stop offset="0.5690" stop-color="#ffeea3"/><stop offset="0.5690" stop-color="#ffefa4"/><stop offset="0.5760" stop-color="#ffefa4"/><stop offset="0.5760" stop-color="#ffefa5"/><stop offset="0.5831" stop-color="#ffefa5"/><stop offset="0.5831" stop-color="#fff0a6"/><stop offset="0.5901" stop-color="#fff0a6"/><stop offset="0.5901" stop-color="#fff0a7"/><stop offset="0.5971" stop-color="#fff0a7"/><stop offset="0.5971" stop-color="#fff0a8"/><stop offset="0.6041" stop-color="#fff0a8"/><stop offset="0.6041" stop-color="#fff0a8"/><stop offset="0.6112" stop-color="#fff0a8"/><stop offset="0.6112" stop-color="#fff0a8"/><stop offset="0.6182" stop-color="#fff0a8"/><stop offset="0.6182" stop-color="#fff0a8"/><stop offset="0.6252" stop-color="#fff0a8"/><stop offset="0.6252" stop-color="#fff0a7"/><stop offset="0.6322" stop-color="#fff0a7"/><stop offset="0.6322" stop-color="#fff0a7"/><stop offset="0.6393" stop-color="#fff0a7"/><stop offset="0.6393" stop-color="#fff0a7"/><stop offset="0.6463" stop-color="#fff0a7"/><stop offset="0.6463" stop-color="#ffefa6"/><stop offset="0.6533" stop-color="#ffefa6"/><stop offset="0.6533" stop-color="#ffefa5"/><stop offset="0.6603" stop-color="#ffefa5"/><stop offset="0.6603" stop-color="#ffefa4"/><stop offset="0.6674" stop-color="#ffefa4"/><stop offset="0.6674" stop-color="#ffeea3"/><stop offset="0.6744" stop-color="#ffeea3"/><stop offset="0.6744" stop-color="#ffeda1"/><stop offset="0.6814" stop-color="#ffeda1"/><stop offset="0.6814" stop-color="#ffed9f"/><stop offset="0.6884" stop-color="#ffed9f"/><stop offset="0.6884" stop-color="#ffec9d"/><stop offset="0.6955" stop-color="#ffec9d"/><stop offset="0.6955" stop-color="#ffeb9b"/><stop offset="0.7025" stop-color="#ffeb9b"/><stop offset="0.7025" stop-color="#ffe998"/><stop offset="0.7095" stop-color="#ffe998"/><stop offset="0.7095" stop-color="#ffe794"/><stop offset="0.7165" stop-color="#ffe794"/><stop offset="0.7165" stop-color="#ffe590"/><stop offset="0.7236" stop-color="#ffe590"/><stop offset="0.7236" stop-color="#fee38b"/><stop offset="0.7306" stop-color="#fee38b"/><stop offset="0.7306" stop-color="#fee084"/><stop offset="0.7376" stop-color="#fee084"/><stop offset="0.7376" stop-color="#fedc7c"/><stop offset="0.7446" stop-color="#fedc7c"/><stop offset="0.7446" stop-color="#fed672"/><stop offset="0.7517" stop-color="#fed672"/><stop offset="0.7517" stop-color="#feca66"/><stop offset="0.7587" stop-color="#feca66"/><stop offset="0.7587" stop-color="#febb55"/><stop offset="0.7657" stop-color="#febb55"/><stop offset="0.7657" stop-color="#fea747"/><stop offset="0.7727" stop-color="#fea747"/><stop offset="0.7727" stop-color="#fd8f3d"/><stop offset="0.7798" stop-color="#fd8f3d"/><stop offset="0.7798" stop-color="#fc5a2d"/><stop offset="0.7868" stop-color="#fc5a2d"/><stop offset="0.7868" stop-color="#e51f1d"/><stop offset="0.7938" stop-color="#e51f1d"/><stop offset="0.7938" stop-color="#ad0026"/><stop offset="0.8008" stop-color="#ad0026"/><stop offset="0.8008" stop-color="#800026"/><stop offset="0.8079" stop-color="#800026"/><stop offset="0.8079" stop-color="#800026"/><stop offset="0.8149" stop-color="#800026"/><stop offset="0.8149" stop-color="#800026"/><stop offset="0.8219" stop-color="#800026"/><stop offset="0.8219" stop-color="#800026"/><stop offset="0.8289" stop-color="#800026"/><stop offset="0.8289" stop-color="#800026"/><stop offset="0.8360" stop-color="#800026"/><stop offset="0.8360" stop-color="#bd0026"/><stop offset="0.8430" stop-color="#bd0026"/><stop offset="0.8430" stop-color="#ed2e21"/><stop offset="0.8500" stop-color="#ed2e21"/><stop offset="0.8500" stop-color="#fc6d33"/><stop offset="0.8570" stop-color="#fc6d33"/><stop offset="0.8570" stop-color="#fd9941"/><stop offset="0.8641" stop-color="#fd9941"/><stop offset="0.8641" stop-color="#feb14b"/><stop offset="0.8711" stop-color="#feb14b"/><stop offset="0.8711" stop-color="#fec35e"/><stop offset="0.8781" stop-color="#fec35e"/><stop offset="0.8781" stop-color="#fed16e"/><stop offset="0.8851" stop-color="#fed16e"/><stop offset="0.8851" stop-color="#fedb79"/><stop offset="0.8922" stop-color="#fedb79"/><stop offset="0.8922" stop-color="#fedf82"/><stop offset="0.8992" stop-color="#fedf82"/><stop offset="0.8992" stop-color="#fee28a"/><stop offset="0.9062" stop-color="#fee28a"/><stop offset="0.9062" stop-color="#ffe58f"/><stop offset="0.9132" stop-color="#ffe58f"/><stop offset="0.9132" stop-color="#ffe794"/><stop offset="0.9203" stop-color="#ffe794"/><stop offset="0.9203" stop-color="#ffe998"/><stop offset="0.9273" stop-color="#ffe998"/><stop offset="0.9273" stop-color="#ffeb9c"/><stop offset="0.9343" stop-color="#ffeb9c"/><stop offset="0.9343" stop-color="#ffed9f"/><stop offset="0.9413" stop-color="#ffed9f"/><stop offset="0.9413" stop-color="#ffeea2"/><stop offset="0.9484" stop-color="#ffeea2"/><stop offset="0.9484" stop-color="#ffefa5"/><stop offset="0.9554" stop-color="#ffefa5"/><stop offset="0.9554" stop-color="#fff0a7"/><stop offset="0.9624" stop-color="#fff0a7"/><stop offset="0.9624" stop-color="#fff1a9"/><stop offset="0.9694" stop-color="#fff1a9"/><stop offset="0.9694" stop-color="#fff1ab"/><stop offset="0.9765" stop-color="#fff1ab"/><stop offset="0.9765" stop-color="#fff2ac"/><stop offset="0.9835" stop-color="#fff2ac"/><stop offset="0.9835" stop-color="#fff3ae"/><stop offset="0.9905" stop-color="#fff3ae"/><stop offset="0.9905" stop-color="#fff3af"/><stop offset="0.9975" stop-color="#fff3af"/><stop offset="0.9975" stop-color="#fff4b0"/><stop offset="1.0000" stop-color="#fff4b0"/></linearGradient>
<polygon points="1160.00,82.70 1202.70,82.70 1079.65,652.10 1051.40,652.10" fill="url(#g12)"/>
<linearGradient id="g13" gradientUnits="userSpaceOnUse" x1="0" y1="82.70" x2="0" y2="652.10"><stop offset="0.0000" stop-color="#ffeb9b"/><stop offset="0.0070" stop-color="#ffeb9b"/><stop offset="0.0070" stop-color="#ffeb9b"/><stop offset="0.0140" stop-color="#ffeb9b"/><stop offset="0.0140" stop-color="#ffeb9b"/><stop offset="0.0211" stop-color="#ffeb9b"/><stop offset="0.0211" stop-color="#ffeb9b"/><stop offset="0.0281" stop-color="#ffeb9b"/><stop offset="0.0281" stop-color="#ffeb9b"/><stop offset="0.0351" stop-color="#ffeb9b"/><stop offset="0.0351" stop-color="#ffeb9b"/><stop offset="0.0421" stop-color="#ffeb9b"/><stop offset="0.0421" stop-color="#ffeb9b"/><stop offset="0.0492" stop-color="#ffeb9b"/><stop offset="0.0492" stop-color="#ffeb9b"/><stop offset="0.0562" stop-color="#ffeb9b"/><stop offset="0.0562" stop-color="#ffea9b"/><stop offset="0.0632" stop-color="#ffea9b"/><stop offset="0.0632" stop-color="#ffea9b"/><stop offset="0.0702" stop-color="#ffea9b"/><stop offset="0.0702" stop-color="#ffea9a"/><stop offset="0.0773" stop-color="#ffea9a"/><stop offset="0.0773" stop-color="#ffea9a"/><stop offset="0.0843" stop-color="#ffea9a"/><stop offset="0.0843" stop-color="#ffea9a"/><stop offset="0.0913" stop-color="#ffea9a"/><stop offset="0.0913" stop-color="#ffea9a"/><stop offset="0.0983" stop-color="#ffea9a"/><stop offset="0.0983" stop-color="#ffea99"/><stop offset="0.1054" stop-color="#ffea99"/><stop offset="0.1054" stop-color="#ffea99"/><stop offset="0.1124" stop-color="#ffea99"/><stop offset="0.1124" stop-color="#ffea99"/><stop offset="0.1194" stop-color="#ffea99"/><stop offset="0.1194" stop-color="#ffe998"/><stop offset="0.1264" stop-color="#ffe998"/><stop offset="0.1264" stop-color="#ffe998"/><stop offset="0.1335" stop-color="#ffe998"/><stop offset="0.1335" stop-color="#ffe997"/><stop offset="0.1405" stop-color="#ffe997"/><stop offset="0.1405" stop-color="#ffe997"/><stop offset="0.1475" stop-color="#ffe997"/><stop offset="0.1475" stop-color="#ffe896"/><stop offset="0.1545" stop-color="#ffe896"/><stop offset="0.1545" stop-color="#ffe896"/><stop offset="0.1616" stop-color="#ffe896"/><stop offset="0.1616" stop-color="#ffe895"/><stop offset="0.1686" stop-color="#ffe895"/><stop offset="0.1686" stop-color="#ffe794"/><stop offset="0.1756" stop-color="#ffe794"/><stop offset="0.1756" stop-color="#ffe793"/><stop offset="0.1826" stop-color="#ffe793"/><stop offset="0.1826" stop-color="#ffe692"/><stop offset="0.1897" stop-color="#ffe692"/><stop offset="0.1897" stop-color="#ffe691"/><stop offset="0.1967" stop-color="#ffe691"/><stop offset="0.1967" stop-color="#ffe590"/><stop offset="0.2037" stop-color="#ffe590"/><stop offset="0.2037" stop-color="#ffe58e"/><stop offset="0.2107" stop-color="#ffe58e"/><stop offset="0.2107" stop-color="#ffe48d"/><stop offset="0.2178" stop-color="#ffe48d"/><stop offset="0.2178" stop-color="#fee38b"/><stop offset="0.2248" stop-color="#fee38b"/><stop offset="0.2248" stop-color="#fee289"/><stop offset="0.2318" stop-color="#fee289"/><stop offset="0.2318" stop-color="#fee187"/><stop offset="0.2388" stop-color="#fee187"/><stop offset="0.2388" stop-color="#fee085"/><stop offset="0.2459" stop-color="#fee085"/><stop offset="0.2459" stop-color="#fedf82"/><stop offset="0.2529" stop-color="#fedf82"/><stop offset="0.2529" stop-color="#fedd7f"/><stop offset="0.2599" stop-color="#fedd7f"/><stop offset="0.2599" stop-color="#fedc7c"/><stop offset="0.2669" stop-color="#fedc7c"/><stop offset="0.2669" stop-color="#feda78"/><stop offset="0.2740" stop-color="#feda78"/><stop offset="0.2740" stop-color="#fed774"/><stop offset="0.2810" stop-color="#fed774"/><stop offset="0.2810" stop-color="#fed36f"/><stop offset="0.2880" stop-color="#fed36f"/><stop offset="0.2880" stop-color="#fece6a"/><stop offset="0.2950" stop-color="#fece6a"/><stop offset="0.2950" stop-color="#fec864"/><stop offset="0.3021" stop-color="#fec864"/><stop offset="0.3021" stop-color="#fec25d"/><stop offset="0.3091" stop-color="#fec25d"/><stop offset="0.3091" stop-color="#febb56"/><stop offset="0.3161" stop-color="#febb56"/><stop offset="0.3161" stop-color="#feb44e"/><stop offset="0.3231" stop-color="#feb44e"/><stop offset="0.3231" stop-color="#feab49"/><stop offset="0.3302" stop-color="#feab49"/><stop offset="0.3302" stop-color="#fea245"/><stop offset="0.3372" stop-color="#fea245"/><stop offset="0.3372" stop-color="#fd9941"/><stop offset="0.3442" stop-color="#fd9941"/><stop offset="0.3442" stop-color="#fd8e3c"/><stop offset="0.3512" stop-color="#fd8e3c"/><stop offset="0.3512" stop-color="#fd7c37"/><stop offset="0.3583" stop-color="#fd7c37"/><stop offset="0.3583" stop-color="#fc6831"/><stop offset="0.3653" stop-color="#fc6831"/><stop offset="0.3653" stop-color="#fc542c"/><stop offset="0.3723" stop-color="#fc542c"/><stop offset="0.3723" stop-color="#f74427"/><stop offset="0.3793" stop-color="#f74427"/><stop offset="0.3793" stop-color="#f13724"/><stop offset="0.3864" stop-color="#f13724"/><stop offset="0.3864" stop-color="#ec2d21"/><stop offset="0.3934" stop-color="#ec2d21"/><stop offset="0.3934" stop-color="#e92720"/><stop offset="0.4004" stop-color="#e92720"/><stop offset="0.4004" stop-color="#e9261f"/><stop offset="0.4074" stop-color="#e9261f"/><stop offset="0.4074" stop-color="#ed2f22"/><stop offset="0.4145" stop-color="#ed2f22"/><stop offset="0.4145" stop-color="#f64227"/><stop offset="0.4215" stop-color="#f64227"/><stop offset="0.4215" stop-color="#fc5e2f"/><stop offset="0.4285" stop-color="#fc5e2f"/><stop offset="0.4285" stop-color="#fd7f38"/><stop offset="0.4355" stop-color="#fd7f38"/><stop offset="0.4355" stop-color="#fd9740"/><stop offset="0.4426" stop-color="#fd9740"/><stop offset="0.4426" stop-color="#fea747"/><stop offset="0.4496" stop-color="#fea747"/><stop offset="0.4496" stop-color="#feb550"/><stop offset="0.4566" stop-color="#feb550"/><stop offset="0.4566" stop-color="#fec25d"/><stop offset="0.4636" stop-color="#fec25d"/><stop offset="0.4636" stop-color="#fecc68"/><stop offset="0.4707" stop-color="#fecc68"/><stop offset="0.4707" stop-color="#fed572"/><stop offset="0.4777" stop-color="#fed572"/><stop offset="0.4777" stop-color="#fedb79"/><stop offset="0.4847" stop-color="#fedb79"/><stop offset="0.4847" stop-color="#fede80"/><stop offset="0.4917" stop-color="#fede80"/><stop offset="0.4917" stop-color="#fee186"/><stop offset="0.4988" stop-color="#fee186"/><stop offset="0.4988" stop-color="#fee38b"/><stop offset="0.5058" stop-color="#fee38b"/><stop offset="0.5058" stop-color="#ffe58f"/><stop offset="0.5128" stop-color="#ffe58f"/><stop offset="0.5128" stop-color="#ffe692"/><stop offset="0.5198" stop-color="#ffe692"/><stop offset="0.5198" stop-color="#ffe895"/><stop offset="0.5269" stop-color="#ffe895"/><stop offset="0.5269" stop-color="#ffe998"/><stop offset="0.5339" stop-color="#ffe998"/><stop offset="0.5339" stop-color="#ffea9a"/><stop offset="0.5409" stop-color="#ffea9a"/><stop offset="0.5409" stop-color="#ffeb9c"/><stop offset="0.5479" stop-color="#ffeb9c"/><stop offset="0.5479" stop-color="#ffec9e"/><stop offset="0.5550" stop-color="#ffec9e"/><stop offset="0.5550" stop-color="#ffeda0"/><stop offset="0.5620" stop-color="#ffeda0"/><stop offset="0.5620" stop-color="#ffeda1"/><stop offset="0.5690" stop-color="#ffeda1"/><stop offset="0.5690" stop-color="#ffeea2"/><stop offset="0.5760" stop-color="#ffeea2"/><stop offset="0.5760" stop-color="#ffeea3"/><stop offset="0.5831" stop-color="#ffeea3"/><stop offset="0.5831" stop-color="#ffefa4"/><stop offset="0.5901" stop-color="#ffefa4"/><stop offset="0.5901" stop-color="#ffefa5"/><stop offset="0.5971" stop-color="#ffefa5"/><stop offset="0.5971" stop-color="#ffefa5"/><stop offset="0.6041" stop-color="#ffefa5"/><stop offset="0.6041" stop-color="#ffefa5"/><stop offset="0.6112" stop-color="#ffefa5"/><stop offset="0.6112" stop-color="#ffefa5"/><stop offset="0.6182" stop-color="#ffefa5"/><stop offset="0.6182" stop-color="#ffefa5"/><stop offset="0.6252" stop-color="#ffefa5"/><stop offset="0.6252" stop-color="#ffefa5"/><stop offset="0.6322" stop-color="#ffefa5"/><stop offset="0.6322" stop-color="#ffefa4"/><stop offset="0.6393" stop-color="#ffefa4"/><stop offset="0.6393" stop-color="#ffeea3"/><stop offset="0.6463" stop-color="#ffeea3"/><stop offset="0.6463" stop-color="#ffeea2"/><stop offset="0.6533" stop-color="#ffeea2"/><stop offset="0.6533" stop-color="#ffeda1"/><stop offset="0.6603" stop-color="#ffeda1"/><stop offset="0.6603" stop-color="#ffed9f"/><stop offset="0.6674" stop-color="#ffed9f"/><stop offset="0.6674" stop-color="#ffec9e"/><stop offset="0.6744" stop-color="#ffec9e"/><stop offset="0.6744" stop-color="#ffeb9c"/><stop offset="0.6814" stop-color="#ffeb9c"/><stop offset="0.6814" stop-color="#ffea99"/><stop offset="0.6884" stop-color="#ffea99"/><stop offset="0.6884" stop-color="#ffe897"/><stop offset="0.6955" stop-color="#ffe897"/><stop offset="0.6955" stop-color="#ffe793"/><stop offset="0.7025" stop-color="#ffe793"/><stop offset="0.7025" stop-color="#ffe58f"/><stop offset="0.7095" stop-color="#ffe58f"/><stop offset="0.7095" stop-color="#fee28a"/><stop offset="0.7165" stop-color="#fee28a"/><stop offset="0.7165" stop-color="#fee084"/><stop offset="0.7236" stop-color="#fee084"/><stop offset="0.7236" stop-color="#fedc7c"/><stop offset="0.7306" stop-color="#fedc7c"/><stop offset="0.7306" stop-color="#fed672"/><stop offset="0.7376" stop-color="#fed672"/><stop offset="0.7376" stop-color="#feca66"/><stop offset="0.7446" stop-color="#feca66"/><stop offset="0.7446" stop-color="#febc57"/><stop offset="0.7517" stop-color="#febc57"/><stop offset="0.7517" stop-color="#feaa49"/><stop offset="0.7587" stop-color="#feaa49"/><stop offset="0.7587" stop-color="#fd933f"/><stop offset="0.7657" stop-color="#fd933f"/><stop offset="0.7657" stop-color="#fc6631"/><stop offset="0.7727" stop-color="#fc6631"/><stop offset="0.7727" stop-color="#ec2c21"/><stop offset="0.7798" stop-color="#ec2c21"/><stop offset="0.7798" stop-color="#c10325"/><stop offset="0.7868" stop-color="#c10325"/><stop offset="0.7868" stop-color="#800026"/><stop offset="0.7938" stop-color="#800026"/><stop offset="0.7938" stop-color="#800026"/><stop offset="0.8008" stop-color="#800026"/><stop offset="0.8008" stop-color="#800026"/><stop offset="0.8079" stop-color="#800026"/><stop offset="0.8079" stop-color="#800026"/><stop offset="0.8149" stop-color="#800026"/><stop offset="0.8149" stop-color="#800026"/><stop offset="0.8219" stop-color="#800026"/><stop offset="0.8219" stop-color="#940026"/><stop offset="0.8289" stop-color="#940026"/><stop offset="0.8289" stop-color="#db141e"/><stop offset="0.8360" stop-color="#db141e"/><stop offset="0.8360" stop-color="#fc4d2a"/><stop offset="0.8430" stop-color="#fc4d2a"/><stop offset="0.8430" stop-color="#fd893b"/><stop offset="0.8500" stop-color="#fd893b"/><stop offset="0.8500" stop-color="#fea546"/><stop offset="0.8570" stop-color="#fea546"/><stop offset="0.8570" stop-color="#feb953"/><stop offset="0.8641" stop-color="#feb953"/><stop offset="0.8641" stop-color="#fec965"/><stop offset="0.8711" stop-color="#fec965"/><stop offset="0.8711" stop-color="#fed572"/><stop offset="0.8781" stop-color="#fed572"/><stop offset="0.8781" stop-color="#fedc7c"/><stop offset="0.8851" stop-color="#fedc7c"/><stop offset="0.8851" stop-color="#fee085"/><stop offset="0.8922" stop-color="#fee085"/><stop offset="0.8922" stop-color="#ffe38b"/><stop offset="0.8992" stop-color="#ffe38b"/><stop offset="0.8992" stop-color="#ffe690"/><stop offset="0.9062" stop-color="#ffe690"/><stop offset="0.9062" stop-color="#ffe895"/><stop offset="0.9132" stop-color="#ffe895"/><stop offset="0.9132" stop-color="#ffe998"/><stop offset="0.9203" stop-color="#ffe998"/><stop offset="0.9203" stop-color="#ffeb9c"/><stop offset="0.9273" stop-color="#ffeb9c"/><stop offset="0.9273" stop-color="#ffed9f"/><stop offset="0.9343" stop-color="#ffed9f"/><stop offset="0.9343" stop-color="#ffeea2"/><stop offset="0.9413" stop-color="#ffeea2"/><stop offset="0.9413" stop-color="#ffefa4"/><stop offset="0.9484" stop-color="#ffefa4"/><stop offset="0.9484" stop-color="#fff0a6"/><stop offset="0.9554" stop-color="#fff0a6"/><stop offset="0.9554" stop-color="#fff0a8"/><stop offset="0.9624" stop-color="#fff0a8"/><stop offset="0.9624" stop-color="#fff1aa"/><stop offset="0.9694" stop-color="#fff1aa"/><stop offset="0.9694" stop-color="#fff2ac"/><stop offset="0.9765" stop-color="#fff2ac"/><stop offset="0.9765" stop-color="#fff2ad"/><stop offset="0.9835" stop-color="#fff2ad"/><stop offset="0.9835" stop-color="#fff3ae"/><stop offset="0.9905" stop-color="#fff3ae"/><stop offset="0.9905" stop-color="#fff3b0"/><stop offset="0.9975" stop-color="#fff3b0"/><stop offset="0.9975" stop-color="#fff4b0"/><stop offset="1.0000" stop-color="#fff4b0"/></linearGradient>
<polygon points="1201.90,82.70 1241.88,82.70 1105.32,652.10 1078.85,652.10" fill="url(#g13)"/>
<linearGradient id="g14" gradientUnits="userSpaceOnUse" x1="0" y1="82.70" x2="0" y2="652.10"><stop offset="0.0000" stop-color="#ffe998"/><stop offset="0.0070" stop-color="#ffe998"/><stop offset="0.0070" stop-color="#ffe998"/><stop offset="0.0140" stop-color="#ffe998"/><stop offset="0.0140" stop-color="#ffe998"/><stop offset="0.0211" stop-color="#ffe998"/><stop offset="0.0211" stop-color="#ffe998"/><stop offset="0.0281" stop-color="#ffe998"/><stop offset="0.0281" stop-color="#ffe998"/><stop offset="0.0351" stop-color="#ffe998"/><stop offset="0.0351" stop-color="#ffe998"/><stop offset="0.0421" stop-color="#ffe998"/><stop offset="0.0421" stop-color="#ffe998"/><stop offset="0.0492" stop-color="#ffe998"/><stop offset="0.0492" stop-color="#ffe997"/><stop offset="0.0562" stop-color="#ffe997"/><stop offset="0.0562" stop-color="#ffe997"/><stop offset="0.0632" stop-color="#ffe997"/><stop offset="0.0632" stop-color="#ffe997"/><stop offset="0.0702" stop-color="#ffe997"/><stop offset="0.0702" stop-color="#ffe997"/><stop offset="0.0773" stop-color="#ffe997"/><stop offset="0.0773" stop-color="#ffe896"/><stop offset="0.0843" stop-color="#ffe896"/><stop offset="0.0843" stop-color="#ffe896"/><stop offset="0.0913" stop-color="#ffe896"/><stop offset="0.0913" stop-color="#ffe896"/><stop offset="0.0983" stop-color="#ffe896"/><stop offset="0.0983" stop-color="#ffe895"/><stop offset="0.1054" stop-color="#ffe895"/><stop offset="0.1054" stop-color="#ffe895"/><stop offset="0.1124" stop-color="#ffe895"/><stop offset="0.1124" stop-color="#ffe794"/><stop offset="0.1194" stop-color="#ffe794"/><stop offset="0.1194" stop-color="#ffe794"/><stop offset="0.1264" stop-color="#ffe794"/><stop offset="0.1264" stop-color="#ffe793"/><stop offset="0.1335" stop-color="#ffe793"/><stop offset="0.1335" stop-color="#ffe793"/><stop offset="0.1405" stop-color="#ffe793"/><stop offset="0.1405" stop-color="#ffe692"/><stop offset="0.1475" stop-color="#ffe692"/><stop offset="0.1475" stop-color="#ffe691"/><stop offset="0.1545" stop-color="#ffe691"/><stop offset="0.1545" stop-color="#ffe590"/><stop offset="0.1616" stop-color="#ffe590"/><stop offset="0.1616" stop-color="#ffe58f"/><stop offset="0.1686" stop-color="#ffe58f"/><stop offset="0.1686" stop-color="#ffe48e"/><stop offset="0.1756" stop-color="#ffe48e"/><stop offset="0.1756" stop-color="#ffe48d"/><stop offset="0.1826" stop-color="#ffe48d"/><stop offset="0.1826" stop-color="#ffe38b"/><stop offset="0.1897" stop-color="#ffe38b"/><stop offset="0.1897" stop-color="#fee28a"/><stop offset="0.1967" stop-color="#fee28a"/><stop offset="0.1967" stop-color="#fee288"/><stop offset="0.2037" stop-color="#fee288"/><stop offset="0.2037" stop-color="#fee186"/><stop offset="0.2107" stop-color="#fee186"/><stop offset="0.2107" stop-color="#fee084"/><stop offset="0.2178" stop-color="#fee084"/><stop offset="0.2178" stop-color="#fedf82"/><stop offset="0.2248" stop-color="#fedf82"/><stop offset="0.2248" stop-color="#fedd7f"/><stop offset="0.2318" stop-color="#fedd7f"/><stop offset="0.2318" stop-color="#fedc7c"/><stop offset="0.2388" stop-color="#fedc7c"/><stop offset="0.2388" stop-color="#fedb79"/><stop offset="0.2459" stop-color="#fedb79"/><stop offset="0.2459" stop-color="#fed976"/><stop offset="0.2529" stop-color="#fed976"/><stop offset="0.2529" stop-color="#fed572"/><stop offset="0.2599" stop-color="#fed572"/><stop offset="0.2599" stop-color="#fed16d"/><stop offset="0.2669" stop-color="#fed16d"/><stop offset="0.2669" stop-color="#fecc68"/><stop offset="0.2740" stop-color="#fecc68"/><stop offset="0.2740" stop-color="#fec763"/><stop offset="0.2810" stop-color="#fec763"/><stop offset="0.2810" stop-color="#fec15c"/><stop offset="0.2880" stop-color="#fec15c"/><stop offset="0.2880" stop-color="#febb55"/><stop offset="0.2950" stop-color="#febb55"/><stop offset="0.2950" stop-color="#feb34d"/><stop offset="0.3021" stop-color="#feb34d"/><stop offset="0.3021" stop-color="#feab49"/><stop offset="0.3091" stop-color="#feab49"/><stop offset="0.3091" stop-color="#fea245"/><stop offset="0.3161" stop-color="#fea245"/><stop offset="0.3161" stop-color="#fd9941"/><stop offset="0.3231" stop-color="#fd9941"/><stop offset="0.3231" stop-color="#fd8e3c"/><stop offset="0.3302" stop-color="#fd8e3c"/><stop offset="0.3302" stop-color="#fd7a37"/><stop offset="0.3372" stop-color="#fd7a37"/><stop offset="0.3372" stop-color="#fc6430"/><stop offset="0.3442" stop-color="#fc6430"/><stop offset="0.3442" stop-color="#fc4e2a"/><stop offset="0.3512" stop-color="#fc4e2a"/><stop offset="0.3512" stop-color="#f23a25"/><stop offset="0.3583" stop-color="#f23a25"/><stop offset="0.3583" stop-color="#e92720"/><stop offset="0.3653" stop-color="#e92720"/><stop offset="0.3653" stop-color="#e0181d"/><stop offset="0.3723" stop-color="#e0181d"/><stop offset="0.3723" stop-color="#d51020"/><stop offset="0.3793" stop-color="#d51020"/><stop offset="0.3793" stop-color="#cd0b22"/><stop offset="0.3864" stop-color="#cd0b22"/><stop offset="0.3864" stop-color="#c80823"/><stop offset="0.3934" stop-color="#c80823"/><stop offset="0.3934" stop-color="#c80823"/><stop offset="0.4004" stop-color="#c80823"/><stop offset="0.4004" stop-color="#d20e21"/><stop offset="0.4074" stop-color="#d20e21"/><stop offset="0.4074" stop-color="#e31a1c"/><stop offset="0.4145" stop-color="#e31a1c"/><stop offset="0.4145" stop-color="#f13824"/><stop offset="0.4215" stop-color="#f13824"/><stop offset="0.4215" stop-color="#fc592d"/><stop offset="0.4285" stop-color="#fc592d"/><stop offset="0.4285" stop-color="#fd7c37"/><stop offset="0.4355" stop-color="#fd7c37"/><stop offset="0.4355" stop-color="#fd9640"/><stop offset="0.4426" stop-color="#fd9640"/><stop offset="0.4426" stop-color="#fea647"/><stop offset="0.4496" stop-color="#fea647"/><stop offset="0.4496" stop-color="#feb44e"/><stop offset="0.4566" stop-color="#feb44e"/><stop offset="0.4566" stop-color="#fec05b"/><stop offset="0.4636" stop-color="#fec05b"/><stop offset="0.4636" stop-color="#feca66"/><stop offset="0.4707" stop-color="#feca66"/><stop offset="0.4707" stop-color="#fed26f"/><stop offset="0.4777" stop-color="#fed26f"/><stop offset="0.4777" stop-color="#fed976"/><stop offset="0.4847" stop-color="#fed976"/><stop offset="0.4847" stop-color="#fedc7d"/><stop offset="0.4917" stop-color="#fedc7d"/><stop offset="0.4917" stop-color="#fedf83"/><stop offset="0.4988" stop-color="#fedf83"/><stop offset="0.4988" stop-color="#fee187"/><stop offset="0.5058" stop-color="#fee187"/><stop offset="0.5058" stop-color="#ffe38b"/><stop offset="0.5128" stop-color="#ffe38b"/><stop offset="0.5128" stop-color="#ffe58f"/><stop offset="0.5198" stop-color="#ffe58f"/><stop offset="0.5198" stop-color="#ffe692"/><stop offset="0.5269" stop-color="#ffe692"/><stop offset="0.5269" stop-color="#ffe895"/><stop offset="0.5339" stop-color="#ffe895"/><stop offset="0.5339" stop-color="#ffe997"/><stop offset="0.5409" stop-color="#ffe997"/><stop offset="0.5409" stop-color="#ffea99"/><stop offset="0.5479" stop-color="#ffea99"/><stop offset="0.5479" stop-color="#ffeb9b"/><stop offset="0.5550" stop-color="#ffeb9b"/><stop offset="0.5550" stop-color="#ffeb9c"/><stop offset="0.5620" stop-color="#ffeb9c"/><stop offset="0.5620" stop-color="#ffec9e"/><stop offset="0.5690" stop-color="#ffec9e"/><stop offset="0.5690" stop-color="#ffec9f"/><stop offset="0.5760" stop-color="#ffec9f"/><stop offset="0.5760" stop-color="#ffeda0"/><stop offset="0.5831" stop-color="#ffeda0"/><stop offset="0.5831" stop-color="#ffeda1"/><stop offset="0.5901" stop-color="#ffeda1"/><stop offset="0.5901" stop-color="#ffeea1"/><stop offset="0.5971" stop-color="#ffeea1"/><stop offset="0.5971" stop-color="#ffeea2"/><stop offset="0.6041" stop-color="#ffeea2"/><stop offset="0.6041" stop-color="#ffeea1"/><stop offset="0.6112" stop-color="#ffeea1"/><stop offset="0.6112" stop-color="#ffeda1"/><stop offset="0.6182" stop-color="#ffeda1"/><stop offset="0.6182" stop-color="#ffeda1"/><stop offset="0.6252" stop-color="#ffeda1"/><stop offset="0.6252" stop-color="#ffeda0"/><stop offset="0.6322" stop-color="#ffeda0"/><stop offset="0.6322" stop-color="#ffec9f"/><stop offset="0.6393" stop-color="#ffec9f"/><stop offset="0.6393" stop-color="#ffec9e"/><stop offset="0.6463" stop-color="#ffec9e"/><stop offset="0.6463" stop-color="#ffeb9c"/><stop offset="0.6533" stop-color="#ffeb9c"/><stop offset="0.6533" stop-color="#ffea9b"/><stop offset="0.6603" stop-color="#ffea9b"/><stop offset="0.6603" stop-color="#ffe999"/><stop offset="0.6674" stop-color="#ffe999"/><stop offset="0.6674" stop-color="#ffe896"/><stop offset="0.6744" stop-color="#ffe896"/><stop offset="0.6744" stop-color="#ffe793"/><stop offset="0.6814" stop-color="#ffe793"/><stop offset="0.6814" stop-color="#ffe58f"/><stop offset="0.6884" stop-color="#ffe58f"/><stop offset="0.6884" stop-color="#fee38b"/><stop offset="0.6955" stop-color="#fee38b"/><stop offset="0.6955" stop-color="#fee085"/><stop offset="0.7025" stop-color="#fee085"/><stop offset="0.7025" stop-color="#fedd7f"/><stop offset="0.7095" stop-color="#fedd7f"/><stop offset="0.7095" stop-color="#fed977"/><stop offset="0.7165" stop-color="#fed977"/><stop offset="0.7165" stop-color="#fed06c"/><stop offset="0.7236" stop-color="#fed06c"/><stop offset="0.7236" stop-color="#fec45f"/><stop offset="0.7306" stop-color="#fec45f"/><stop offset="0.7306" stop-color="#feb54f"/><stop offset="0.7376" stop-color="#feb54f"/><stop offset="0.7376" stop-color="#fea245"/><stop offset="0.7446" stop-color="#fea245"/><stop offset="0.7446" stop-color="#fd873a"/><stop offset="0.7517" stop-color="#fd873a"/><stop offset="0.7517" stop-color="#fc532b"/><stop offset="0.7587" stop-color="#fc532b"/><stop offset="0.7587" stop-color="#e31b1c"/><stop offset="0.7657" stop-color="#e31b1c"/><stop offset="0.7657" stop-color="#ad0026"/><stop offset="0.7727" stop-color="#ad0026"/><stop offset="0.7727" stop-color="#800026"/><stop offset="0.7798" stop-color="#800026"/><stop offset="0.7798" stop-color="#800026"/><stop offset="0.7868" stop-color="#800026"/><stop offset="0.7868" stop-color="#800026"/><stop offset="0.7938" stop-color="#800026"/><stop offset="0.7938" stop-color="#800026"/><stop offset="0.8008" stop-color="#800026"/><stop offset="0.8008" stop-color="#800026"/><stop offset="0.8079" stop-color="#800026"/><stop offset="0.8079" stop-color="#9b0026"/><stop offset="0.8149" stop-color="#9b0026"/><stop offset="0.8149" stop-color="#dd161e"/><stop offset="0.8219" stop-color="#dd161e"/><stop offset="0.8219" stop-color="#fc4f2a"/><stop offset="0.8289" stop-color="#fc4f2a"/><stop offset="0.8289" stop-color="#fd883b"/><stop offset="0.8360" stop-color="#fd883b"/><stop offset="0.8360" stop-color="#fea446"/><stop offset="0.8430" stop-color="#fea446"/><stop offset="0.8430" stop-color="#feb852"/><stop offset="0.8500" stop-color="#feb852"/><stop offset="0.8500" stop-color="#fec763"/><stop offset="0.8570" stop-color="#fec763"/><stop offset="0.8570" stop-color="#fed470"/><stop offset="0.8641" stop-color="#fed470"/><stop offset="0.8641" stop-color="#fedb7b"/><stop offset="0.8711" stop-color="#fedb7b"/><stop offset="0.8711" stop-color="#fedf83"/><stop offset="0.8781" stop-color="#fedf83"/><stop offset="0.8781" stop-color="#fee28a"/><stop offset="0.8851" stop-color="#fee28a"/><stop offset="0.8851" stop-color="#ffe58f"/><stop offset="0.8922" stop-color="#ffe58f"/><stop offset="0.8922" stop-color="#ffe794"/><stop offset="0.8992" stop-color="#ffe794"/><stop offset="0.8992" stop-color="#ffe997"/><stop offset="0.9062" stop-color="#ffe997"/><stop offset="0.9062" stop-color="#ffea9a"/><stop offset="0.9132" stop-color="#ffea9a"/><stop offset="0.9132" stop-color="#ffec9d"/><stop offset="0.9203" stop-color="#ffec9d"/><stop offset="0.9203" stop-color="#ffeda0"/><stop offset="0.9273" stop-color="#ffeda0"/><stop offset="0.9273" stop-color="#ffeea2"/><stop offset="0.9343" stop-color="#ffeea2"/><stop offset="0.9343" stop-color="#ffefa4"/><stop offset="0.9413" stop-color="#ffefa4"/><stop offset="0.9413" stop-color="#fff0a6"/><stop offset="0.9484" stop-color="#fff0a6"/><stop offset="0.9484" stop-color="#fff0a8"/><stop offset="0.9554" stop-color="#fff0a8"/><stop offset="0.9554" stop-color="#fff1aa"/><stop offset="0.9624" stop-color="#fff1aa"/><stop offset="0.9624" stop-color="#fff2ab"/><stop offset="0.9694" stop-color="#fff2ab"/><stop offset="0.9694" stop-color="#fff2ad"/><stop offset="0.9765" stop-color="#fff2ad"/><stop offset="0.9765" stop-color="#fff3ae"/><stop offset="0.9835" stop-color="#fff3ae"/><stop offset="0.9835" stop-color="#fff3af"/><stop offset="0.9905" stop-color="#fff3af"/><stop offset="0.9905" stop-color="#fff4b0"/><stop offset="0.9975" stop-color="#fff4b0"/><stop offset="0.9975" stop-color="#fff4b1"/><stop offset="1.0000" stop-color="#fff4b1"/></linearGradient>
<polygon points="1241.08,82.70 1278.04,82.70 1129.02,652.10 1104.52,652.10" fill="url(#g14)"/>
<linearGradient id="g15" gradientUnits="userSpaceOnUse" x1="0" y1="82.70" x2="0" y2="652.10"><stop offset="0.0000" stop-color="#ffe895"/><stop offset="0.0070" stop-color="#ffe895"/><stop offset="0.0070" stop-color="#ffe895"/><stop offset="0.0140" stop-color="#ffe895"/><stop offset="0.0140" stop-color="#ffe895"/><stop offset="0.0211" stop-color="#ffe895"/><stop offset="0.0211" stop-color="#ffe794"/><stop offset="0.0281" stop-color="#ffe794"/><stop offset="0.0281" stop-color="#ffe794"/><stop offset="0.0351" stop-color="#ffe794"/><stop offset="0.0351" stop-color="#ffe794"/><stop offset="0.0421" stop-color="#ffe794"/><stop offset="0.0421" stop-color="#ffe794"/><stop offset="0.0492" stop-color="#ffe794"/><stop offset="0.0492" stop-color="#ffe794"/><stop offset="0.0562" stop-color="#ffe794"/><stop offset="0.0562" stop-color="#ffe793"/><stop offset="0.0632" stop-color="#ffe793"/><stop offset="0.0632" stop-color="#ffe793"/><stop offset="0.0702" stop-color="#ffe793"/><stop offset="0.0702" stop-color="#ffe792"/><stop offset="0.0773" stop-color="#ffe792"/><stop offset="0.0773" stop-color="#ffe692"/><stop offset="0.0843" stop-color="#ffe692"/><stop offset="0.0843" stop-color="#ffe692"/><stop offset="0.0913" stop-color="#ffe692"/><stop offset="0.0913" stop-color="#ffe691"/><stop offset="0.0983" stop-color="#ffe691"/><stop offset="0.0983" stop-color="#ffe691"/><stop offset="0.1054" stop-color="#ffe691"/><stop offset="0.1054" stop-color="#ffe590"/><stop offset="0.1124" stop-color="#ffe590"/><stop offset="0.1124" stop-color="#ffe58f"/><stop offset="0.1194" stop-color="#ffe58f"/><stop offset="0.1194" stop-color="#ffe58e"/><stop offset="0.1264" stop-color="#ffe58e"/><stop offset="0.1264" stop-color="#ffe48e"/><stop offset="0.1335" stop-color="#ffe48e"/><stop offset="0.1335" stop-color="#ffe48d"/><stop offset="0.1405" stop-color="#ffe48d"/><stop offset="0.1405" stop-color="#ffe38c"/><stop offset="0.1475" stop-color="#ffe38c"/><stop offset="0.1475" stop-color="#fee38a"/><stop offset="0.1545" stop-color="#fee38a"/><stop offset="0.1545" stop-color="#fee289"/><stop offset="0.1616" stop-color="#fee289"/><stop offset="0.1616" stop-color="#fee188"/><stop offset="0.1686" stop-color="#fee188"/><stop offset="0.1686" stop-color="#fee186"/><stop offset="0.1756" stop-color="#fee186"/><stop offset="0.1756" stop-color="#fee085"/><stop offset="0.1826" stop-color="#fee085"/><stop offset="0.1826" stop-color="#fedf83"/><stop offset="0.1897" stop-color="#fedf83"/><stop offset="0.1897" stop-color="#fede81"/><stop offset="0.1967" stop-color="#fede81"/><stop offset="0.1967" stop-color="#fedd7e"/><stop offset="0.2037" stop-color="#fedd7e"/><stop offset="0.2037" stop-color="#fedc7c"/><stop offset="0.2107" stop-color="#fedc7c"/><stop offset="0.2107" stop-color="#feda79"/><stop offset="0.2178" stop-color="#feda79"/><stop offset="0.2178" stop-color="#fed975"/><stop offset="0.2248" stop-color="#fed975"/><stop offset="0.2248" stop-color="#fed572"/><stop offset="0.2318" stop-color="#fed572"/><stop offset="0.2318" stop-color="#fed16e"/><stop offset="0.2388" stop-color="#fed16e"/><stop offset="0.2388" stop-color="#fecd69"/><stop offset="0.2459" stop-color="#fecd69"/><stop offset="0.2459" stop-color="#fec964"/><stop offset="0.2529" stop-color="#fec964"/><stop offset="0.2529" stop-color="#fec35f"/><stop offset="0.2599" stop-color="#fec35f"/><stop offset="0.2599" stop-color="#febd58"/><stop offset="0.2669" stop-color="#febd58"/><stop offset="0.2669" stop-color="#feb751"/><stop offset="0.2740" stop-color="#feb751"/><stop offset="0.2740" stop-color="#feaf4b"/><stop offset="0.2810" stop-color="#feaf4b"/><stop offset="0.2810" stop-color="#fea847"/><stop offset="0.2880" stop-color="#fea847"/><stop offset="0.2880" stop-color="#fd9f44"/><stop offset="0.2950" stop-color="#fd9f44"/><stop offset="0.2950" stop-color="#fd953f"/><stop offset="0.3021" stop-color="#fd953f"/><stop offset="0.3021" stop-color="#fd873a"/><stop offset="0.3091" stop-color="#fd873a"/><stop offset="0.3091" stop-color="#fd7234"/><stop offset="0.3161" stop-color="#fd7234"/><stop offset="0.3161" stop-color="#fc5b2e"/><stop offset="0.3231" stop-color="#fc5b2e"/><stop offset="0.3231" stop-color="#f74427"/><stop offset="0.3302" stop-color="#f74427"/><stop offset="0.3302" stop-color="#ed2f22"/><stop offset="0.3372" stop-color="#ed2f22"/><stop offset="0.3372" stop-color="#e2191c"/><stop offset="0.3442" stop-color="#e2191c"/><stop offset="0.3442" stop-color="#d10e21"/><stop offset="0.3512" stop-color="#d10e21"/><stop offset="0.3512" stop-color="#c20425"/><stop offset="0.3583" stop-color="#c20425"/><stop offset="0.3583" stop-color="#b00026"/><stop offset="0.3653" stop-color="#b00026"/><stop offset="0.3653" stop-color="#a00026"/><stop offset="0.3723" stop-color="#a00026"/><stop offset="0.3723" stop-color="#960026"/><stop offset="0.3793" stop-color="#960026"/><stop offset="0.3793" stop-color="#940026"/><stop offset="0.3864" stop-color="#940026"/><stop offset="0.3864" stop-color="#a10026"/><stop offset="0.3934" stop-color="#a10026"/><stop offset="0.3934" stop-color="#be0126"/><stop offset="0.4004" stop-color="#be0126"/><stop offset="0.4004" stop-color="#d61120"/><stop offset="0.4074" stop-color="#d61120"/><stop offset="0.4074" stop-color="#eb2b21"/><stop offset="0.4145" stop-color="#eb2b21"/><stop offset="0.4145" stop-color="#fb4d2a"/><stop offset="0.4215" stop-color="#fb4d2a"/><stop offset="0.4215" stop-color="#fd7234"/><stop offset="0.4285" stop-color="#fd7234"/><stop offset="0.4285" stop-color="#fd903e"/><stop offset="0.4355" stop-color="#fd903e"/><stop offset="0.4355" stop-color="#fea145"/><stop offset="0.4426" stop-color="#fea145"/><stop offset="0.4426" stop-color="#feaf4b"/><stop offset="0.4496" stop-color="#feaf4b"/><stop offset="0.4496" stop-color="#febb55"/><stop offset="0.4566" stop-color="#febb55"/><stop offset="0.4566" stop-color="#fec560"/><stop offset="0.4636" stop-color="#fec560"/><stop offset="0.4636" stop-color="#fecd69"/><stop offset="0.4707" stop-color="#fecd69"/><stop offset="0.4707" stop-color="#fed471"/><stop offset="0.4777" stop-color="#fed471"/><stop offset="0.4777" stop-color="#feda78"/><stop offset="0.4847" stop-color="#feda78"/><stop offset="0.4847" stop-color="#fedd7e"/><stop offset="0.4917" stop-color="#fedd7e"/><stop offset="0.4917" stop-color="#fedf83"/><stop offset="0.4988" stop-color="#fedf83"/><stop offset="0.4988" stop-color="#fee187"/><stop offset="0.5058" stop-color="#fee187"/><stop offset="0.5058" stop-color="#fee38b"/><stop offset="0.5128" stop-color="#fee38b"/><stop offset="0.5128" stop-color="#ffe48e"/><stop offset="0.5198" stop-color="#ffe48e"/><stop offset="0.5198" stop-color="#ffe691"/><stop offset="0.5269" stop-color="#ffe691"/><stop offset="0.5269" stop-color="#ffe793"/><stop offset="0.5339" stop-color="#ffe793"/><stop offset="0.5339" stop-color="#ffe895"/><stop offset="0.5409" stop-color="#ffe895"/><stop offset="0.5409" stop-color="#ffe997"/><stop offset="0.5479" stop-color="#ffe997"/><stop offset="0.5479" stop-color="#ffea99"/><stop offset="0.5550" stop-color="#ffea99"/><stop offset="0.5550" stop-color="#ffea9a"/><stop offset="0.5620" stop-color="#ffea9a"/><stop offset="0.5620" stop-color="#ffeb9b"/><stop offset="0.5690" stop-color="#ffeb9b"/><stop offset="0.5690" stop-color="#ffeb9c"/><stop offset="0.5760" stop-color="#ffeb9c"/><stop offset="0.5760" stop-color="#ffec9d"/><stop offset="0.5831" stop-color="#ffec9d"/><stop offset="0.5831" stop-color="#ffec9e"/><stop offset="0.5901" stop-color="#ffec9e"/><stop offset="0.5901" stop-color="#ffec9e"/><stop offset="0.5971" stop-color="#ffec9e"/><stop offset="0.5971" stop-color="#ffec9e"/><stop offset="0.6041" stop-color="#ffec9e"/><stop offset="0.6041" stop-color="#ffec9e"/><stop offset="0.6112" stop-color="#ffec9e"/><stop offset="0.6112" stop-color="#ffec9d"/><stop offset="0.6182" stop-color="#ffec9d"/><stop offset="0.6182" stop-color="#ffeb9c"/><stop offset="0.6252" stop-color="#ffeb9c"/><stop offset="0.6252" stop-color="#ffeb9b"/><stop offset="0.6322" stop-color="#ffeb9b"/><stop offset="0.6322" stop-color="#ffea9a"/><stop offset="0.6393" stop-color="#ffea9a"/><stop offset="0.6393" stop-color="#ffe998"/><stop offset="0.6463" stop-color="#ffe998"/><stop offset="0.6463" stop-color="#ffe896"/><stop offset="0.6533" stop-color="#ffe896"/><stop offset="0.6533" stop-color="#ffe793"/><stop offset="0.6603" stop-color="#ffe793"/><stop offset="0.6603" stop-color="#ffe590"/><stop offset="0.6674" stop-color="#ffe590"/><stop offset="0.6674" stop-color="#ffe48c"/><stop offset="0.6744" stop-color="#ffe48c"/><stop offset="0.6744" stop-color="#fee188"/><stop offset="0.6814" stop-color="#fee188"/><stop offset="0.6814" stop-color="#fedf82"/><stop offset="0.6884" stop-color="#fedf82"/><stop offset="0.6884" stop-color="#fedc7b"/><stop offset="0.6955" stop-color="#fedc7b"/><stop offset="0.6955" stop-color="#fed673"/><stop offset="0.7025" stop-color="#fed673"/><stop offset="0.7025" stop-color="#fecc68"/><stop offset="0.7095" stop-color="#fecc68"/><stop offset="0.7095" stop-color="#fec05b"/><stop offset="0.7165" stop-color="#fec05b"/><stop offset="0.7165" stop-color="#feb04b"/><stop offset="0.7236" stop-color="#feb04b"/><stop offset="0.7236" stop-color="#fd9d43"/><stop offset="0.7306" stop-color="#fd9d43"/><stop offset="0.7306" stop-color="#fd7f38"/><stop offset="0.7376" stop-color="#fd7f38"/><stop offset="0.7376" stop-color="#fb4b29"/><stop offset="0.7446" stop-color="#fb4b29"/><stop offset="0.7446" stop-color="#df171d"/><stop offset="0.7517" stop-color="#df171d"/><stop offset="0.7517" stop-color="#a60026"/><stop offset="0.7587" stop-color="#a60026"/><stop offset="0.7587" stop-color="#800026"/><stop offset="0.7657" stop-color="#800026"/><stop offset="0.7657" stop-color="#800026"/><stop offset="0.7727" stop-color="#800026"/><stop offset="0.7727" stop-color="#800026"/><stop offset="0.7798" stop-color="#800026"/><stop offset="0.7798" stop-color="#800026"/><stop offset="0.7868" stop-color="#800026"/><stop offset="0.7868" stop-color="#800026"/><stop offset="0.7938" stop-color="#800026"/><stop offset="0.7938" stop-color="#920026"/><stop offset="0.8008" stop-color="#920026"/><stop offset="0.8008" stop-color="#d7121f"/><stop offset="0.8079" stop-color="#d7121f"/><stop offset="0.8079" stop-color="#f84628"/><stop offset="0.8149" stop-color="#f84628"/><stop offset="0.8149" stop-color="#fd7e38"/><stop offset="0.8219" stop-color="#fd7e38"/><stop offset="0.8219" stop-color="#fd9f44"/><stop offset="0.8289" stop-color="#fd9f44"/><stop offset="0.8289" stop-color="#feb34d"/><stop offset="0.8360" stop-color="#feb34d"/><stop offset="0.8360" stop-color="#fec35f"/><stop offset="0.8430" stop-color="#fec35f"/><stop offset="0.8430" stop-color="#fed06c"/><stop offset="0.8500" stop-color="#fed06c"/><stop offset="0.8500" stop-color="#feda77"/><stop offset="0.8570" stop-color="#feda77"/><stop offset="0.8570" stop-color="#fede80"/><stop offset="0.8641" stop-color="#fede80"/><stop offset="0.8641" stop-color="#fee187"/><stop offset="0.8711" stop-color="#fee187"/><stop offset="0.8711" stop-color="#ffe48d"/><stop offset="0.8781" stop-color="#ffe48d"/><stop offset="0.8781" stop-color="#ffe691"/><stop offset="0.8851" stop-color="#ffe691"/><stop offset="0.8851" stop-color="#ffe895"/><stop offset="0.8922" stop-color="#ffe895"/><stop offset="0.8922" stop-color="#ffea99"/><stop offset="0.8992" stop-color="#ffea99"/><stop offset="0.8992" stop-color="#ffeb9c"/><stop offset="0.9062" stop-color="#ffeb9c"/><stop offset="0.9062" stop-color="#ffec9e"/><stop offset="0.9132" stop-color="#ffec9e"/><stop offset="0.9132" stop-color="#ffeda0"/><stop offset="0.9203" stop-color="#ffeda0"/><stop offset="0.9203" stop-color="#ffeea2"/><stop offset="0.9273" stop-color="#ffeea2"/><stop offset="0.9273" stop-color="#ffefa4"/><stop offset="0.9343" stop-color="#ffefa4"/><stop offset="0.9343" stop-color="#fff0a6"/><stop offset="0.9413" stop-color="#fff0a6"/><stop offset="0.9413" stop-color="#fff0a8"/><stop offset="0.9484" stop-color="#fff0a8"/><stop offset="0.9484" stop-color="#fff1aa"/><stop offset="0.9554" stop-color="#fff1aa"/><stop offset="0.9554" stop-color="#fff1ab"/><stop offset="0.9624" stop-color="#fff1ab"/><stop offset="0.9624" stop-color="#fff2ac"/><stop offset="0.9694" stop-color="#fff2ac"/><stop offset="0.9694" stop-color="#fff3ae"/><stop offset="0.9765" stop-color="#fff3ae"/><stop offset="0.9765" stop-color="#fff3af"/><stop offset="0.9835" stop-color="#fff3af"/><stop offset="0.9835" stop-color="#fff3b0"/><stop offset="0.9905" stop-color="#fff3b0"/><stop offset="0.9905" stop-color="#fff4b1"/><stop offset="0.9975" stop-color="#fff4b1"/><stop offset="0.9975" stop-color="#fff4b1"/><stop offset="1.0000" stop-color="#fff4b1"/></linearGradient>
<polygon points="1277.24,82.70 1310.92,82.70 1150.56,652.10 1128.22,652.10" fill="url(#g15)"/>
<linearGradient id="g16" gradientUnits="userSpaceOnUse" x1="0" y1="82.70" x2="0" y2="652.10"><stop offset="0.0000" stop-color="#ffe691"/><stop offset="0.0070" stop-color="#ffe691"/><stop offset="0.0070" stop-color="#ffe691"/><stop offset="0.0140" stop-color="#ffe691"/><stop offset="0.0140" stop-color="#ffe691"/><stop offset="0.0211" stop-color="#ffe691"/><stop offset="0.0211" stop-color="#ffe691"/><stop offset="0.0281" stop-color="#ffe691"/><stop offset="0.0281" stop-color="#ffe690"/><stop offset="0.0351" stop-color="#ffe690"/><stop offset="0.0351" stop-color="#ffe590"/><stop offset="0.0421" stop-color="#ffe590"/><stop offset="0.0421" stop-color="#ffe590"/><stop offset="0.0492" stop-color="#ffe590"/><stop offset="0.0492" stop-color="#ffe58f"/><stop offset="0.0562" stop-color="#ffe58f"/><stop offset="0.0562" stop-color="#ffe58f"/><stop offset="0.0632" stop-color="#ffe58f"/><stop offset="0.0632" stop-color="#ffe58e"/><stop offset="0.0702" stop-color="#ffe58e"/><stop offset="0.0702" stop-color="#ffe48e"/><stop offset="0.0773" stop-color="#ffe48e"/><stop offset="0.0773" stop-color="#ffe48d"/><stop offset="0.0843" stop-color="#ffe48d"/><stop offset="0.0843" stop-color="#ffe48d"/><stop offset="0.0913" stop-color="#ffe48d"/><stop offset="0.0913" stop-color="#ffe38c"/><stop offset="0.0983" stop-color="#ffe38c"/><stop offset="0.0983" stop-color="#ffe38b"/><stop offset="0.1054" stop-color="#ffe38b"/><stop offset="0.1054" stop-color="#fee38a"/><stop offset="0.1124" stop-color="#fee38a"/><stop offset="0.1124" stop-color="#fee289"/><stop offset="0.1194" stop-color="#fee289"/><stop offset="0.1194" stop-color="#fee288"/><stop offset="0.1264" stop-color="#fee288"/><stop offset="0.1264" stop-color="#fee187"/><stop offset="0.1335" stop-color="#fee187"/><stop offset="0.1335" stop-color="#fee186"/><stop offset="0.1405" stop-color="#fee186"/><stop offset="0.1405" stop-color="#fee085"/><stop offset="0.1475" stop-color="#fee085"/><stop offset="0.1475" stop-color="#fedf83"/><stop offset="0.1545" stop-color="#fedf83"/><stop offset="0.1545" stop-color="#fede82"/><stop offset="0.1616" stop-color="#fede82"/><stop offset="0.1616" stop-color="#fede80"/><stop offset="0.1686" stop-color="#fede80"/><stop offset="0.1686" stop-color="#fedd7e"/><stop offset="0.1756" stop-color="#fedd7e"/><stop offset="0.1756" stop-color="#fedc7b"/><stop offset="0.1826" stop-color="#fedc7b"/><stop offset="0.1826" stop-color="#feda79"/><stop offset="0.1897" stop-color="#feda79"/><stop offset="0.1897" stop-color="#fed976"/><stop offset="0.1967" stop-color="#fed976"/><stop offset="0.1967" stop-color="#fed673"/><stop offset="0.2037" stop-color="#fed673"/><stop offset="0.2037" stop-color="#fed370"/><stop offset="0.2107" stop-color="#fed370"/><stop offset="0.2107" stop-color="#fecf6c"/><stop offset="0.2178" stop-color="#fecf6c"/><stop offset="0.2178" stop-color="#fecb67"/><stop offset="0.2248" stop-color="#fecb67"/><stop offset="0.2248" stop-color="#fec763"/><stop offset="0.2318" stop-color="#fec763"/><stop offset="0.2318" stop-color="#fec25d"/><stop offset="0.2388" stop-color="#fec25d"/><stop offset="0.2388" stop-color="#febc57"/><stop offset="0.2459" stop-color="#febc57"/><stop offset="0.2459" stop-color="#feb650"/><stop offset="0.2529" stop-color="#feb650"/><stop offset="0.2529" stop-color="#feaf4b"/><stop offset="0.2599" stop-color="#feaf4b"/><stop offset="0.2599" stop-color="#fea847"/><stop offset="0.2669" stop-color="#fea847"/><stop offset="0.2669" stop-color="#fd9f44"/><stop offset="0.2740" stop-color="#fd9f44"/><stop offset="0.2740" stop-color="#fd9640"/><stop offset="0.2810" stop-color="#fd9640"/><stop offset="0.2810" stop-color="#fd893b"/><stop offset="0.2880" stop-color="#fd893b"/><stop offset="0.2880" stop-color="#fd7535"/><stop offset="0.2950" stop-color="#fd7535"/><stop offset="0.2950" stop-color="#fc5e2f"/><stop offset="0.3021" stop-color="#fc5e2f"/><stop offset="0.3021" stop-color="#f94728"/><stop offset="0.3091" stop-color="#f94728"/><stop offset="0.3091" stop-color="#ee3022"/><stop offset="0.3161" stop-color="#ee3022"/><stop offset="0.3161" stop-color="#e2191c"/><stop offset="0.3231" stop-color="#e2191c"/><stop offset="0.3231" stop-color="#cf0c21"/><stop offset="0.3302" stop-color="#cf0c21"/><stop offset="0.3302" stop-color="#bb0026"/><stop offset="0.3372" stop-color="#bb0026"/><stop offset="0.3372" stop-color="#9d0026"/><stop offset="0.3442" stop-color="#9d0026"/><stop offset="0.3442" stop-color="#820026"/><stop offset="0.3512" stop-color="#820026"/><stop offset="0.3512" stop-color="#800026"/><stop offset="0.3583" stop-color="#800026"/><stop offset="0.3583" stop-color="#800026"/><stop offset="0.3653" stop-color="#800026"/><stop offset="0.3653" stop-color="#800026"/><stop offset="0.3723" stop-color="#800026"/><stop offset="0.3723" stop-color="#800026"/><stop offset="0.3793" stop-color="#800026"/><stop offset="0.3793" stop-color="#800026"/><stop offset="0.3864" stop-color="#800026"/><stop offset="0.3864" stop-color="#8f0026"/><stop offset="0.3934" stop-color="#8f0026"/><stop offset="0.3934" stop-color="#bb0026"/><stop offset="0.4004" stop-color="#bb0026"/><stop offset="0.4004" stop-color="#d9131f"/><stop offset="0.4074" stop-color="#d9131f"/><stop offset="0.4074" stop-color="#ef3223"/><stop offset="0.4145" stop-color="#ef3223"/><stop offset="0.4145" stop-color="#fc562c"/><stop offset="0.4215" stop-color="#fc562c"/><stop offset="0.4215" stop-color="#fd7936"/><stop offset="0.4285" stop-color="#fd7936"/><stop offset="0.4285" stop-color="#fd933f"/><stop offset="0.4355" stop-color="#fd933f"/><stop offset="0.4355" stop-color="#fea345"/><stop offset="0.4426" stop-color="#fea345"/><stop offset="0.4426" stop-color="#feaf4b"/><stop offset="0.4496" stop-color="#feaf4b"/><stop offset="0.4496" stop-color="#feba55"/><stop offset="0.4566" stop-color="#feba55"/><stop offset="0.4566" stop-color="#fec45f"/><stop offset="0.4636" stop-color="#fec45f"/><stop offset="0.4636" stop-color="#fecc68"/><stop offset="0.4707" stop-color="#fecc68"/><stop offset="0.4707" stop-color="#fed36f"/><stop offset="0.4777" stop-color="#fed36f"/><stop offset="0.4777" stop-color="#fed975"/><stop offset="0.4847" stop-color="#fed975"/><stop offset="0.4847" stop-color="#fedb7b"/><stop offset="0.4917" stop-color="#fedb7b"/><stop offset="0.4917" stop-color="#fede80"/><stop offset="0.4988" stop-color="#fede80"/><stop offset="0.4988" stop-color="#fee084"/><stop offset="0.5058" stop-color="#fee084"/><stop offset="0.5058" stop-color="#fee188"/><stop offset="0.5128" stop-color="#fee188"/><stop offset="0.5128" stop-color="#fee38b"/><stop offset="0.5198" stop-color="#fee38b"/><stop offset="0.5198" stop-color="#ffe48d"/><stop offset="0.5269" stop-color="#ffe48d"/><stop offset="0.5269" stop-color="#ffe590"/><stop offset="0.5339" stop-color="#ffe590"/><stop offset="0.5339" stop-color="#ffe692"/><stop offset="0.5409" stop-color="#ffe692"/><stop offset="0.5409" stop-color="#ffe794"/><stop offset="0.5479" stop-color="#ffe794"/><stop offset="0.5479" stop-color="#ffe895"/><stop offset="0.5550" stop-color="#ffe895"/><stop offset="0.5550" stop-color="#ffe897"/><stop offset="0.5620" stop-color="#ffe897"/><stop offset="0.5620" stop-color="#ffe998"/><stop offset="0.5690" stop-color="#ffe998"/><stop offset="0.5690" stop-color="#ffe998"/><stop offset="0.5760" stop-color="#ffe998"/><stop offset="0.5760" stop-color="#ffea99"/><stop offset="0.5831" stop-color="#ffea99"/><stop offset="0.5831" stop-color="#ffea99"/><stop offset="0.5901" stop-color="#ffea99"/><stop offset="0.5901" stop-color="#ffea9a"/><stop offset="0.5971" stop-color="#ffea9a"/><stop offset="0.5971" stop-color="#ffea99"/><stop offset="0.6041" stop-color="#ffea99"/><stop offset="0.6041" stop-color="#ffe999"/><stop offset="0.6112" stop-color="#ffe999"/><stop offset="0.6112" stop-color="#ffe998"/><stop offset="0.6182" stop-color="#ffe998"/><stop offset="0.6182" stop-color="#ffe896"/><stop offset="0.6252" stop-color="#ffe896"/><stop offset="0.6252" stop-color="#ffe794"/><stop offset="0.6322" stop-color="#ffe794"/><stop offset="0.6322" stop-color="#ffe692"/><stop offset="0.6393" stop-color="#ffe692"/><stop offset="0.6393" stop-color="#ffe590"/><stop offset="0.6463" stop-color="#ffe590"/><stop offset="0.6463" stop-color="#ffe48c"/><stop offset="0.6533" stop-color="#ffe48c"/><stop offset="0.6533" stop-color="#fee289"/><stop offset="0.6603" stop-color="#fee289"/><stop offset="0.6603" stop-color="#fee084"/><stop offset="0.6674" stop-color="#fee084"/><stop offset="0.6674" stop-color="#fedd7e"/><stop offset="0.6744" stop-color="#fedd7e"/><stop offset="0.6744" stop-color="#fed977"/><stop offset="0.6814" stop-color="#fed977"/><stop offset="0.6814" stop-color="#fed26e"/><stop offset="0.6884" stop-color="#fed26e"/><stop offset="0.6884" stop-color="#fec863"/><stop offset="0.6955" stop-color="#fec863"/><stop offset="0.6955" stop-color="#febb56"/><stop offset="0.7025" stop-color="#febb56"/><stop offset="0.7025" stop-color="#feab49"/><stop offset="0.7095" stop-color="#feab49"/><stop offset="0.7095" stop-color="#fd9841"/><stop offset="0.7165" stop-color="#fd9841"/><stop offset="0.7165" stop-color="#fd7535"/><stop offset="0.7236" stop-color="#fd7535"/><stop offset="0.7236" stop-color="#f64127"/><stop offset="0.7306" stop-color="#f64127"/><stop offset="0.7306" stop-color="#d8121f"/><stop offset="0.7376" stop-color="#d8121f"/><stop offset="0.7376" stop-color="#9c0026"/><stop offset="0.7446" stop-color="#9c0026"/><stop offset="0.7446" stop-color="#800026"/><stop offset="0.7517" stop-color="#800026"/><stop offset="0.7517" stop-color="#800026"/><stop offset="0.7587" stop-color="#800026"/><stop offset="0.7587" stop-color="#800026"/><stop offset="0.7657" stop-color="#800026"/><stop offset="0.7657" stop-color="#800026"/><stop offset="0.7727" stop-color="#800026"/><stop offset="0.7727" stop-color="#800026"/><stop offset="0.7798" stop-color="#800026"/><stop offset="0.7798" stop-color="#8d0026"/><stop offset="0.7868" stop-color="#8d0026"/><stop offset="0.7868" stop-color="#d20f20"/><stop offset="0.7938" stop-color="#d20f20"/><stop offset="0.7938" stop-color="#f53f26"/><stop offset="0.8008" stop-color="#f53f26"/><stop offset="0.8008" stop-color="#fd7736"/><stop offset="0.8079" stop-color="#fd7736"/><stop offset="0.8079" stop-color="#fd9a42"/><stop offset="0.8149" stop-color="#fd9a42"/><stop offset="0.8149" stop-color="#feaf4b"/><stop offset="0.8219" stop-color="#feaf4b"/><stop offset="0.8219" stop-color="#fec05b"/><stop offset="0.8289" stop-color="#fec05b"/><stop offset="0.8289" stop-color="#fecd69"/><stop offset="0.8360" stop-color="#fecd69"/><stop offset="0.8360" stop-color="#fed774"/><stop offset="0.8430" stop-color="#fed774"/><stop offset="0.8430" stop-color="#fedc7d"/><stop offset="0.8500" stop-color="#fedc7d"/><stop offset="0.8500" stop-color="#fee085"/><stop offset="0.8570" stop-color="#fee085"/><stop offset="0.8570" stop-color="#fee38b"/><stop offset="0.8641" stop-color="#fee38b"/><stop offset="0.8641" stop-color="#ffe58f"/><stop offset="0.8711" stop-color="#ffe58f"/><stop offset="0.8711" stop-color="#ffe794"/><stop offset="0.8781" stop-color="#ffe794"/><stop offset="0.8781" stop-color="#ffe997"/><stop offset="0.8851" stop-color="#ffe997"/><stop offset="0.8851" stop-color="#ffea9a"/><stop offset="0.8922" stop-color="#ffea9a"/><stop offset="0.8922" stop-color="#ffeb9c"/><stop offset="0.8992" stop-color="#ffeb9c"/><stop offset="0.8992" stop-color="#ffec9f"/><stop offset="0.9062" stop-color="#ffec9f"/><stop offset="0.9062" stop-color="#ffeda1"/><stop offset="0.9132" stop-color="#ffeda1"/><stop offset="0.9132" stop-color="#ffeea2"/><stop offset="0.9203" stop-color="#ffeea2"/><stop offset="0.9203" stop-color="#ffefa4"/><stop offset="0.9273" stop-color="#ffefa4"/><stop offset="0.9273" stop-color="#ffefa6"/><stop offset="0.9343" stop-color="#ffefa6"/><stop offset="0.9343" stop-color="#fff0a8"/><stop offset="0.9413" stop-color="#fff0a8"/><stop offset="0.9413" stop-color="#fff1a9"/><stop offset="0.9484" stop-color="#fff1a9"/><stop offset="0.9484" stop-color="#fff1aa"/><stop offset="0.9554" stop-color="#fff1aa"/><stop offset="0.9554" stop-color="#fff2ac"/><stop offset="0.9624" stop-color="#fff2ac"/><stop offset="0.9624" stop-color="#fff2ad"/><stop offset="0.9694" stop-color="#fff2ad"/><stop offset="0.9694" stop-color="#fff3ae"/><stop offset="0.9765" stop-color="#fff3ae"/><stop offset="0.9765" stop-color="#fff3af"/><stop offset="0.9835" stop-color="#fff3af"/><stop offset="0.9835" stop-color="#fff4b0"/><stop offset="0.9905" stop-color="#fff4b0"/><stop offset="0.9905" stop-color="#fff4b1"/><stop offset="0.9975" stop-color="#fff4b1"/><stop offset="0.9975" stop-color="#fff4b2"/><stop offset="1.0000" stop-color="#fff4b2"/></linearGradient>
<polygon points="1310.12,82.70 1340.25,82.70 1169.78,652.10 1149.76,652.10" fill="url(#g16)"/>
<linearGradient id="g17" gradientUnits="userSpaceOnUse" x1="0" y1="82.70" x2="0" y2="652.10"><stop offset="0.0000" stop-color="#ffe48d"/><stop offset="0.0070" stop-color="#ffe48d"/><stop offset="0.0070" stop-color="#ffe48d"/><stop offset="0.0140" stop-color="#ffe48d"/><stop offset="0.0140" stop-color="#ffe48d"/><stop offset="0.0211" stop-color="#ffe48d"/><stop offset="0.0211" stop-color="#ffe48c"/><stop offset="0.0281" stop-color="#ffe48c"/><stop offset="0.0281" stop-color="#ffe38c"/><stop offset="0.0351" stop-color="#ffe38c"/><stop offset="0.0351" stop-color="#ffe38b"/><stop offset="0.0421" stop-color="#ffe38b"/><stop offset="0.0421" stop-color="#fee38b"/><stop offset="0.0492" stop-color="#fee38b"/><stop offset="0.0492" stop-color="#fee38a"/><stop offset="0.0562" stop-color="#fee38a"/><stop offset="0.0562" stop-color="#fee28a"/><stop offset="0.0632" stop-color="#fee28a"/><stop offset="0.0632" stop-color="#fee289"/><stop offset="0.0702" stop-color="#fee289"/><stop offset="0.0702" stop-color="#fee288"/><stop offset="0.0773" stop-color="#fee288"/><stop offset="0.0773" stop-color="#fee188"/><stop offset="0.0843" stop-color="#fee188"/><stop offset="0.0843" stop-color="#fee187"/><stop offset="0.0913" stop-color="#fee187"/><stop offset="0.0913" stop-color="#fee186"/><stop offset="0.0983" stop-color="#fee186"/><stop offset="0.0983" stop-color="#fee085"/><stop offset="0.1054" stop-color="#fee085"/><stop offset="0.1054" stop-color="#fedf84"/><stop offset="0.1124" stop-color="#fedf84"/><stop offset="0.1124" stop-color="#fedf82"/><stop offset="0.1194" stop-color="#fedf82"/><stop offset="0.1194" stop-color="#fede81"/><stop offset="0.1264" stop-color="#fede81"/><stop offset="0.1264" stop-color="#fedd7f"/><stop offset="0.1335" stop-color="#fedd7f"/><stop offset="0.1335" stop-color="#fedd7e"/><stop offset="0.1405" stop-color="#fedd7e"/><stop offset="0.1405" stop-color="#fedc7c"/><stop offset="0.1475" stop-color="#fedc7c"/><stop offset="0.1475" stop-color="#fedb7a"/><stop offset="0.1545" stop-color="#fedb7a"/><stop offset="0.1545" stop-color="#feda77"/><stop offset="0.1616" stop-color="#feda77"/><stop offset="0.1616" stop-color="#fed875"/><stop offset="0.1686" stop-color="#fed875"/><stop offset="0.1686" stop-color="#fed572"/><stop offset="0.1756" stop-color="#fed572"/><stop offset="0.1756" stop-color="#fed36f"/><stop offset="0.1826" stop-color="#fed36f"/><stop offset="0.1826" stop-color="#fecf6c"/><stop offset="0.1897" stop-color="#fecf6c"/><stop offset="0.1897" stop-color="#fecc68"/><stop offset="0.1967" stop-color="#fecc68"/><stop offset="0.1967" stop-color="#fec864"/><stop offset="0.2037" stop-color="#fec864"/><stop offset="0.2037" stop-color="#fec35f"/><stop offset="0.2107" stop-color="#fec35f"/><stop offset="0.2107" stop-color="#febe59"/><stop offset="0.2178" stop-color="#febe59"/><stop offset="0.2178" stop-color="#feb953"/><stop offset="0.2248" stop-color="#feb953"/><stop offset="0.2248" stop-color="#feb34d"/><stop offset="0.2318" stop-color="#feb34d"/><stop offset="0.2318" stop-color="#feac49"/><stop offset="0.2388" stop-color="#feac49"/><stop offset="0.2388" stop-color="#fea446"/><stop offset="0.2459" stop-color="#fea446"/><stop offset="0.2459" stop-color="#fd9c42"/><stop offset="0.2529" stop-color="#fd9c42"/><stop offset="0.2529" stop-color="#fd923e"/><stop offset="0.2599" stop-color="#fd923e"/><stop offset="0.2599" stop-color="#fd8439"/><stop offset="0.2669" stop-color="#fd8439"/><stop offset="0.2669" stop-color="#fd7034"/><stop offset="0.2740" stop-color="#fd7034"/><stop offset="0.2740" stop-color="#fc592d"/><stop offset="0.2810" stop-color="#fc592d"/><stop offset="0.2810" stop-color="#f64227"/><stop offset="0.2880" stop-color="#f64227"/><stop offset="0.2880" stop-color="#eb2b21"/><stop offset="0.2950" stop-color="#eb2b21"/><stop offset="0.2950" stop-color="#dd161e"/><stop offset="0.3021" stop-color="#dd161e"/><stop offset="0.3021" stop-color="#c90823"/><stop offset="0.3091" stop-color="#c90823"/><stop offset="0.3091" stop-color="#ae0026"/><stop offset="0.3161" stop-color="#ae0026"/><stop offset="0.3161" stop-color="#8b0026"/><stop offset="0.3231" stop-color="#8b0026"/><stop offset="0.3231" stop-color="#800026"/><stop offset="0.3302" stop-color="#800026"/><stop offset="0.3302" stop-color="#800026"/><stop offset="0.3372" stop-color="#800026"/><stop offset="0.3372" stop-color="#800026"/><stop offset="0.3442" stop-color="#800026"/><stop offset="0.3442" stop-color="#800026"/><stop offset="0.3512" stop-color="#800026"/><stop offset="0.3512" stop-color="#800026"/><stop offset="0.3583" stop-color="#800026"/><stop offset="0.3583" stop-color="#800026"/><stop offset="0.3653" stop-color="#800026"/><stop offset="0.3653" stop-color="#800026"/><stop offset="0.3723" stop-color="#800026"/><stop offset="0.3723" stop-color="#800026"/><stop offset="0.3793" stop-color="#800026"/><stop offset="0.3793" stop-color="#800026"/><stop offset="0.3864" stop-color="#800026"/><stop offset="0.3864" stop-color="#b20026"/><stop offset="0.3934" stop-color="#b20026"/><stop offset="0.3934" stop-color="#d51120"/><stop offset="0.4004" stop-color="#d51120"/><stop offset="0.4004" stop-color="#ed2e21"/><stop offset="0.4074" stop-color="#ed2e21"/><stop offset="0.4074" stop-color="#fc512b"/><stop offset="0.4145" stop-color="#fc512b"/><stop offset="0.4145" stop-color="#fd7435"/><stop offset="0.4215" stop-color="#fd7435"/><stop offset="0.4215" stop-color="#fd903d"/><stop offset="0.4285" stop-color="#fd903d"/><stop offset="0.4285" stop-color="#fd9f44"/><stop offset="0.4355" stop-color="#fd9f44"/><stop offset="0.4355" stop-color="#feab49"/><stop offset="0.4426" stop-color="#feab49"/><stop offset="0.4426" stop-color="#feb650"/><stop offset="0.4496" stop-color="#feb650"/><stop offset="0.4496" stop-color="#fec05b"/><stop offset="0.4566" stop-color="#fec05b"/><stop offset="0.4566" stop-color="#fec863"/><stop offset="0.4636" stop-color="#fec863"/><stop offset="0.4636" stop-color="#fece6b"/><stop offset="0.4707" stop-color="#fece6b"/><stop offset="0.4707" stop-color="#fed471"/><stop offset="0.4777" stop-color="#fed471"/><stop offset="0.4777" stop-color="#fed977"/><stop offset="0.4847" stop-color="#fed977"/><stop offset="0.4847" stop-color="#fedc7b"/><stop offset="0.4917" stop-color="#fedc7b"/><stop offset="0.4917" stop-color="#fede80"/><stop offset="0.4988" stop-color="#fede80"/><stop offset="0.4988" stop-color="#fedf83"/><stop offset="0.5058" stop-color="#fedf83"/><stop offset="0.5058" stop-color="#fee187"/><stop offset="0.5128" stop-color="#fee187"/><stop offset="0.5128" stop-color="#fee289"/><stop offset="0.5198" stop-color="#fee289"/><stop offset="0.5198" stop-color="#ffe38c"/><stop offset="0.5269" stop-color="#ffe38c"/><stop offset="0.5269" stop-color="#ffe48e"/><stop offset="0.5339" stop-color="#ffe48e"/><stop offset="0.5339" stop-color="#ffe590"/><stop offset="0.5409" stop-color="#ffe590"/><stop offset="0.5409" stop-color="#ffe691"/><stop offset="0.5479" stop-color="#ffe691"/><stop offset="0.5479" stop-color="#ffe793"/><stop offset="0.5550" stop-color="#ffe793"/><stop offset="0.5550" stop-color="#ffe794"/><stop offset="0.5620" stop-color="#ffe794"/><stop offset="0.5620" stop-color="#ffe895"/><stop offset="0.5690" stop-color="#ffe895"/><stop offset="0.5690" stop-color="#ffe895"/><stop offset="0.5760" stop-color="#ffe895"/><stop offset="0.5760" stop-color="#ffe896"/><stop offset="0.5831" stop-color="#ffe896"/><stop offset="0.5831" stop-color="#ffe896"/><stop offset="0.5901" stop-color="#ffe896"/><stop offset="0.5901" stop-color="#ffe896"/><stop offset="0.5971" stop-color="#ffe896"/><stop offset="0.5971" stop-color="#ffe895"/><stop offset="0.6041" stop-color="#ffe895"/><stop offset="0.6041" stop-color="#ffe794"/><stop offset="0.6112" stop-color="#ffe794"/><stop offset="0.6112" stop-color="#ffe692"/><stop offset="0.6182" stop-color="#ffe692"/><stop offset="0.6182" stop-color="#ffe690"/><stop offset="0.6252" stop-color="#ffe690"/><stop offset="0.6252" stop-color="#ffe48e"/><stop offset="0.6322" stop-color="#ffe48e"/><stop offset="0.6322" stop-color="#fee38b"/><stop offset="0.6393" stop-color="#fee38b"/><stop offset="0.6393" stop-color="#fee187"/><stop offset="0.6463" stop-color="#fee187"/><stop offset="0.6463" stop-color="#fedf83"/><stop offset="0.6533" stop-color="#fedf83"/><stop offset="0.6533" stop-color="#fedd7d"/><stop offset="0.6603" stop-color="#fedd7d"/><stop offset="0.6603" stop-color="#fed977"/><stop offset="0.6674" stop-color="#fed977"/><stop offset="0.6674" stop-color="#fed26f"/><stop offset="0.6744" stop-color="#fed26f"/><stop offset="0.6744" stop-color="#fec964"/><stop offset="0.6814" stop-color="#fec964"/><stop offset="0.6814" stop-color="#febd58"/><stop offset="0.6884" stop-color="#febd58"/><stop offset="0.6884" stop-color="#feae4a"/><stop offset="0.6955" stop-color="#feae4a"/><stop offset="0.6955" stop-color="#fd9d43"/><stop offset="0.7025" stop-color="#fd9d43"/><stop offset="0.7025" stop-color="#fd8139"/><stop offset="0.7095" stop-color="#fd8139"/><stop offset="0.7095" stop-color="#fc512b"/><stop offset="0.7165" stop-color="#fc512b"/><stop offset="0.7165" stop-color="#e51e1d"/><stop offset="0.7236" stop-color="#e51e1d"/><stop offset="0.7236" stop-color="#b90026"/><stop offset="0.7306" stop-color="#b90026"/><stop offset="0.7306" stop-color="#800026"/><stop offset="0.7376" stop-color="#800026"/><stop offset="0.7376" stop-color="#800026"/><stop offset="0.7446" stop-color="#800026"/><stop offset="0.7446" stop-color="#800026"/><stop offset="0.7517" stop-color="#800026"/><stop offset="0.7517" stop-color="#800026"/><stop offset="0.7587" stop-color="#800026"/><stop offset="0.7587" stop-color="#800026"/><stop offset="0.7657" stop-color="#800026"/><stop offset="0.7657" stop-color="#800026"/><stop offset="0.7727" stop-color="#800026"/><stop offset="0.7727" stop-color="#b10026"/><stop offset="0.7798" stop-color="#b10026"/><stop offset="0.7798" stop-color="#e41d1d"/><stop offset="0.7868" stop-color="#e41d1d"/><stop offset="0.7868" stop-color="#fc542c"/><stop offset="0.7938" stop-color="#fc542c"/><stop offset="0.7938" stop-color="#fd873a"/><stop offset="0.8008" stop-color="#fd873a"/><stop offset="0.8008" stop-color="#fea145"/><stop offset="0.8079" stop-color="#fea145"/><stop offset="0.8079" stop-color="#feb44e"/><stop offset="0.8149" stop-color="#feb44e"/><stop offset="0.8149" stop-color="#fec35f"/><stop offset="0.8219" stop-color="#fec35f"/><stop offset="0.8219" stop-color="#fecf6c"/><stop offset="0.8289" stop-color="#fecf6c"/><stop offset="0.8289" stop-color="#fed976"/><stop offset="0.8360" stop-color="#fed976"/><stop offset="0.8360" stop-color="#fedd7e"/><stop offset="0.8430" stop-color="#fedd7e"/><stop offset="0.8430" stop-color="#fee085"/><stop offset="0.8500" stop-color="#fee085"/><stop offset="0.8500" stop-color="#fee38b"/><stop offset="0.8570" stop-color="#fee38b"/><stop offset="0.8570" stop-color="#ffe590"/><stop offset="0.8641" stop-color="#ffe590"/><stop offset="0.8641" stop-color="#ffe794"/><stop offset="0.8711" stop-color="#ffe794"/><stop offset="0.8711" stop-color="#ffe997"/><stop offset="0.8781" stop-color="#ffe997"/><stop offset="0.8781" stop-color="#ffea9a"/><stop offset="0.8851" stop-color="#ffea9a"/><stop offset="0.8851" stop-color="#ffeb9c"/><stop offset="0.8922" stop-color="#ffeb9c"/><stop offset="0.8922" stop-color="#ffec9e"/><stop offset="0.8992" stop-color="#ffec9e"/><stop offset="0.8992" stop-color="#ffeda0"/><stop offset="0.9062" stop-color="#ffeda0"/><stop offset="0.9062" stop-color="#ffeea2"/><stop offset="0.9132" stop-color="#ffeea2"/><stop offset="0.9132" stop-color="#ffeea3"/><stop offset="0.9203" stop-color="#ffeea3"/><stop offset="0.9203" stop-color="#ffefa5"/><stop offset="0.9273" stop-color="#ffefa5"/><stop offset="0.9273" stop-color="#fff0a7"/><stop offset="0.9343" stop-color="#fff0a7"/><stop offset="0.9343" stop-color="#fff0a8"/><stop offset="0.9413" stop-color="#fff0a8"/><stop offset="0.9413" stop-color="#fff1aa"/><stop offset="0.9484" stop-color="#fff1aa"/><stop offset="0.9484" stop-color="#fff1ab"/><stop offset="0.9554" stop-color="#fff1ab"/><stop offset="0.9554" stop-color="#fff2ac"/><stop offset="0.9624" stop-color="#fff2ac"/><stop offset="0.9624" stop-color="#fff2ad"/><stop offset="0.9694" stop-color="#fff2ad"/><stop offset="0.9694" stop-color="#fff3ae"/><stop offset="0.9765" stop-color="#fff3ae"/><stop offset="0.9765" stop-color="#fff3af"/><stop offset="0.9835" stop-color="#fff3af"/><stop offset="0.9835" stop-color="#fff4b0"/><stop offset="0.9905" stop-color="#fff4b0"/><stop offset="0.9905" stop-color="#fff4b1"/><stop offset="0.9975" stop-color="#fff4b1"/><stop offset="0.9975" stop-color="#fff4b2"/><stop offset="1.0000" stop-color="#fff4b2"/></linearGradient>
<polygon points="1339.45,82.70 1365.83,82.70 1186.53,652.10 1168.98,652.10" fill="url(#g17)"/>
<linearGradient id="g18" gradientUnits="userSpaceOnUse" x1="0" y1="82.70" x2="0" y2="652.10"><stop offset="0.0000" stop-color="#fee288"/><stop offset="0.0070" stop-color="#fee288"/><stop offset="0.0070" stop-color="#fee288"/><stop offset="0.0140" stop-color="#fee288"/><stop offset="0.0140" stop-color="#fee188"/><stop offset="0.0211" stop-color="#fee188"/><stop offset="0.0211" stop-color="#fee187"/><stop offset="0.0281" stop-color="#fee187"/><stop offset="0.0281" stop-color="#fee187"/><stop offset="0.0351" stop-color="#fee187"/><stop offset="0.0351" stop-color="#fee186"/><stop offset="0.0421" stop-color="#fee186"/><stop offset="0.0421" stop-color="#fee085"/><stop offset="0.0492" stop-color="#fee085"/><stop offset="0.0492" stop-color="#fee084"/><stop offset="0.0562" stop-color="#fee084"/><stop offset="0.0562" stop-color="#fedf84"/><stop offset="0.0632" stop-color="#fedf84"/><stop offset="0.0632" stop-color="#fedf83"/><stop offset="0.0702" stop-color="#fedf83"/><stop offset="0.0702" stop-color="#fedf82"/><stop offset="0.0773" stop-color="#fedf82"/><stop offset="0.0773" stop-color="#fede81"/><stop offset="0.0843" stop-color="#fede81"/><stop offset="0.0843" stop-color="#fedd7f"/><stop offset="0.0913" stop-color="#fedd7f"/><stop offset="0.0913" stop-color="#fedd7e"/><stop offset="0.0983" stop-color="#fedd7e"/><stop offset="0.0983" stop-color="#fedc7d"/><stop offset="0.1054" stop-color="#fedc7d"/><stop offset="0.1054" stop-color="#fedb7b"/><stop offset="0.1124" stop-color="#fedb7b"/><stop offset="0.1124" stop-color="#fedb79"/><stop offset="0.1194" stop-color="#fedb79"/><stop offset="0.1194" stop-color="#feda77"/><stop offset="0.1264" stop-color="#feda77"/><stop offset="0.1264" stop-color="#fed875"/><stop offset="0.1335" stop-color="#fed875"/><stop offset="0.1335" stop-color="#fed673"/><stop offset="0.1405" stop-color="#fed673"/><stop offset="0.1405" stop-color="#fed470"/><stop offset="0.1475" stop-color="#fed470"/><stop offset="0.1475" stop-color="#fed16d"/><stop offset="0.1545" stop-color="#fed16d"/><stop offset="0.1545" stop-color="#fece6a"/><stop offset="0.1616" stop-color="#fece6a"/><stop offset="0.1616" stop-color="#fecb67"/><stop offset="0.1686" stop-color="#fecb67"/><stop offset="0.1686" stop-color="#fec763"/><stop offset="0.1756" stop-color="#fec763"/><stop offset="0.1756" stop-color="#fec35e"/><stop offset="0.1826" stop-color="#fec35e"/><stop offset="0.1826" stop-color="#febe59"/><stop offset="0.1897" stop-color="#febe59"/><stop offset="0.1897" stop-color="#feb954"/><stop offset="0.1967" stop-color="#feb954"/><stop offset="0.1967" stop-color="#feb44e"/><stop offset="0.2037" stop-color="#feb44e"/><stop offset="0.2037" stop-color="#feae4a"/><stop offset="0.2107" stop-color="#feae4a"/><stop offset="0.2107" stop-color="#fea747"/><stop offset="0.2178" stop-color="#fea747"/><stop offset="0.2178" stop-color="#fd9f44"/><stop offset="0.2248" stop-color="#fd9f44"/><stop offset="0.2248" stop-color="#fd9640"/><stop offset="0.2318" stop-color="#fd9640"/><stop offset="0.2318" stop-color="#fd8d3c"/><stop offset="0.2388" stop-color="#fd8d3c"/><stop offset="0.2388" stop-color="#fd7a37"/><stop offset="0.2459" stop-color="#fd7a37"/><stop offset="0.2459" stop-color="#fc6531"/><stop offset="0.2529" stop-color="#fc6531"/><stop offset="0.2529" stop-color="#fc4e2a"/><stop offset="0.2599" stop-color="#fc4e2a"/><stop offset="0.2599" stop-color="#f13824"/><stop offset="0.2669" stop-color="#f13824"/><stop offset="0.2669" stop-color="#e6201e"/><stop offset="0.2740" stop-color="#e6201e"/><stop offset="0.2740" stop-color="#d41020"/><stop offset="0.2810" stop-color="#d41020"/><stop offset="0.2810" stop-color="#bf0126"/><stop offset="0.2880" stop-color="#bf0126"/><stop offset="0.2880" stop-color="#9b0026"/><stop offset="0.2950" stop-color="#9b0026"/><stop offset="0.2950" stop-color="#800026"/><stop offset="0.3021" stop-color="#800026"/><stop offset="0.3021" stop-color="#800026"/><stop offset="0.3091" stop-color="#800026"/><stop offset="0.3091" stop-color="#800026"/><stop offset="0.3161" stop-color="#800026"/><stop offset="0.3161" stop-color="#800026"/><stop offset="0.3231" stop-color="#800026"/><stop offset="0.3231" stop-color="#800026"/><stop offset="0.3302" stop-color="#800026"/><stop offset="0.3302" stop-color="#800026"/><stop offset="0.3372" stop-color="#800026"/><stop offset="0.3372" stop-color="#800026"/><stop offset="0.3442" stop-color="#800026"/><stop offset="0.3442" stop-color="#800026"/><stop offset="0.3512" stop-color="#800026"/><stop offset="0.3512" stop-color="#800026"/><stop offset="0.3583" stop-color="#800026"/><stop offset="0.3583" stop-color="#800026"/><stop offset="0.3653" stop-color="#800026"/><stop offset="0.3653" stop-color="#800026"/><stop offset="0.3723" stop-color="#800026"/><stop offset="0.3723" stop-color="#8d0026"/><stop offset="0.3793" stop-color="#8d0026"/><stop offset="0.3793" stop-color="#c10325"/><stop offset="0.3864" stop-color="#c10325"/><stop offset="0.3864" stop-color="#df181d"/><stop offset="0.3934" stop-color="#df181d"/><stop offset="0.3934" stop-color="#f23a25"/><stop offset="0.4004" stop-color="#f23a25"/><stop offset="0.4004" stop-color="#fc5b2e"/><stop offset="0.4074" stop-color="#fc5b2e"/><stop offset="0.4074" stop-color="#fd7c37"/><stop offset="0.4145" stop-color="#fd7c37"/><stop offset="0.4145" stop-color="#fd933f"/><stop offset="0.4215" stop-color="#fd933f"/><stop offset="0.4215" stop-color="#fea144"/><stop offset="0.4285" stop-color="#fea144"/><stop offset="0.4285" stop-color="#feac49"/><stop offset="0.4355" stop-color="#feac49"/><stop offset="0.4355" stop-color="#feb651"/><stop offset="0.4426" stop-color="#feb651"/><stop offset="0.4426" stop-color="#febf5a"/><stop offset="0.4496" stop-color="#febf5a"/><stop offset="0.4496" stop-color="#fec762"/><stop offset="0.4566" stop-color="#fec762"/><stop offset="0.4566" stop-color="#fecd69"/><stop offset="0.4636" stop-color="#fecd69"/><stop offset="0.4636" stop-color="#fed36f"/><stop offset="0.4707" stop-color="#fed36f"/><stop offset="0.4707" stop-color="#fed875"/><stop offset="0.4777" stop-color="#fed875"/><stop offset="0.4777" stop-color="#fedb79"/><stop offset="0.4847" stop-color="#fedb79"/><stop offset="0.4847" stop-color="#fedd7d"/><stop offset="0.4917" stop-color="#fedd7d"/><stop offset="0.4917" stop-color="#fede81"/><stop offset="0.4988" stop-color="#fede81"/><stop offset="0.4988" stop-color="#fee084"/><stop offset="0.5058" stop-color="#fee084"/><stop offset="0.5058" stop-color="#fee187"/><stop offset="0.5128" stop-color="#fee187"/><stop offset="0.5128" stop-color="#fee289"/><stop offset="0.5198" stop-color="#fee289"/><stop offset="0.5198" stop-color="#ffe38c"/><stop offset="0.5269" stop-color="#ffe38c"/><stop offset="0.5269" stop-color="#ffe48d"/><stop offset="0.5339" stop-color="#ffe48d"/><stop offset="0.5339" stop-color="#ffe58f"/><stop offset="0.5409" stop-color="#ffe58f"/><stop offset="0.5409" stop-color="#ffe690"/><stop offset="0.5479" stop-color="#ffe690"/><stop offset="0.5479" stop-color="#ffe691"/><stop offset="0.5550" stop-color="#ffe691"/><stop offset="0.5550" stop-color="#ffe692"/><stop offset="0.5620" stop-color="#ffe692"/><stop offset="0.5620" stop-color="#ffe793"/><stop offset="0.5690" stop-color="#ffe793"/><stop offset="0.5690" stop-color="#ffe793"/><stop offset="0.5760" stop-color="#ffe793"/><stop offset="0.5760" stop-color="#ffe793"/><stop offset="0.5831" stop-color="#ffe793"/><stop offset="0.5831" stop-color="#ffe793"/><stop offset="0.5901" stop-color="#ffe793"/><stop offset="0.5901" stop-color="#ffe793"/><stop offset="0.5971" stop-color="#ffe793"/><stop offset="0.5971" stop-color="#ffe692"/><stop offset="0.6041" stop-color="#ffe692"/><stop offset="0.6041" stop-color="#ffe590"/><stop offset="0.6112" stop-color="#ffe590"/><stop offset="0.6112" stop-color="#ffe58e"/><stop offset="0.6182" stop-color="#ffe58e"/><stop offset="0.6182" stop-color="#ffe38c"/><stop offset="0.6252" stop-color="#ffe38c"/><stop offset="0.6252" stop-color="#fee289"/><stop offset="0.6322" stop-color="#fee289"/><stop offset="0.6322" stop-color="#fee085"/><stop offset="0.6393" stop-color="#fee085"/><stop offset="0.6393" stop-color="#fede81"/><stop offset="0.6463" stop-color="#fede81"/><stop offset="0.6463" stop-color="#fedb7b"/><stop offset="0.6533" stop-color="#fedb7b"/><stop offset="0.6533" stop-color="#fed774"/><stop offset="0.6603" stop-color="#fed774"/><stop offset="0.6603" stop-color="#fed06c"/><stop offset="0.6674" stop-color="#fed06c"/><stop offset="0.6674" stop-color="#fec662"/><stop offset="0.6744" stop-color="#fec662"/><stop offset="0.6744" stop-color="#febb55"/><stop offset="0.6814" stop-color="#febb55"/><stop offset="0.6814" stop-color="#feac49"/><stop offset="0.6884" stop-color="#feac49"/><stop offset="0.6884" stop-color="#fd9a42"/><stop offset="0.6955" stop-color="#fd9a42"/><stop offset="0.6955" stop-color="#fd7e38"/><stop offset="0.7025" stop-color="#fd7e38"/><stop offset="0.7025" stop-color="#fc4e2a"/><stop offset="0.7095" stop-color="#fc4e2a"/><stop offset="0.7095" stop-color="#e51d1d"/><stop offset="0.7165" stop-color="#e51d1d"/><stop offset="0.7165" stop-color="#ba0026"/><stop offset="0.7236" stop-color="#ba0026"/><stop offset="0.7236" stop-color="#800026"/><stop offset="0.7306" stop-color="#800026"/><stop offset="0.7306" stop-color="#800026"/><stop offset="0.7376" stop-color="#800026"/><stop offset="0.7376" stop-color="#800026"/><stop offset="0.7446" stop-color="#800026"/><stop offset="0.7446" stop-color="#800026"/><stop offset="0.7517" stop-color="#800026"/><stop offset="0.7517" stop-color="#800026"/><stop offset="0.7587" stop-color="#800026"/><stop offset="0.7587" stop-color="#800026"/><stop offset="0.7657" stop-color="#800026"/><stop offset="0.7657" stop-color="#a00026"/><stop offset="0.7727" stop-color="#a00026"/><stop offset="0.7727" stop-color="#da141e"/><stop offset="0.7798" stop-color="#da141e"/><stop offset="0.7798" stop-color="#f84528"/><stop offset="0.7868" stop-color="#f84528"/><stop offset="0.7868" stop-color="#fd7936"/><stop offset="0.7938" stop-color="#fd7936"/><stop offset="0.7938" stop-color="#fd9a42"/><stop offset="0.8008" stop-color="#fd9a42"/><stop offset="0.8008" stop-color="#feae4a"/><stop offset="0.8079" stop-color="#feae4a"/><stop offset="0.8079" stop-color="#febe59"/><stop offset="0.8149" stop-color="#febe59"/><stop offset="0.8149" stop-color="#fecb67"/><stop offset="0.8219" stop-color="#fecb67"/><stop offset="0.8219" stop-color="#fed572"/><stop offset="0.8289" stop-color="#fed572"/><stop offset="0.8289" stop-color="#fedb7b"/><stop offset="0.8360" stop-color="#fedb7b"/><stop offset="0.8360" stop-color="#fedf82"/><stop offset="0.8430" stop-color="#fedf82"/><stop offset="0.8430" stop-color="#fee288"/><stop offset="0.8500" stop-color="#fee288"/><stop offset="0.8500" stop-color="#ffe48d"/><stop offset="0.8570" stop-color="#ffe48d"/><stop offset="0.8570" stop-color="#ffe691"/><stop offset="0.8641" stop-color="#ffe691"/><stop offset="0.8641" stop-color="#ffe895"/><stop offset="0.8711" stop-color="#ffe895"/><stop offset="0.8711" stop-color="#ffe998"/><stop offset="0.8781" stop-color="#ffe998"/><stop offset="0.8781" stop-color="#ffea9a"/><stop offset="0.8851" stop-color="#ffea9a"/><stop offset="0.8851" stop-color="#ffeb9d"/><stop offset="0.8922" stop-color="#ffeb9d"/><stop offset="0.8922" stop-color="#ffec9f"/><stop offset="0.8992" stop-color="#ffec9f"/><stop offset="0.8992" stop-color="#ffeda0"/><stop offset="0.9062" stop-color="#ffeda0"/><stop offset="0.9062" stop-color="#ffeea2"/><stop offset="0.9132" stop-color="#ffeea2"/><stop offset="0.9132" stop-color="#ffeea3"/><stop offset="0.9203" stop-color="#ffeea3"/><stop offset="0.9203" stop-color="#ffefa5"/><stop offset="0.9273" stop-color="#ffefa5"/><stop offset="0.9273" stop-color="#fff0a7"/><stop offset="0.9343" stop-color="#fff0a7"/><stop offset="0.9343" stop-color="#fff0a8"/><stop offset="0.9413" stop-color="#fff0a8"/><stop offset="0.9413" stop-color="#fff1a9"/><stop offset="0.9484" stop-color="#fff1a9"/><stop offset="0.9484" stop-color="#fff1ab"/><stop offset="0.9554" stop-color="#fff1ab"/><stop offset="0.9554" stop-color="#fff2ac"/><stop offset="0.9624" stop-color="#fff2ac"/><stop offset="0.9624" stop-color="#fff2ad"/><stop offset="0.9694" stop-color="#fff2ad"/><stop offset="0.9694" stop-color="#fff3ae"/><stop offset="0.9765" stop-color="#fff3ae"/><stop offset="0.9765" stop-color="#fff3af"/><stop offset="0.9835" stop-color="#fff3af"/><stop offset="0.9835" stop-color="#fff4b0"/><stop offset="0.9905" stop-color="#fff4b0"/><stop offset="0.9905" stop-color="#fff4b1"/><stop offset="0.9975" stop-color="#fff4b1"/><stop offset="0.9975" stop-color="#fff4b1"/><stop offset="1.0000" stop-color="#fff4b1"/></linearGradient>
<polygon points="1365.03,82.70 1411.21,82.70 1215.99,652.10 1185.73,652.10" fill="url(#g18)"/>
</g></g>
<line x1="127.30" y1="422.50" x2="698.60" y2="422.50" stroke="#000" stroke-width="8.30" stroke-linecap="butt"/>
<line x1="801.00" y1="422.50" x2="1372.30" y2="422.50" stroke="#000" stroke-width="8.30" stroke-linecap="butt"/>
<polyline points="118.46,455.29 124.75,455.90 131.04,456.43 137.33,456.88 143.62,457.25 149.91,457.55 156.20,457.77 162.49,457.92 168.78,457.98 175.07,457.98 181.36,457.89 187.65,457.73 193.94,457.49 200.23,457.17 206.52,456.78 212.82,456.31 219.11,455.76 225.40,455.14 231.69,454.44 237.98,453.66 244.27,452.81 250.56,451.88 256.85,450.87 263.14,449.79 269.43,448.63 275.72,447.39 282.01,446.08 288.30,444.69 294.59,443.22 300.88,441.68 307.17,440.06 313.46,438.37 319.75,436.59 326.04,434.75 332.33,432.82 338.62,430.82 344.91,428.74 351.20,426.59 357.49,424.36 363.78,422.06 370.07,419.68 376.36,417.22 382.65,414.69 388.94,412.08 395.24,409.39 401.53,406.63 407.82,403.80 414.11,400.89 420.40,397.90 426.69,394.84 432.98,391.70 439.27,388.49 445.56,385.20 451.85,381.84 458.14,378.40 464.43,374.89 470.72,371.30 477.01,367.64 483.30,363.90 489.59,360.09 495.88,356.21 502.17,352.25 508.46,348.21 514.75,344.10 521.04,339.92 527.33,335.66 533.62,331.33 539.91,326.93 546.20,322.45 552.49,317.90 558.78,313.27 565.07,308.58 571.36,303.80 577.66,298.96 583.95,294.04 590.24,289.05 596.53,283.99 602.82,278.85 609.11,273.64 615.40,268.36 621.69,263.01" fill="none" stroke="#ff0000" stroke-width="9.00" stroke-linecap="round" stroke-linejoin="round" clip-path="url(#cpa)"/>
<polyline points="792.26,496.42 799.07,496.93 805.88,497.37 812.70,497.74 819.51,498.03 826.32,498.26 833.13,498.42 839.95,498.51 846.76,498.52 853.57,498.47 860.38,498.35 867.19,498.15 874.01,497.89 880.82,497.55 887.63,497.15 894.44,496.67 901.26,496.13 908.07,495.51 914.88,494.83 921.69,494.08 928.50,493.25 935.32,492.36 942.13,491.40 948.94,490.38 955.75,489.28 962.57,488.12 969.38,486.89 976.19,485.59 983.00,484.23 989.82,482.80 996.63,481.30 1003.44,479.74 1010.25,478.12 1017.06,476.43 1023.88,474.68 1030.69,472.87 1037.50,471.00 1044.31,469.06 1051.13,467.06 1057.94,465.00 1064.75,462.89 1071.56,460.71 1078.37,458.48 1085.19,456.19 1092.00,453.84 1098.81,451.44 1105.62,448.98 1112.44,446.47 1119.25,443.91 1126.06,441.29 1132.87,438.62 1139.68,435.90 1146.50,433.14 1153.31,430.32 1160.12,427.46 1166.93,424.55 1173.75,421.60 1180.56,418.60 1187.37,415.56 1194.18,412.47 1200.99,409.35 1207.81,406.19 1214.62,402.99 1221.43,399.75 1228.24,396.47 1235.06,393.16 1241.87,389.82 1248.68,386.45 1255.49,383.04 1262.31,379.61 1269.12,376.15 1275.93,372.66 1282.74,369.14 1289.55,365.61 1296.37,362.05 1303.18,358.47 1309.99,354.87 1316.80,351.25 1323.62,347.61 1330.43,343.97 1337.24,340.30" fill="none" stroke="#ff0000" stroke-width="9.00" stroke-linecap="round" stroke-linejoin="round" clip-path="url(#cpb)"/>
<polyline points="250.00,348.80 256.30,348.00 339.90,338.30 421.60,323.80 498.00,303.50 570.60,269.00 634.50,226.30" fill="none" stroke="#fff" stroke-width="9.30" stroke-linecap="butt" stroke-linejoin="round"/>
<rect x="247.90" y="333.20" width="16.80" height="16.80" rx="4.20" fill="#fff"/>
<rect x="331.50" y="325.90" width="16.80" height="16.80" rx="4.20" fill="#fff"/>
<rect x="413.20" y="314.00" width="16.80" height="16.80" rx="4.20" fill="#fff"/>
<rect x="489.60" y="293.20" width="16.80" height="16.80" rx="4.20" fill="#fff"/>
<rect x="562.20" y="258.70" width="16.80" height="16.80" rx="4.20" fill="#fff"/>
<rect x="626.10" y="217.90" width="16.80" height="16.80" rx="4.20" fill="#fff"/>
<polyline points="246.30,531.50 318.00,518.90 389.70,501.80 456.80,483.10 514.90,465.00 565.40,454.30" fill="none" stroke="#fff" stroke-width="9.30" stroke-linecap="butt" stroke-linejoin="round"/>
<rect x="237.90" y="522.60" width="16.80" height="16.80" rx="4.20" fill="#fff"/>
<rect x="309.60" y="510.00" width="16.80" height="16.80" rx="4.20" fill="#fff"/>
<rect x="381.30" y="492.90" width="16.80" height="16.80" rx="4.20" fill="#fff"/>
<rect x="448.40" y="474.20" width="16.80" height="16.80" rx="4.20" fill="#fff"/>
<rect x="506.50" y="456.00" width="16.80" height="16.80" rx="4.20" fill="#fff"/>
<rect x="557.00" y="444.90" width="16.80" height="16.80" rx="4.20" fill="#fff"/>
<polyline points="930.90,339.30 972.40,335.17 1014.20,331.85 1055.10,330.42 1095.30,327.79 1132.30,323.96 1168.00,317.64 1201.90,312.61 1233.70,305.08 1263.10,299.45 1288.30,291.63 1311.60,282.30" fill="none" stroke="#fff" stroke-width="9.30" stroke-linecap="butt" stroke-linejoin="round"/>
<rect x="922.50" y="327.90" width="16.80" height="16.80" rx="4.20" fill="#fff"/>
<rect x="964.00" y="324.00" width="16.80" height="16.80" rx="4.20" fill="#fff"/>
<rect x="1005.80" y="320.90" width="16.80" height="16.80" rx="4.20" fill="#fff"/>
<rect x="1046.70" y="319.70" width="16.80" height="16.80" rx="4.20" fill="#fff"/>
<rect x="1086.90" y="317.30" width="16.80" height="16.80" rx="4.20" fill="#fff"/>
<rect x="1123.90" y="313.70" width="16.80" height="16.80" rx="4.20" fill="#fff"/>
<rect x="1159.60" y="307.60" width="16.80" height="16.80" rx="4.20" fill="#fff"/>
<rect x="1193.50" y="302.80" width="16.80" height="16.80" rx="4.20" fill="#fff"/>
<rect x="1225.30" y="295.50" width="16.80" height="16.80" rx="4.20" fill="#fff"/>
<rect x="1254.70" y="290.10" width="16.80" height="16.80" rx="4.20" fill="#fff"/>
<rect x="1279.90" y="282.50" width="16.80" height="16.80" rx="4.20" fill="#fff"/>
<rect x="1303.20" y="273.40" width="16.80" height="16.80" rx="4.20" fill="#fff"/>
<polyline points="915.80,579.70 951.60,577.26 985.30,573.27 1020.10,565.95 1053.90,559.22 1085.80,552.64 1115.20,546.32 1145.90,537.95 1172.80,530.42 1197.80,522.74 1220.10,517.10 1239.20,514.10" fill="none" stroke="#fff" stroke-width="9.30" stroke-linecap="butt" stroke-linejoin="round"/>
<rect x="907.40" y="570.30" width="16.80" height="16.80" rx="4.20" fill="#fff"/>
<rect x="943.20" y="567.70" width="16.80" height="16.80" rx="4.20" fill="#fff"/>
<rect x="976.90" y="563.40" width="16.80" height="16.80" rx="4.20" fill="#fff"/>
<rect x="1011.70" y="555.70" width="16.80" height="16.80" rx="4.20" fill="#fff"/>
<rect x="1045.50" y="548.50" width="16.80" height="16.80" rx="4.20" fill="#fff"/>
<rect x="1077.40" y="541.40" width="16.80" height="16.80" rx="4.20" fill="#fff"/>
<rect x="1106.80" y="534.50" width="16.80" height="16.80" rx="4.20" fill="#fff"/>
<rect x="1137.50" y="525.50" width="16.80" height="16.80" rx="4.20" fill="#fff"/>
<rect x="1164.40" y="517.30" width="16.80" height="16.80" rx="4.20" fill="#fff"/>
<rect x="1189.40" y="508.90" width="16.80" height="16.80" rx="4.20" fill="#fff"/>
<rect x="1211.70" y="502.50" width="16.80" height="16.80" rx="4.20" fill="#fff"/>
<rect x="1230.80" y="498.70" width="16.80" height="16.80" rx="4.20" fill="#fff"/>
<line x1="115.50" y1="102.70" x2="127.30" y2="102.70" stroke="#000" stroke-width="4.60" stroke-linecap="butt"/>
<text transform="translate(50.01,114.80) scale(1.0839,1)" font-size="34.91" fill="#000" stroke="#000" stroke-width="0.60" stroke-linejoin="round">2.6</text>
<line x1="115.50" y1="228.20" x2="127.30" y2="228.20" stroke="#000" stroke-width="4.60" stroke-linecap="butt"/>
<text transform="translate(50.03,240.65) scale(1.0564,1)" font-size="35.41" fill="#000" stroke="#000" stroke-width="0.60" stroke-linejoin="round">2.4</text>
<line x1="115.50" y1="353.70" x2="127.30" y2="353.70" stroke="#000" stroke-width="4.60" stroke-linecap="butt"/>
<text transform="translate(50.00,366.15) scale(1.0748,1)" font-size="35.41" fill="#000" stroke="#000" stroke-width="0.60" stroke-linejoin="round">2.2</text>
<line x1="115.50" y1="479.20" x2="127.30" y2="479.20" stroke="#000" stroke-width="4.60" stroke-linecap="butt"/>
<text transform="translate(50.02,491.30) scale(1.0798,1)" font-size="34.91" fill="#000" stroke="#000" stroke-width="0.60" stroke-linejoin="round">2.0</text>
<line x1="115.50" y1="604.70" x2="127.30" y2="604.70" stroke="#000" stroke-width="4.60" stroke-linecap="butt"/>
<text transform="translate(50.59,616.80) scale(1.0715,1)" font-size="34.91" fill="#000" stroke="#000" stroke-width="0.60" stroke-linejoin="round">1.8</text>
<line x1="171.20" y1="652.10" x2="171.20" y2="663.60" stroke="#000" stroke-width="4.60" stroke-linecap="butt"/>
<text transform="translate(162.04,700.76) scale(0.9919,1)" font-size="34.20" fill="#000" stroke="#000" stroke-width="0.60" stroke-linejoin="round">0</text>
<line x1="390.95" y1="652.10" x2="390.95" y2="663.60" stroke="#000" stroke-width="4.60" stroke-linecap="butt"/>
<text transform="translate(381.79,700.75) scale(0.9830,1)" font-size="34.70" fill="#000" stroke="#000" stroke-width="0.60" stroke-linejoin="round">5</text>
<line x1="610.70" y1="652.10" x2="610.70" y2="663.60" stroke="#000" stroke-width="4.60" stroke-linecap="butt"/>
<text transform="translate(589.26,700.76) scale(1.1079,1)" font-size="34.20" fill="#000" stroke="#000" stroke-width="0.60" stroke-linejoin="round">10</text>
<polygon points="264.85,82.70 269.75,82.70 270.31,72.30 265.41,72.30" fill="#000"/>
<text transform="translate(251.21,67.62) scale(1.0424,1)" font-size="27.99" fill="#000" stroke="#000" stroke-width="0.60" stroke-linejoin="round">10</text>
<polygon points="362.55,82.70 367.45,82.70 368.55,72.30 363.65,72.30" fill="#000"/>
<text transform="translate(350.11,67.62) scale(1.0624,1)" font-size="27.99" fill="#000" stroke="#000" stroke-width="0.60" stroke-linejoin="round">20</text>
<polygon points="456.45,82.70 461.35,82.70 462.96,72.30 458.06,72.30" fill="#000"/>
<text transform="translate(445.21,67.62) scale(1.0357,1)" font-size="27.99" fill="#000" stroke="#000" stroke-width="0.60" stroke-linejoin="round">30</text>
<polygon points="541.75,82.70 546.65,82.70 548.72,72.30 543.82,72.30" fill="#000"/>
<text transform="translate(530.33,67.62) scale(1.0584,1)" font-size="27.99" fill="#000" stroke="#000" stroke-width="0.60" stroke-linejoin="round">40</text>
<polygon points="614.45,82.70 619.35,82.70 621.82,72.30 616.92,72.30" fill="#000"/>
<text transform="translate(606.03,67.62) scale(1.0486,1)" font-size="27.99" fill="#000" stroke="#000" stroke-width="0.60" stroke-linejoin="round">50</text>
<polygon points="670.25,82.70 675.15,82.70 677.94,72.30 673.04,72.30" fill="#000"/>
<text transform="translate(661.38,67.62) scale(1.0833,1)" font-size="27.99" fill="#000" stroke="#000" stroke-width="0.60" stroke-linejoin="round">60</text>
<rect x="127.30" y="82.70" width="571.30" height="569.40" fill="none" stroke="#000" stroke-width="4.60" stroke-linejoin="miter"/>
<line x1="789.20" y1="102.70" x2="801.00" y2="102.70" stroke="#000" stroke-width="4.60" stroke-linecap="butt"/>
<text transform="translate(723.81,114.80) scale(1.0839,1)" font-size="34.91" fill="#000" stroke="#000" stroke-width="0.60" stroke-linejoin="round">2.6</text>
<line x1="789.20" y1="228.20" x2="801.00" y2="228.20" stroke="#000" stroke-width="4.60" stroke-linecap="butt"/>
<text transform="translate(723.83,240.65) scale(1.0564,1)" font-size="35.41" fill="#000" stroke="#000" stroke-width="0.60" stroke-linejoin="round">2.4</text>
<line x1="789.20" y1="353.70" x2="801.00" y2="353.70" stroke="#000" stroke-width="4.60" stroke-linecap="butt"/>
<text transform="translate(723.80,366.15) scale(1.0748,1)" font-size="35.41" fill="#000" stroke="#000" stroke-width="0.60" stroke-linejoin="round">2.2</text>
<line x1="789.20" y1="479.20" x2="801.00" y2="479.20" stroke="#000" stroke-width="4.60" stroke-linecap="butt"/>
<text transform="translate(723.82,491.30) scale(1.0798,1)" font-size="34.91" fill="#000" stroke="#000" stroke-width="0.60" stroke-linejoin="round">2.0</text>
<line x1="789.20" y1="604.70" x2="801.00" y2="604.70" stroke="#000" stroke-width="4.60" stroke-linecap="butt"/>
<text transform="translate(724.39,616.80) scale(1.0715,1)" font-size="34.91" fill="#000" stroke="#000" stroke-width="0.60" stroke-linejoin="round">1.8</text>
<line x1="845.00" y1="652.10" x2="845.00" y2="663.60" stroke="#000" stroke-width="4.60" stroke-linecap="butt"/>
<text transform="translate(835.84,700.76) scale(0.9919,1)" font-size="34.20" fill="#000" stroke="#000" stroke-width="0.60" stroke-linejoin="round">0</text>
<line x1="1064.75" y1="652.10" x2="1064.75" y2="663.60" stroke="#000" stroke-width="4.60" stroke-linecap="butt"/>
<text transform="translate(1055.59,700.75) scale(0.9830,1)" font-size="34.70" fill="#000" stroke="#000" stroke-width="0.60" stroke-linejoin="round">5</text>
<line x1="1284.50" y1="652.10" x2="1284.50" y2="663.60" stroke="#000" stroke-width="4.60" stroke-linecap="butt"/>
<text transform="translate(1263.06,700.76) scale(1.1079,1)" font-size="34.20" fill="#000" stroke="#000" stroke-width="0.60" stroke-linejoin="round">10</text>
<polygon points="936.35,82.70 941.25,82.70 941.81,72.30 936.91,72.30" fill="#000"/>
<text transform="translate(921.17,67.62) scale(1.0639,1)" font-size="27.99" fill="#000" stroke="#000" stroke-width="0.60" stroke-linejoin="round">10</text>
<polygon points="1034.05,82.70 1038.95,82.70 1040.05,72.30 1035.15,72.30" fill="#000"/>
<text transform="translate(1020.11,67.62) scale(1.0624,1)" font-size="27.99" fill="#000" stroke="#000" stroke-width="0.60" stroke-linejoin="round">20</text>
<polygon points="1127.95,82.70 1132.85,82.70 1134.46,72.30 1129.56,72.30" fill="#000"/>
<text transform="translate(1115.19,67.62) scale(1.0599,1)" font-size="27.99" fill="#000" stroke="#000" stroke-width="0.60" stroke-linejoin="round">30</text>
<polygon points="1213.25,82.70 1218.15,82.70 1220.22,72.30 1215.32,72.30" fill="#000"/>
<text transform="translate(1201.34,67.62) scale(1.0447,1)" font-size="27.99" fill="#000" stroke="#000" stroke-width="0.60" stroke-linejoin="round">40</text>
<polygon points="1285.95,82.70 1290.85,82.70 1293.32,72.30 1288.42,72.30" fill="#000"/>
<text transform="translate(1276.61,67.62) scale(1.0625,1)" font-size="27.99" fill="#000" stroke="#000" stroke-width="0.60" stroke-linejoin="round">50</text>
<polygon points="1341.75,82.70 1346.65,82.70 1349.44,72.30 1344.54,72.30" fill="#000"/>
<text transform="translate(1331.38,67.62) scale(1.0833,1)" font-size="27.99" fill="#000" stroke="#000" stroke-width="0.60" stroke-linejoin="round">60</text>
<rect x="801.00" y="82.70" width="571.30" height="569.40" fill="none" stroke="#000" stroke-width="4.60" stroke-linejoin="miter"/>
<text transform="translate(261.76,27.60) scale(1.0175,1)" font-size="35.50" fill="#000">Incidence angle (°)</text>
<text transform="translate(935.56,27.60) scale(1.0165,1)" font-size="35.50" fill="#000">Incidence angle (°)</text>
<text transform="translate(29.20,459.26) rotate(-90) scale(1.0062,1)" font-size="36.90" fill="#000">Energy (eV)</text>
<text transform="translate(139.48,502.91) scale(0.9973,1)" font-size="48.15" fill="#ff0000">photon</text>
<text transform="translate(520.66,410.13) scale(1.0102,1)" font-size="47.48" fill="#000">exciton</text>
<text transform="translate(319.37,268.60) scale(1.0265,1)" font-size="47.56" fill="#000">P</text>
<text transform="translate(351.52,249.63) scale(0.9986,1)" font-size="31.22" fill="#000">+</text>
<text transform="translate(287.80,613.50) scale(1.0155,1)" font-size="47.71" fill="#000">P</text>
<text transform="translate(319.10,595.80) scale(1.2245,1)" font-size="40.00" fill="#000">-</text>
<line x1="345.30" y1="273.80" x2="381.60" y2="317.60" stroke="#000" stroke-width="5.30" stroke-linecap="round"/>
<polyline points="378.19,302.99 381.60,317.60" fill="none" stroke="#000" stroke-width="5.30" stroke-linecap="round"/>
<polyline points="367.88,311.54 381.60,317.60" fill="none" stroke="#000" stroke-width="5.30" stroke-linecap="round"/>
<line x1="318.90" y1="570.60" x2="349.20" y2="521.80" stroke="#000" stroke-width="5.30" stroke-linecap="round"/>
<polyline points="336.43,529.67 349.20,521.80" fill="none" stroke="#000" stroke-width="5.30" stroke-linecap="round"/>
<polyline points="347.81,536.73 349.20,521.80" fill="none" stroke="#000" stroke-width="5.30" stroke-linecap="round"/>
<linearGradient id="cbg" x1="0" y1="0" x2="0" y2="1"><stop offset="0.000" stop-color="#800026"/><stop offset="0.025" stop-color="#8c0026"/><stop offset="0.050" stop-color="#980026"/><stop offset="0.075" stop-color="#a50026"/><stop offset="0.100" stop-color="#b10026"/><stop offset="0.125" stop-color="#bd0026"/><stop offset="0.150" stop-color="#c50524"/><stop offset="0.175" stop-color="#cc0a22"/><stop offset="0.200" stop-color="#d41020"/><stop offset="0.225" stop-color="#db151e"/><stop offset="0.250" stop-color="#e31a1c"/><stop offset="0.275" stop-color="#e8241f"/><stop offset="0.300" stop-color="#ed2f22"/><stop offset="0.325" stop-color="#f23924"/><stop offset="0.350" stop-color="#f74427"/><stop offset="0.375" stop-color="#fc4e2a"/><stop offset="0.400" stop-color="#fc5b2e"/><stop offset="0.425" stop-color="#fc6731"/><stop offset="0.450" stop-color="#fd7435"/><stop offset="0.475" stop-color="#fd8038"/><stop offset="0.500" stop-color="#fd8d3c"/><stop offset="0.525" stop-color="#fd943f"/><stop offset="0.550" stop-color="#fd9c42"/><stop offset="0.575" stop-color="#fea346"/><stop offset="0.600" stop-color="#feab49"/><stop offset="0.625" stop-color="#feb24c"/><stop offset="0.650" stop-color="#feba54"/><stop offset="0.675" stop-color="#fec25d"/><stop offset="0.700" stop-color="#fec965"/><stop offset="0.725" stop-color="#fed16e"/><stop offset="0.750" stop-color="#fed976"/><stop offset="0.775" stop-color="#fedd7e"/><stop offset="0.800" stop-color="#fee187"/><stop offset="0.825" stop-color="#ffe58f"/><stop offset="0.850" stop-color="#ffe998"/><stop offset="0.875" stop-color="#ffeda0"/><stop offset="0.900" stop-color="#fff1a9"/><stop offset="0.925" stop-color="#fff4b2"/><stop offset="0.950" stop-color="#fff8ba"/><stop offset="0.975" stop-color="#fffbc3"/><stop offset="1.000" stop-color="#ffffcc"/></linearGradient>
<rect x="1391.40" y="89.70" width="46.30" height="558.70" fill="url(#cbg)"/>
<text transform="translate(1426.80,353.50) rotate(-90) scale(0.9451,1)" font-size="44.00" fill="#fff">Absorption /%</text>
<line x1="1437.70" y1="648.40" x2="1449.60" y2="648.40" stroke="#000" stroke-width="4.60" stroke-linecap="butt"/>
<text transform="translate(1451.44,658.70) scale(1.0484,1)" font-size="29.96" fill="#000" stroke="#000" stroke-width="0.60" stroke-linejoin="round">0</text>
<line x1="1437.70" y1="555.28" x2="1449.60" y2="555.28" stroke="#000" stroke-width="4.60" stroke-linecap="butt"/>
<text transform="translate(1450.32,565.58) scale(1.0572,1)" font-size="29.96" fill="#000" stroke="#000" stroke-width="0.60" stroke-linejoin="round">10</text>
<line x1="1437.70" y1="462.16" x2="1449.60" y2="462.16" stroke="#000" stroke-width="4.60" stroke-linecap="butt"/>
<text transform="translate(1451.15,472.46) scale(1.0314,1)" font-size="29.96" fill="#000" stroke="#000" stroke-width="0.60" stroke-linejoin="round">20</text>
<line x1="1437.70" y1="369.04" x2="1449.60" y2="369.04" stroke="#000" stroke-width="4.60" stroke-linecap="butt"/>
<text transform="translate(1451.56,379.34) scale(1.0189,1)" font-size="29.96" fill="#000" stroke="#000" stroke-width="0.60" stroke-linejoin="round">30</text>
<line x1="1437.70" y1="275.92" x2="1449.60" y2="275.92" stroke="#000" stroke-width="4.60" stroke-linecap="butt"/>
<text transform="translate(1452.02,286.22) scale(1.0044,1)" font-size="29.96" fill="#000" stroke="#000" stroke-width="0.60" stroke-linejoin="round">40</text>
<line x1="1437.70" y1="182.80" x2="1449.60" y2="182.80" stroke="#000" stroke-width="4.60" stroke-linecap="butt"/>
<text transform="translate(1451.48,193.10) scale(1.0214,1)" font-size="29.96" fill="#000" stroke="#000" stroke-width="0.60" stroke-linejoin="round">50</text>
<line x1="1437.70" y1="89.68" x2="1449.60" y2="89.68" stroke="#000" stroke-width="4.60" stroke-linecap="butt"/>
<text transform="translate(1451.15,99.98) scale(1.0314,1)" font-size="29.96" fill="#000" stroke="#000" stroke-width="0.60" stroke-linejoin="round">60</text>
<rect x="1391.40" y="90.00" width="46.30" height="562.00" fill="none" stroke="#000" stroke-width="4.60" stroke-linejoin="miter"/>
<polyline points="252.50,828.80 336.90,840.30 417.20,860.50 492.80,884.40 565.80,906.40 630.10,922.70" fill="none" stroke="#000" stroke-width="8.20" stroke-linecap="butt" stroke-linejoin="round"/>
<polygon points="247.70,820.40 257.30,820.40 260.90,824.00 260.90,833.60 257.30,837.20 247.70,837.20 244.10,833.60 244.10,824.00" fill="#000" stroke="#000" stroke-width="6.80" stroke-linejoin="round"/>
<polygon points="332.10,831.90 341.70,831.90 345.30,835.50 345.30,845.10 341.70,848.70 332.10,848.70 328.50,845.10 328.50,835.50" fill="#000" stroke="#000" stroke-width="6.80" stroke-linejoin="round"/>
<polygon points="412.40,852.10 422.00,852.10 425.60,855.70 425.60,865.30 422.00,868.90 412.40,868.90 408.80,865.30 408.80,855.70" fill="#000" stroke="#000" stroke-width="6.80" stroke-linejoin="round"/>
<polygon points="488.00,876.00 497.60,876.00 501.20,879.60 501.20,889.20 497.60,892.80 488.00,892.80 484.40,889.20 484.40,879.60" fill="#000" stroke="#000" stroke-width="6.80" stroke-linejoin="round"/>
<polygon points="561.00,898.00 570.60,898.00 574.20,901.60 574.20,911.20 570.60,914.80 561.00,914.80 557.40,911.20 557.40,901.60" fill="#000" stroke="#000" stroke-width="6.80" stroke-linejoin="round"/>
<polygon points="625.30,914.30 634.90,914.30 638.50,917.90 638.50,927.50 634.90,931.10 625.30,931.10 621.70,927.50 621.70,917.90" fill="#000" stroke="#000" stroke-width="6.80" stroke-linejoin="round"/>
<polyline points="252.50,867.20 336.90,856.10 417.20,836.30 492.80,811.70 565.80,790.10 630.30,774.00" fill="none" stroke="#ff0000" stroke-width="8.20" stroke-linecap="butt" stroke-linejoin="round"/>
<polygon points="247.70,858.80 257.30,858.80 260.90,862.40 260.90,872.00 257.30,875.60 247.70,875.60 244.10,872.00 244.10,862.40" fill="#ff0000" stroke="#ff0000" stroke-width="6.80" stroke-linejoin="round"/>
<polygon points="332.10,847.70 341.70,847.70 345.30,851.30 345.30,860.90 341.70,864.50 332.10,864.50 328.50,860.90 328.50,851.30" fill="#ff0000" stroke="#ff0000" stroke-width="6.80" stroke-linejoin="round"/>
<polygon points="412.40,827.90 422.00,827.90 425.60,831.50 425.60,841.10 422.00,844.70 412.40,844.70 408.80,841.10 408.80,831.50" fill="#ff0000" stroke="#ff0000" stroke-width="6.80" stroke-linejoin="round"/>
<polygon points="488.00,803.30 497.60,803.30 501.20,806.90 501.20,816.50 497.60,820.10 488.00,820.10 484.40,816.50 484.40,806.90" fill="#ff0000" stroke="#ff0000" stroke-width="6.80" stroke-linejoin="round"/>
<polygon points="561.00,781.70 570.60,781.70 574.20,785.30 574.20,794.90 570.60,798.50 561.00,798.50 557.40,794.90 557.40,785.30" fill="#ff0000" stroke="#ff0000" stroke-width="6.80" stroke-linejoin="round"/>
<polygon points="625.50,765.60 635.10,765.60 638.70,769.20 638.70,778.80 635.10,782.40 625.50,782.40 621.90,778.80 621.90,769.20" fill="#ff0000" stroke="#ff0000" stroke-width="6.80" stroke-linejoin="round"/>
<line x1="110.80" y1="960.70" x2="122.60" y2="960.70" stroke="#000" stroke-width="4.60" stroke-linecap="butt"/>
<text transform="translate(44.20,972.67) scale(1.1238,1)" font-size="33.36" fill="#000" stroke="#000" stroke-width="0.60" stroke-linejoin="round">0.0</text>
<line x1="110.80" y1="848.60" x2="122.60" y2="848.60" stroke="#000" stroke-width="4.60" stroke-linecap="butt"/>
<text transform="translate(44.20,860.57) scale(1.1259,1)" font-size="33.36" fill="#000" stroke="#000" stroke-width="0.60" stroke-linejoin="round">0.5</text>
<line x1="110.80" y1="736.50" x2="122.60" y2="736.50" stroke="#000" stroke-width="4.60" stroke-linecap="butt"/>
<text transform="translate(42.81,748.47) scale(1.1546,1)" font-size="33.36" fill="#000" stroke="#000" stroke-width="0.60" stroke-linejoin="round">1.0</text>
<line x1="166.40" y1="960.70" x2="166.40" y2="972.20" stroke="#000" stroke-width="4.60" stroke-linecap="butt"/>
<text transform="translate(157.18,1010.66) scale(1.0105,1)" font-size="33.78" fill="#000" stroke="#000" stroke-width="0.60" stroke-linejoin="round">0</text>
<line x1="386.15" y1="960.70" x2="386.15" y2="972.20" stroke="#000" stroke-width="4.60" stroke-linecap="butt"/>
<text transform="translate(376.93,1010.66) scale(1.0015,1)" font-size="34.27" fill="#000" stroke="#000" stroke-width="0.60" stroke-linejoin="round">5</text>
<line x1="605.90" y1="960.70" x2="605.90" y2="972.20" stroke="#000" stroke-width="4.60" stroke-linecap="butt"/>
<text transform="translate(584.46,1010.66) scale(1.1218,1)" font-size="33.78" fill="#000" stroke="#000" stroke-width="0.60" stroke-linejoin="round">10</text>
<rect x="122.60" y="736.50" width="571.50" height="224.20" fill="none" stroke="#000" stroke-width="4.60" stroke-linejoin="miter"/>
<text transform="translate(138.29,780.60) scale(1.0072,1)" font-size="48.29" fill="#000">P</text>
<text transform="translate(171.38,764.82) scale(1.0051,1)" font-size="40.20" fill="#000">+</text>
<text transform="translate(34.39,898.78) rotate(-90) scale(1.0174,1)" font-size="41.50" fill="#000">Ratio</text>
<polyline points="930.90,813.30 973.30,815.70 1014.80,818.80 1055.10,822.40 1095.00,826.90 1132.30,833.00 1168.00,839.10 1201.90,845.10 1233.70,854.20 1262.50,860.30 1289.20,866.30 1311.90,872.40" fill="none" stroke="#000" stroke-width="8.20" stroke-linecap="butt" stroke-linejoin="round"/>
<polygon points="926.10,804.90 935.70,804.90 939.30,808.50 939.30,818.10 935.70,821.70 926.10,821.70 922.50,818.10 922.50,808.50" fill="#000" stroke="#000" stroke-width="6.80" stroke-linejoin="round"/>
<polygon points="968.50,807.30 978.10,807.30 981.70,810.90 981.70,820.50 978.10,824.10 968.50,824.10 964.90,820.50 964.90,810.90" fill="#000" stroke="#000" stroke-width="6.80" stroke-linejoin="round"/>
<polygon points="1010.00,810.40 1019.60,810.40 1023.20,814.00 1023.20,823.60 1019.60,827.20 1010.00,827.20 1006.40,823.60 1006.40,814.00" fill="#000" stroke="#000" stroke-width="6.80" stroke-linejoin="round"/>
<polygon points="1050.30,814.00 1059.90,814.00 1063.50,817.60 1063.50,827.20 1059.90,830.80 1050.30,830.80 1046.70,827.20 1046.70,817.60" fill="#000" stroke="#000" stroke-width="6.80" stroke-linejoin="round"/>
<polygon points="1090.20,818.50 1099.80,818.50 1103.40,822.10 1103.40,831.70 1099.80,835.30 1090.20,835.30 1086.60,831.70 1086.60,822.10" fill="#000" stroke="#000" stroke-width="6.80" stroke-linejoin="round"/>
<polygon points="1127.50,824.60 1137.10,824.60 1140.70,828.20 1140.70,837.80 1137.10,841.40 1127.50,841.40 1123.90,837.80 1123.90,828.20" fill="#000" stroke="#000" stroke-width="6.80" stroke-linejoin="round"/>
<polygon points="1163.20,830.70 1172.80,830.70 1176.40,834.30 1176.40,843.90 1172.80,847.50 1163.20,847.50 1159.60,843.90 1159.60,834.30" fill="#000" stroke="#000" stroke-width="6.80" stroke-linejoin="round"/>
<polygon points="1197.10,836.70 1206.70,836.70 1210.30,840.30 1210.30,849.90 1206.70,853.50 1197.10,853.50 1193.50,849.90 1193.50,840.30" fill="#000" stroke="#000" stroke-width="6.80" stroke-linejoin="round"/>
<polygon points="1228.90,845.80 1238.50,845.80 1242.10,849.40 1242.10,859.00 1238.50,862.60 1228.90,862.60 1225.30,859.00 1225.30,849.40" fill="#000" stroke="#000" stroke-width="6.80" stroke-linejoin="round"/>
<polygon points="1257.70,851.90 1267.30,851.90 1270.90,855.50 1270.90,865.10 1267.30,868.70 1257.70,868.70 1254.10,865.10 1254.10,855.50" fill="#000" stroke="#000" stroke-width="6.80" stroke-linejoin="round"/>
<polygon points="1284.40,857.90 1294.00,857.90 1297.60,861.50 1297.60,871.10 1294.00,874.70 1284.40,874.70 1280.80,871.10 1280.80,861.50" fill="#000" stroke="#000" stroke-width="6.80" stroke-linejoin="round"/>
<polygon points="1307.10,864.00 1316.70,864.00 1320.30,867.60 1320.30,877.20 1316.70,880.80 1307.10,880.80 1303.50,877.20 1303.50,867.60" fill="#000" stroke="#000" stroke-width="6.80" stroke-linejoin="round"/>
<polyline points="930.90,882.40 973.30,879.90 1014.80,876.90 1055.10,873.30 1095.00,868.40 1132.30,862.40 1168.00,855.70 1201.90,849.70 1233.70,842.10 1262.50,836.00 1289.20,830.00 1311.90,823.30" fill="none" stroke="#ff0000" stroke-width="8.20" stroke-linecap="butt" stroke-linejoin="round"/>
<polygon points="926.10,874.00 935.70,874.00 939.30,877.60 939.30,887.20 935.70,890.80 926.10,890.80 922.50,887.20 922.50,877.60" fill="#ff0000" stroke="#ff0000" stroke-width="6.80" stroke-linejoin="round"/>
<polygon points="968.50,871.50 978.10,871.50 981.70,875.10 981.70,884.70 978.10,888.30 968.50,888.30 964.90,884.70 964.90,875.10" fill="#ff0000" stroke="#ff0000" stroke-width="6.80" stroke-linejoin="round"/>
<polygon points="1010.00,868.50 1019.60,868.50 1023.20,872.10 1023.20,881.70 1019.60,885.30 1010.00,885.30 1006.40,881.70 1006.40,872.10" fill="#ff0000" stroke="#ff0000" stroke-width="6.80" stroke-linejoin="round"/>
<polygon points="1050.30,864.90 1059.90,864.90 1063.50,868.50 1063.50,878.10 1059.90,881.70 1050.30,881.70 1046.70,878.10 1046.70,868.50" fill="#ff0000" stroke="#ff0000" stroke-width="6.80" stroke-linejoin="round"/>
<polygon points="1090.20,860.00 1099.80,860.00 1103.40,863.60 1103.40,873.20 1099.80,876.80 1090.20,876.80 1086.60,873.20 1086.60,863.60" fill="#ff0000" stroke="#ff0000" stroke-width="6.80" stroke-linejoin="round"/>
<polygon points="1127.50,854.00 1137.10,854.00 1140.70,857.60 1140.70,867.20 1137.10,870.80 1127.50,870.80 1123.90,867.20 1123.90,857.60" fill="#ff0000" stroke="#ff0000" stroke-width="6.80" stroke-linejoin="round"/>
<polygon points="1163.20,847.30 1172.80,847.30 1176.40,850.90 1176.40,860.50 1172.80,864.10 1163.20,864.10 1159.60,860.50 1159.60,850.90" fill="#ff0000" stroke="#ff0000" stroke-width="6.80" stroke-linejoin="round"/>
<polygon points="1197.10,841.30 1206.70,841.30 1210.30,844.90 1210.30,854.50 1206.70,858.10 1197.10,858.10 1193.50,854.50 1193.50,844.90" fill="#ff0000" stroke="#ff0000" stroke-width="6.80" stroke-linejoin="round"/>
<polygon points="1228.90,833.70 1238.50,833.70 1242.10,837.30 1242.10,846.90 1238.50,850.50 1228.90,850.50 1225.30,846.90 1225.30,837.30" fill="#ff0000" stroke="#ff0000" stroke-width="6.80" stroke-linejoin="round"/>
<polygon points="1257.70,827.60 1267.30,827.60 1270.90,831.20 1270.90,840.80 1267.30,844.40 1257.70,844.40 1254.10,840.80 1254.10,831.20" fill="#ff0000" stroke="#ff0000" stroke-width="6.80" stroke-linejoin="round"/>
<polygon points="1284.40,821.60 1294.00,821.60 1297.60,825.20 1297.60,834.80 1294.00,838.40 1284.40,838.40 1280.80,834.80 1280.80,825.20" fill="#ff0000" stroke="#ff0000" stroke-width="6.80" stroke-linejoin="round"/>
<polygon points="1307.10,814.90 1316.70,814.90 1320.30,818.50 1320.30,828.10 1316.70,831.70 1307.10,831.70 1303.50,828.10 1303.50,818.50" fill="#ff0000" stroke="#ff0000" stroke-width="6.80" stroke-linejoin="round"/>
<line x1="789.30" y1="960.70" x2="801.10" y2="960.70" stroke="#000" stroke-width="4.60" stroke-linecap="butt"/>
<text transform="translate(722.00,972.67) scale(1.1238,1)" font-size="33.36" fill="#000" stroke="#000" stroke-width="0.60" stroke-linejoin="round">0.0</text>
<line x1="789.30" y1="848.65" x2="801.10" y2="848.65" stroke="#000" stroke-width="4.60" stroke-linecap="butt"/>
<text transform="translate(722.00,860.62) scale(1.1259,1)" font-size="33.36" fill="#000" stroke="#000" stroke-width="0.60" stroke-linejoin="round">0.5</text>
<line x1="789.30" y1="736.60" x2="801.10" y2="736.60" stroke="#000" stroke-width="4.60" stroke-linecap="butt"/>
<text transform="translate(720.61,748.57) scale(1.1546,1)" font-size="33.36" fill="#000" stroke="#000" stroke-width="0.60" stroke-linejoin="round">1.0</text>
<line x1="844.80" y1="960.70" x2="844.80" y2="972.20" stroke="#000" stroke-width="4.60" stroke-linecap="butt"/>
<text transform="translate(835.58,1010.66) scale(1.0105,1)" font-size="33.78" fill="#000" stroke="#000" stroke-width="0.60" stroke-linejoin="round">0</text>
<line x1="1064.55" y1="960.70" x2="1064.55" y2="972.20" stroke="#000" stroke-width="4.60" stroke-linecap="butt"/>
<text transform="translate(1055.33,1010.66) scale(1.0015,1)" font-size="34.27" fill="#000" stroke="#000" stroke-width="0.60" stroke-linejoin="round">5</text>
<line x1="1284.30" y1="960.70" x2="1284.30" y2="972.20" stroke="#000" stroke-width="4.60" stroke-linecap="butt"/>
<text transform="translate(1262.86,1010.66) scale(1.1218,1)" font-size="33.78" fill="#000" stroke="#000" stroke-width="0.60" stroke-linejoin="round">10</text>
<rect x="801.10" y="736.60" width="571.20" height="224.10" fill="none" stroke="#000" stroke-width="4.60" stroke-linejoin="miter"/>
<text transform="translate(816.79,780.70) scale(1.0072,1)" font-size="48.29" fill="#000">P</text>
<text transform="translate(849.88,764.92) scale(1.0051,1)" font-size="40.20" fill="#000">+</text>
<polyline points="240.90,1199.80 314.40,1189.00 385.20,1168.80 451.70,1144.60 511.40,1122.50 560.20,1106.10" fill="none" stroke="#000" stroke-width="8.20" stroke-linecap="butt" stroke-linejoin="round"/>
<polygon points="236.10,1191.40 245.70,1191.40 249.30,1195.00 249.30,1204.60 245.70,1208.20 236.10,1208.20 232.50,1204.60 232.50,1195.00" fill="#000" stroke="#000" stroke-width="6.80" stroke-linejoin="round"/>
<polygon points="309.60,1180.60 319.20,1180.60 322.80,1184.20 322.80,1193.80 319.20,1197.40 309.60,1197.40 306.00,1193.80 306.00,1184.20" fill="#000" stroke="#000" stroke-width="6.80" stroke-linejoin="round"/>
<polygon points="380.40,1160.40 390.00,1160.40 393.60,1164.00 393.60,1173.60 390.00,1177.20 380.40,1177.20 376.80,1173.60 376.80,1164.00" fill="#000" stroke="#000" stroke-width="6.80" stroke-linejoin="round"/>
<polygon points="446.90,1136.20 456.50,1136.20 460.10,1139.80 460.10,1149.40 456.50,1153.00 446.90,1153.00 443.30,1149.40 443.30,1139.80" fill="#000" stroke="#000" stroke-width="6.80" stroke-linejoin="round"/>
<polygon points="506.60,1114.10 516.20,1114.10 519.80,1117.70 519.80,1127.30 516.20,1130.90 506.60,1130.90 503.00,1127.30 503.00,1117.70" fill="#000" stroke="#000" stroke-width="6.80" stroke-linejoin="round"/>
<polygon points="555.40,1097.70 565.00,1097.70 568.60,1101.30 568.60,1110.90 565.00,1114.50 555.40,1114.50 551.80,1110.90 551.80,1101.30" fill="#000" stroke="#000" stroke-width="6.80" stroke-linejoin="round"/>
<polyline points="240.90,1161.30 314.40,1172.90 385.20,1192.50 451.70,1216.20 511.40,1238.80 560.20,1255.00" fill="none" stroke="#ff0000" stroke-width="8.20" stroke-linecap="butt" stroke-linejoin="round"/>
<polygon points="236.10,1152.90 245.70,1152.90 249.30,1156.50 249.30,1166.10 245.70,1169.70 236.10,1169.70 232.50,1166.10 232.50,1156.50" fill="#ff0000" stroke="#ff0000" stroke-width="6.80" stroke-linejoin="round"/>
<polygon points="309.60,1164.50 319.20,1164.50 322.80,1168.10 322.80,1177.70 319.20,1181.30 309.60,1181.30 306.00,1177.70 306.00,1168.10" fill="#ff0000" stroke="#ff0000" stroke-width="6.80" stroke-linejoin="round"/>
<polygon points="380.40,1184.10 390.00,1184.10 393.60,1187.70 393.60,1197.30 390.00,1200.90 380.40,1200.90 376.80,1197.30 376.80,1187.70" fill="#ff0000" stroke="#ff0000" stroke-width="6.80" stroke-linejoin="round"/>
<polygon points="446.90,1207.80 456.50,1207.80 460.10,1211.40 460.10,1221.00 456.50,1224.60 446.90,1224.60 443.30,1221.00 443.30,1211.40" fill="#ff0000" stroke="#ff0000" stroke-width="6.80" stroke-linejoin="round"/>
<polygon points="506.60,1230.40 516.20,1230.40 519.80,1234.00 519.80,1243.60 516.20,1247.20 506.60,1247.20 503.00,1243.60 503.00,1234.00" fill="#ff0000" stroke="#ff0000" stroke-width="6.80" stroke-linejoin="round"/>
<polygon points="555.40,1246.60 565.00,1246.60 568.60,1250.20 568.60,1259.80 565.00,1263.40 555.40,1263.40 551.80,1259.80 551.80,1250.20" fill="#ff0000" stroke="#ff0000" stroke-width="6.80" stroke-linejoin="round"/>
<line x1="111.00" y1="1292.50" x2="122.80" y2="1292.50" stroke="#000" stroke-width="4.60" stroke-linecap="butt"/>
<text transform="translate(44.20,1304.47) scale(1.1238,1)" font-size="33.36" fill="#000" stroke="#000" stroke-width="0.60" stroke-linejoin="round">0.0</text>
<line x1="111.00" y1="1180.60" x2="122.80" y2="1180.60" stroke="#000" stroke-width="4.60" stroke-linecap="butt"/>
<text transform="translate(44.20,1192.57) scale(1.1259,1)" font-size="33.36" fill="#000" stroke="#000" stroke-width="0.60" stroke-linejoin="round">0.5</text>
<line x1="111.00" y1="1068.70" x2="122.80" y2="1068.70" stroke="#000" stroke-width="4.60" stroke-linecap="butt"/>
<text transform="translate(42.81,1080.67) scale(1.1546,1)" font-size="33.36" fill="#000" stroke="#000" stroke-width="0.60" stroke-linejoin="round">1.0</text>
<line x1="166.00" y1="1292.50" x2="166.00" y2="1304.00" stroke="#000" stroke-width="4.60" stroke-linecap="butt"/>
<text transform="translate(156.78,1342.46) scale(1.0105,1)" font-size="33.78" fill="#000" stroke="#000" stroke-width="0.60" stroke-linejoin="round">0</text>
<line x1="385.75" y1="1292.50" x2="385.75" y2="1304.00" stroke="#000" stroke-width="4.60" stroke-linecap="butt"/>
<text transform="translate(376.53,1342.46) scale(1.0015,1)" font-size="34.27" fill="#000" stroke="#000" stroke-width="0.60" stroke-linejoin="round">5</text>
<line x1="605.50" y1="1292.50" x2="605.50" y2="1304.00" stroke="#000" stroke-width="4.60" stroke-linecap="butt"/>
<text transform="translate(584.06,1342.46) scale(1.1218,1)" font-size="33.78" fill="#000" stroke="#000" stroke-width="0.60" stroke-linejoin="round">10</text>
<rect x="122.80" y="1068.70" width="571.30" height="223.80" fill="none" stroke="#000" stroke-width="4.60" stroke-linejoin="miter"/>
<text transform="translate(138.49,1112.80) scale(1.0072,1)" font-size="48.29" fill="#000">P</text>
<text transform="translate(169.93,1098.15) scale(1.0738,1)" font-size="49.03" fill="#000">-</text>
<text transform="translate(34.29,1231.11) rotate(-90) scale(1.0273,1)" font-size="41.36" fill="#000">Ratio</text>
<polyline points="916.30,1214.80 951.30,1212.90 986.30,1209.60 1020.00,1206.10 1053.60,1200.80 1085.90,1195.90 1116.90,1190.00 1145.70,1183.30 1173.40,1176.50 1197.60,1168.50 1219.70,1161.70 1239.30,1155.00" fill="none" stroke="#000" stroke-width="8.20" stroke-linecap="butt" stroke-linejoin="round"/>
<polygon points="911.50,1206.40 921.10,1206.40 924.70,1210.00 924.70,1219.60 921.10,1223.20 911.50,1223.20 907.90,1219.60 907.90,1210.00" fill="#000" stroke="#000" stroke-width="6.80" stroke-linejoin="round"/>
<polygon points="946.50,1204.50 956.10,1204.50 959.70,1208.10 959.70,1217.70 956.10,1221.30 946.50,1221.30 942.90,1217.70 942.90,1208.10" fill="#000" stroke="#000" stroke-width="6.80" stroke-linejoin="round"/>
<polygon points="981.50,1201.20 991.10,1201.20 994.70,1204.80 994.70,1214.40 991.10,1218.00 981.50,1218.00 977.90,1214.40 977.90,1204.80" fill="#000" stroke="#000" stroke-width="6.80" stroke-linejoin="round"/>
<polygon points="1015.20,1197.70 1024.80,1197.70 1028.40,1201.30 1028.40,1210.90 1024.80,1214.50 1015.20,1214.50 1011.60,1210.90 1011.60,1201.30" fill="#000" stroke="#000" stroke-width="6.80" stroke-linejoin="round"/>
<polygon points="1048.80,1192.40 1058.40,1192.40 1062.00,1196.00 1062.00,1205.60 1058.40,1209.20 1048.80,1209.20 1045.20,1205.60 1045.20,1196.00" fill="#000" stroke="#000" stroke-width="6.80" stroke-linejoin="round"/>
<polygon points="1081.10,1187.50 1090.70,1187.50 1094.30,1191.10 1094.30,1200.70 1090.70,1204.30 1081.10,1204.30 1077.50,1200.70 1077.50,1191.10" fill="#000" stroke="#000" stroke-width="6.80" stroke-linejoin="round"/>
<polygon points="1112.10,1181.60 1121.70,1181.60 1125.30,1185.20 1125.30,1194.80 1121.70,1198.40 1112.10,1198.40 1108.50,1194.80 1108.50,1185.20" fill="#000" stroke="#000" stroke-width="6.80" stroke-linejoin="round"/>
<polygon points="1140.90,1174.90 1150.50,1174.90 1154.10,1178.50 1154.10,1188.10 1150.50,1191.70 1140.90,1191.70 1137.30,1188.10 1137.30,1178.50" fill="#000" stroke="#000" stroke-width="6.80" stroke-linejoin="round"/>
<polygon points="1168.60,1168.10 1178.20,1168.10 1181.80,1171.70 1181.80,1181.30 1178.20,1184.90 1168.60,1184.90 1165.00,1181.30 1165.00,1171.70" fill="#000" stroke="#000" stroke-width="6.80" stroke-linejoin="round"/>
<polygon points="1192.80,1160.10 1202.40,1160.10 1206.00,1163.70 1206.00,1173.30 1202.40,1176.90 1192.80,1176.90 1189.20,1173.30 1189.20,1163.70" fill="#000" stroke="#000" stroke-width="6.80" stroke-linejoin="round"/>
<polygon points="1214.90,1153.30 1224.50,1153.30 1228.10,1156.90 1228.10,1166.50 1224.50,1170.10 1214.90,1170.10 1211.30,1166.50 1211.30,1156.90" fill="#000" stroke="#000" stroke-width="6.80" stroke-linejoin="round"/>
<polygon points="1234.50,1146.60 1244.10,1146.60 1247.70,1150.20 1247.70,1159.80 1244.10,1163.40 1234.50,1163.40 1230.90,1159.80 1230.90,1150.20" fill="#000" stroke="#000" stroke-width="6.80" stroke-linejoin="round"/>
<polyline points="916.30,1146.10 951.30,1148.30 986.30,1151.00 1020.00,1155.00 1053.60,1159.80 1085.90,1165.80 1116.90,1172.00 1145.70,1179.80 1173.40,1186.00 1197.60,1192.10 1219.70,1199.40 1239.30,1205.60" fill="none" stroke="#ff0000" stroke-width="8.20" stroke-linecap="butt" stroke-linejoin="round"/>
<polygon points="911.50,1137.70 921.10,1137.70 924.70,1141.30 924.70,1150.90 921.10,1154.50 911.50,1154.50 907.90,1150.90 907.90,1141.30" fill="#ff0000" stroke="#ff0000" stroke-width="6.80" stroke-linejoin="round"/>
<polygon points="946.50,1139.90 956.10,1139.90 959.70,1143.50 959.70,1153.10 956.10,1156.70 946.50,1156.70 942.90,1153.10 942.90,1143.50" fill="#ff0000" stroke="#ff0000" stroke-width="6.80" stroke-linejoin="round"/>
<polygon points="981.50,1142.60 991.10,1142.60 994.70,1146.20 994.70,1155.80 991.10,1159.40 981.50,1159.40 977.90,1155.80 977.90,1146.20" fill="#ff0000" stroke="#ff0000" stroke-width="6.80" stroke-linejoin="round"/>
<polygon points="1015.20,1146.60 1024.80,1146.60 1028.40,1150.20 1028.40,1159.80 1024.80,1163.40 1015.20,1163.40 1011.60,1159.80 1011.60,1150.20" fill="#ff0000" stroke="#ff0000" stroke-width="6.80" stroke-linejoin="round"/>
<polygon points="1048.80,1151.40 1058.40,1151.40 1062.00,1155.00 1062.00,1164.60 1058.40,1168.20 1048.80,1168.20 1045.20,1164.60 1045.20,1155.00" fill="#ff0000" stroke="#ff0000" stroke-width="6.80" stroke-linejoin="round"/>
<polygon points="1081.10,1157.40 1090.70,1157.40 1094.30,1161.00 1094.30,1170.60 1090.70,1174.20 1081.10,1174.20 1077.50,1170.60 1077.50,1161.00" fill="#ff0000" stroke="#ff0000" stroke-width="6.80" stroke-linejoin="round"/>
<polygon points="1112.10,1163.60 1121.70,1163.60 1125.30,1167.20 1125.30,1176.80 1121.70,1180.40 1112.10,1180.40 1108.50,1176.80 1108.50,1167.20" fill="#ff0000" stroke="#ff0000" stroke-width="6.80" stroke-linejoin="round"/>
<polygon points="1140.90,1171.40 1150.50,1171.40 1154.10,1175.00 1154.10,1184.60 1150.50,1188.20 1140.90,1188.20 1137.30,1184.60 1137.30,1175.00" fill="#ff0000" stroke="#ff0000" stroke-width="6.80" stroke-linejoin="round"/>
<polygon points="1168.60,1177.60 1178.20,1177.60 1181.80,1181.20 1181.80,1190.80 1178.20,1194.40 1168.60,1194.40 1165.00,1190.80 1165.00,1181.20" fill="#ff0000" stroke="#ff0000" stroke-width="6.80" stroke-linejoin="round"/>
<polygon points="1192.80,1183.70 1202.40,1183.70 1206.00,1187.30 1206.00,1196.90 1202.40,1200.50 1192.80,1200.50 1189.20,1196.90 1189.20,1187.30" fill="#ff0000" stroke="#ff0000" stroke-width="6.80" stroke-linejoin="round"/>
<polygon points="1214.90,1191.00 1224.50,1191.00 1228.10,1194.60 1228.10,1204.20 1224.50,1207.80 1214.90,1207.80 1211.30,1204.20 1211.30,1194.60" fill="#ff0000" stroke="#ff0000" stroke-width="6.80" stroke-linejoin="round"/>
<polygon points="1234.50,1197.20 1244.10,1197.20 1247.70,1200.80 1247.70,1210.40 1244.10,1214.00 1234.50,1214.00 1230.90,1210.40 1230.90,1200.80" fill="#ff0000" stroke="#ff0000" stroke-width="6.80" stroke-linejoin="round"/>
<line x1="789.30" y1="1292.50" x2="801.10" y2="1292.50" stroke="#000" stroke-width="4.60" stroke-linecap="butt"/>
<text transform="translate(722.00,1304.47) scale(1.1238,1)" font-size="33.36" fill="#000" stroke="#000" stroke-width="0.60" stroke-linejoin="round">0.0</text>
<line x1="789.30" y1="1180.60" x2="801.10" y2="1180.60" stroke="#000" stroke-width="4.60" stroke-linecap="butt"/>
<text transform="translate(722.00,1192.57) scale(1.1259,1)" font-size="33.36" fill="#000" stroke="#000" stroke-width="0.60" stroke-linejoin="round">0.5</text>
<line x1="789.30" y1="1068.70" x2="801.10" y2="1068.70" stroke="#000" stroke-width="4.60" stroke-linecap="butt"/>
<text transform="translate(720.61,1080.67) scale(1.1546,1)" font-size="33.36" fill="#000" stroke="#000" stroke-width="0.60" stroke-linejoin="round">1.0</text>
<line x1="844.80" y1="1292.50" x2="844.80" y2="1304.00" stroke="#000" stroke-width="4.60" stroke-linecap="butt"/>
<text transform="translate(835.58,1342.46) scale(1.0105,1)" font-size="33.78" fill="#000" stroke="#000" stroke-width="0.60" stroke-linejoin="round">0</text>
<line x1="1064.55" y1="1292.50" x2="1064.55" y2="1304.00" stroke="#000" stroke-width="4.60" stroke-linecap="butt"/>
<text transform="translate(1055.33,1342.46) scale(1.0015,1)" font-size="34.27" fill="#000" stroke="#000" stroke-width="0.60" stroke-linejoin="round">5</text>
<line x1="1284.30" y1="1292.50" x2="1284.30" y2="1304.00" stroke="#000" stroke-width="4.60" stroke-linecap="butt"/>
<text transform="translate(1262.86,1342.46) scale(1.1218,1)" font-size="33.78" fill="#000" stroke="#000" stroke-width="0.60" stroke-linejoin="round">10</text>
<rect x="801.10" y="1068.70" width="571.20" height="223.80" fill="none" stroke="#000" stroke-width="4.60" stroke-linejoin="miter"/>
<text transform="translate(816.79,1112.80) scale(1.0072,1)" font-size="48.29" fill="#000">P</text>
<text transform="translate(848.23,1098.15) scale(1.0738,1)" font-size="49.03" fill="#000">-</text>
<text transform="translate(325.38,796.90) scale(1.0441,1)" font-size="37.20" fill="#ff0000" stroke="#ff0000" stroke-width="0.60" stroke-linejoin="round">photon</text>
<text transform="translate(285.03,913.10) scale(1.0329,1)" font-size="38.00" fill="#000" stroke="#000" stroke-width="0.60" stroke-linejoin="round">exciton</text>
<line x1="448.10" y1="792.20" x2="478.60" y2="799.30" stroke="#ff0000" stroke-width="5.40" stroke-linecap="round"/>
<polyline points="467.81,790.38 478.60,799.30" fill="none" stroke="#ff0000" stroke-width="5.40" stroke-linecap="round"/>
<polyline points="464.98,802.54 478.60,799.30" fill="none" stroke="#ff0000" stroke-width="5.40" stroke-linecap="round"/>
<line x1="413.50" y1="899.70" x2="470.50" y2="891.40" stroke="#000" stroke-width="5.00" stroke-linecap="round"/>
<polyline points="457.20,887.02 470.50,891.40" fill="none" stroke="#000" stroke-width="5.00" stroke-linecap="round"/>
<polyline points="459.00,899.39 470.50,891.40" fill="none" stroke="#000" stroke-width="5.00" stroke-linecap="round"/>
<text transform="translate(330.81,1382.60) scale(0.9616,1)" font-size="41.00" font-style="italic" fill="#000">k</text>
<text transform="translate(350.89,1390.81) scale(1.0369,1)" font-size="25.81" fill="#000">||</text>
<text transform="translate(376.80,1382.60) scale(1.0149,1)" font-size="41.00" fill="#000">(μm</text>
<text transform="translate(448.97,1372.54) scale(0.5298,1)" font-size="51.61" fill="#000">-</text>
<text transform="translate(459.72,1366.00) scale(0.6290,1)" font-size="27.20" fill="#000">1</text>
<text transform="translate(475.94,1382.73) scale(0.8127,1)" font-size="42.25" fill="#000">)</text>
<text transform="translate(1008.31,1382.60) scale(0.9616,1)" font-size="41.00" font-style="italic" fill="#000">k</text>
<text transform="translate(1028.39,1390.81) scale(1.0369,1)" font-size="25.81" fill="#000">||</text>
<text transform="translate(1054.30,1382.60) scale(1.0149,1)" font-size="41.00" fill="#000">(μm</text>
<text transform="translate(1126.47,1372.54) scale(0.5298,1)" font-size="51.61" fill="#000">-</text>
<text transform="translate(1137.22,1366.00) scale(0.6290,1)" font-size="27.20" fill="#000">1</text>
<text transform="translate(1153.44,1382.73) scale(0.8127,1)" font-size="42.25" fill="#000">)</text>
<text transform="translate(2.54,34.53) scale(1.0282,1)" font-size="47.49" font-weight="bold" fill="#000">a</text>
<text transform="translate(715.33,34.83) scale(1.0778,1)" font-size="46.67" font-weight="bold" fill="#000">b</text>
<text transform="translate(2.44,710.51) scale(1.0015,1)" font-size="48.95" font-weight="bold" fill="#000">c</text>
<text transform="translate(716.77,710.02) scale(1.0147,1)" font-size="47.62" font-weight="bold" fill="#000">d</text>
<text transform="translate(2.30,1036.53) scale(1.0682,1)" font-size="46.76" font-weight="bold" fill="#000">e</text>
<text transform="translate(717.95,1037.10) scale(1.0200,1)" font-size="47.86" font-weight="bold" fill="#000">f</text>
</svg>
</body></html>
